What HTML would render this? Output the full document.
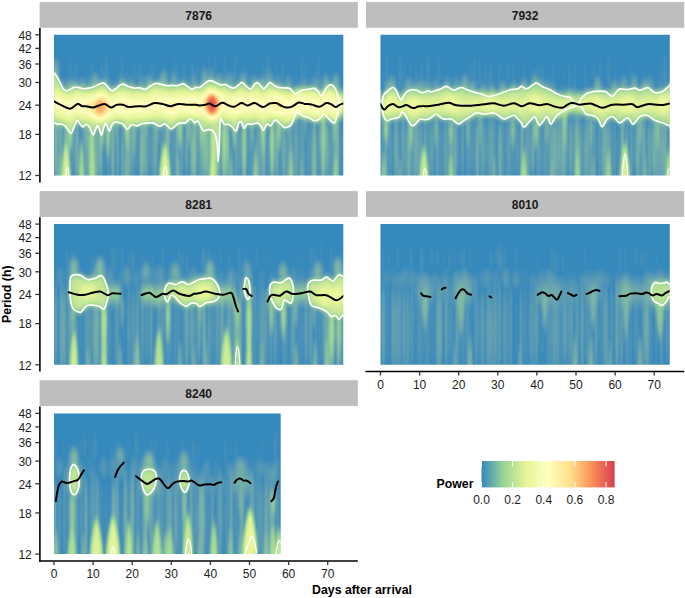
<!DOCTYPE html><html><head><meta charset="utf-8"><style>html,body{margin:0;padding:0;background:#fff;width:685px;height:598px;overflow:hidden;position:relative}text{font-family:"Liberation Sans",sans-serif}</style></head><body><svg width="685" height="598" viewBox="0 0 685 598" style="position:absolute;left:0;top:0"><rect x="39.6" y="1.95" width="318.2" height="25.85" fill="#bebebe"/><text x="198.7" y="19.50" font-family="Liberation Sans, sans-serif" font-size="12" font-weight="bold" fill="#1a1a1a" text-anchor="middle">7876</text><rect x="366.0" y="1.95" width="318.2" height="25.85" fill="#bebebe"/><text x="525.1" y="19.50" font-family="Liberation Sans, sans-serif" font-size="12" font-weight="bold" fill="#1a1a1a" text-anchor="middle">7932</text><rect x="39.6" y="191.1" width="318.2" height="25.85" fill="#bebebe"/><text x="198.7" y="208.65" font-family="Liberation Sans, sans-serif" font-size="12" font-weight="bold" fill="#1a1a1a" text-anchor="middle">8281</text><rect x="366.0" y="191.1" width="318.2" height="25.85" fill="#bebebe"/><text x="525.1" y="208.65" font-family="Liberation Sans, sans-serif" font-size="12" font-weight="bold" fill="#1a1a1a" text-anchor="middle">8010</text><rect x="39.6" y="380.2" width="318.2" height="25.85" fill="#bebebe"/><text x="198.7" y="397.75" font-family="Liberation Sans, sans-serif" font-size="12" font-weight="bold" fill="#1a1a1a" text-anchor="middle">8240</text><defs><filter id="cm" filterUnits="userSpaceOnUse" x="0" y="0" width="685" height="598" color-interpolation-filters="sRGB"><feComponentTransfer><feFuncR type="table" tableValues="0.196 0.284 0.349 0.403 0.450 0.492 0.530 0.566 0.600 0.640 0.679 0.717 0.755 0.792 0.829 0.866 0.902 0.914 0.927 0.939 0.951 0.964 0.976 0.988 1.000 1.000 1.000 1.000 1.000 1.000 0.999 0.998 0.996 0.999 1.000 1.000 1.000 0.998 0.996 0.992 0.988 0.970 0.951 0.932 0.913 0.894 0.875 0.855 0.835"/><feFuncG type="table" tableValues="0.533 0.569 0.605 0.642 0.680 0.718 0.757 0.796 0.835 0.851 0.867 0.882 0.898 0.914 0.929 0.945 0.961 0.966 0.971 0.976 0.980 0.985 0.990 0.995 1.000 0.985 0.969 0.954 0.939 0.924 0.909 0.894 0.878 0.839 0.799 0.759 0.719 0.679 0.637 0.596 0.553 0.517 0.481 0.445 0.408 0.369 0.330 0.288 0.243"/><feFuncB type="table" tableValues="0.741 0.724 0.705 0.687 0.667 0.647 0.626 0.604 0.580 0.583 0.585 0.587 0.589 0.591 0.593 0.594 0.596 0.615 0.634 0.654 0.673 0.692 0.711 0.730 0.749 0.723 0.698 0.672 0.647 0.621 0.596 0.571 0.545 0.520 0.494 0.470 0.445 0.420 0.396 0.373 0.349 0.345 0.340 0.336 0.331 0.326 0.321 0.315 0.310"/></feComponentTransfer></filter><clipPath id="c7876"><rect x="54.0" y="34.8" width="289.3" height="140.7"/></clipPath><clipPath id="c7932"><rect x="380.5" y="34.8" width="289.3" height="140.7"/></clipPath><clipPath id="c8281"><rect x="54.0" y="224.1" width="289.3" height="140.7"/></clipPath><clipPath id="c8010"><rect x="380.5" y="224.1" width="289.3" height="140.7"/></clipPath><clipPath id="c8240"><rect x="54.0" y="413.4" width="226.7" height="140.7"/></clipPath><filter id="b2p2_3p5" filterUnits="userSpaceOnUse" x="0" y="0" width="685" height="598" color-interpolation-filters="sRGB"><feGaussianBlur stdDeviation="2.2 3.5"/></filter><filter id="b1p1_5" filterUnits="userSpaceOnUse" x="0" y="0" width="685" height="598" color-interpolation-filters="sRGB"><feGaussianBlur stdDeviation="1.1 5"/></filter><filter id="b1p8_4" filterUnits="userSpaceOnUse" x="0" y="0" width="685" height="598" color-interpolation-filters="sRGB"><feGaussianBlur stdDeviation="1.8 4"/></filter><filter id="b1p5_3p3" filterUnits="userSpaceOnUse" x="0" y="0" width="685" height="598" color-interpolation-filters="sRGB"><feGaussianBlur stdDeviation="1.5 3.3"/></filter><filter id="b2_5p5" filterUnits="userSpaceOnUse" x="0" y="0" width="685" height="598" color-interpolation-filters="sRGB"><feGaussianBlur stdDeviation="2 5.5"/></filter><filter id="b3_4" filterUnits="userSpaceOnUse" x="0" y="0" width="685" height="598" color-interpolation-filters="sRGB"><feGaussianBlur stdDeviation="3 4"/></filter><filter id="b3_7" filterUnits="userSpaceOnUse" x="0" y="0" width="685" height="598" color-interpolation-filters="sRGB"><feGaussianBlur stdDeviation="3 7"/></filter></defs><g clip-path="url(#c7876)"><g filter="url(#cm)"><rect x="34.0" y="14.799999999999997" width="329.3" height="180.7" fill="#010101"/><g filter="url(#b2p2_3p5)" style="mix-blend-mode:lighten"><ellipse cx="55.6" cy="70.8" rx="2.3" ry="10.8" fill="#1f1f1f"/><ellipse cx="63.4" cy="86.8" rx="3.0" ry="7.1" fill="#0e0e0e"/><ellipse cx="70.1" cy="87.5" rx="3.0" ry="7.1" fill="#202020"/><ellipse cx="75.3" cy="85.9" rx="2.3" ry="6.4" fill="#1b1b1b"/><ellipse cx="82.5" cy="86.4" rx="2.7" ry="7.6" fill="#181818"/><ellipse cx="89.9" cy="85.4" rx="2.3" ry="8.2" fill="#101010"/><ellipse cx="95.4" cy="83.0" rx="3.2" ry="9.4" fill="#191919"/><ellipse cx="105.8" cy="82.5" rx="2.6" ry="7.9" fill="#131313"/><ellipse cx="113.2" cy="89.0" rx="3.0" ry="6.0" fill="#141414"/><ellipse cx="121.4" cy="83.3" rx="2.5" ry="6.1" fill="#1a1a1a"/><ellipse cx="126.3" cy="83.7" rx="2.8" ry="6.8" fill="#0a0a0a"/><ellipse cx="132.3" cy="85.9" rx="2.1" ry="6.8" fill="#191919"/><ellipse cx="141.7" cy="85.3" rx="2.5" ry="9.3" fill="#141414"/><ellipse cx="149.7" cy="84.4" rx="3.3" ry="7.6" fill="#1e1e1e"/><ellipse cx="158.9" cy="82.6" rx="3.0" ry="6.0" fill="#0b0b0b"/><ellipse cx="163.9" cy="81.1" rx="2.5" ry="10.7" fill="#1e1e1e"/><ellipse cx="174.1" cy="82.3" rx="2.2" ry="9.5" fill="#1b1b1b"/><ellipse cx="184.1" cy="82.7" rx="3.2" ry="6.7" fill="#0d0d0d"/><ellipse cx="194.0" cy="84.6" rx="3.1" ry="10.5" fill="#141414"/><ellipse cx="204.4" cy="79.9" rx="2.2" ry="10.8" fill="#1e1e1e"/><ellipse cx="211.4" cy="78.4" rx="2.1" ry="8.7" fill="#191919"/><ellipse cx="218.4" cy="81.8" rx="2.1" ry="7.4" fill="#1d1d1d"/><ellipse cx="223.8" cy="82.7" rx="3.4" ry="7.3" fill="#0e0e0e"/><ellipse cx="229.3" cy="83.0" rx="3.5" ry="10.5" fill="#111111"/><ellipse cx="234.8" cy="83.9" rx="3.0" ry="10.4" fill="#090909"/><ellipse cx="243.6" cy="81.5" rx="3.3" ry="8.3" fill="#171717"/><ellipse cx="253.6" cy="83.6" rx="2.4" ry="7.4" fill="#191919"/><ellipse cx="261.9" cy="84.9" rx="2.8" ry="7.7" fill="#1f1f1f"/><ellipse cx="268.5" cy="80.3" rx="3.0" ry="10.5" fill="#131313"/><ellipse cx="273.7" cy="83.7" rx="2.3" ry="6.3" fill="#0c0c0c"/><ellipse cx="279.3" cy="85.2" rx="2.5" ry="7.8" fill="#141414"/><ellipse cx="288.3" cy="85.3" rx="3.0" ry="9.4" fill="#121212"/><ellipse cx="297.4" cy="91.3" rx="2.8" ry="6.6" fill="#161616"/><ellipse cx="304.2" cy="86.8" rx="3.0" ry="9.7" fill="#0f0f0f"/><ellipse cx="311.8" cy="86.6" rx="2.7" ry="7.5" fill="#0a0a0a"/><ellipse cx="316.9" cy="87.1" rx="3.5" ry="9.7" fill="#131313"/><ellipse cx="326.0" cy="85.2" rx="2.4" ry="9.6" fill="#202020"/><ellipse cx="335.7" cy="85.7" rx="2.7" ry="10.9" fill="#1f1f1f"/><ellipse cx="340.9" cy="101.6" rx="2.6" ry="8.3" fill="#0f0f0f"/></g><g filter="url(#b1p1_5)" style="mix-blend-mode:lighten"><ellipse cx="52.5" cy="148.3" rx="1.6" ry="36.4" fill="#1d1d1d"/><ellipse cx="56.2" cy="144.5" rx="1.5" ry="34.6" fill="#1e1e1e"/><ellipse cx="60.8" cy="146.5" rx="1.3" ry="37.7" fill="#1d1d1d"/><ellipse cx="65.1" cy="149.4" rx="1.2" ry="29.8" fill="#222222"/><ellipse cx="67.8" cy="147.4" rx="1.4" ry="34.0" fill="#222222"/><ellipse cx="71.4" cy="149.4" rx="1.0" ry="35.3" fill="#0f0f0f"/><ellipse cx="74.6" cy="148.3" rx="1.2" ry="34.0" fill="#0f0f0f"/><ellipse cx="77.3" cy="148.8" rx="1.6" ry="32.3" fill="#181818"/><ellipse cx="82.2" cy="150.1" rx="1.6" ry="37.3" fill="#0c0c0c"/><ellipse cx="86.5" cy="152.8" rx="1.7" ry="34.0" fill="#141414"/><ellipse cx="89.9" cy="151.9" rx="1.4" ry="33.0" fill="#212121"/><ellipse cx="93.9" cy="151.1" rx="1.0" ry="32.7" fill="#0f0f0f"/><ellipse cx="96.9" cy="150.1" rx="1.4" ry="33.2" fill="#1c1c1c"/><ellipse cx="100.6" cy="149.3" rx="1.4" ry="34.2" fill="#1e1e1e"/><ellipse cx="104.4" cy="153.9" rx="1.0" ry="36.7" fill="#0a0a0a"/><ellipse cx="108.4" cy="152.7" rx="1.3" ry="37.9" fill="#0e0e0e"/><ellipse cx="112.8" cy="148.3" rx="1.4" ry="36.7" fill="#202020"/><ellipse cx="117.6" cy="148.7" rx="1.4" ry="36.7" fill="#151515"/><ellipse cx="122.5" cy="154.0" rx="1.0" ry="35.4" fill="#1e1e1e"/><ellipse cx="126.8" cy="149.7" rx="1.6" ry="34.2" fill="#171717"/><ellipse cx="129.6" cy="148.0" rx="1.7" ry="36.8" fill="#181818"/><ellipse cx="133.4" cy="150.8" rx="1.3" ry="35.5" fill="#121212"/><ellipse cx="137.4" cy="146.2" rx="1.3" ry="34.7" fill="#0a0a0a"/><ellipse cx="141.4" cy="153.5" rx="1.6" ry="35.1" fill="#1e1e1e"/><ellipse cx="144.7" cy="144.4" rx="1.6" ry="34.6" fill="#1b1b1b"/><ellipse cx="147.3" cy="148.2" rx="1.6" ry="38.1" fill="#101010"/><ellipse cx="150.8" cy="148.0" rx="1.1" ry="32.8" fill="#0d0d0d"/><ellipse cx="154.1" cy="148.6" rx="1.5" ry="35.9" fill="#151515"/><ellipse cx="156.8" cy="145.6" rx="1.3" ry="34.5" fill="#141414"/><ellipse cx="161.5" cy="152.3" rx="1.4" ry="36.3" fill="#0f0f0f"/><ellipse cx="164.2" cy="149.1" rx="1.0" ry="31.6" fill="#0d0d0d"/><ellipse cx="168.5" cy="151.0" rx="1.5" ry="39.5" fill="#181818"/><ellipse cx="173.0" cy="150.1" rx="1.4" ry="33.5" fill="#0f0f0f"/><ellipse cx="176.9" cy="145.9" rx="1.2" ry="36.4" fill="#1a1a1a"/><ellipse cx="181.8" cy="150.8" rx="1.7" ry="31.7" fill="#111111"/><ellipse cx="186.6" cy="145.4" rx="1.6" ry="33.5" fill="#141414"/><ellipse cx="191.3" cy="153.0" rx="1.0" ry="32.6" fill="#1f1f1f"/><ellipse cx="194.3" cy="151.1" rx="1.7" ry="33.8" fill="#232323"/><ellipse cx="197.8" cy="150.4" rx="1.3" ry="33.6" fill="#0e0e0e"/><ellipse cx="200.9" cy="148.6" rx="1.1" ry="36.2" fill="#1b1b1b"/><ellipse cx="204.3" cy="145.1" rx="1.7" ry="36.1" fill="#212121"/><ellipse cx="207.7" cy="147.1" rx="1.7" ry="34.2" fill="#1e1e1e"/><ellipse cx="211.9" cy="151.2" rx="1.6" ry="38.2" fill="#222222"/><ellipse cx="216.2" cy="149.6" rx="1.4" ry="37.9" fill="#232323"/><ellipse cx="219.0" cy="149.6" rx="1.1" ry="38.3" fill="#212121"/><ellipse cx="223.0" cy="147.6" rx="1.6" ry="34.7" fill="#131313"/><ellipse cx="227.7" cy="149.9" rx="1.5" ry="30.5" fill="#232323"/><ellipse cx="231.6" cy="149.4" rx="1.1" ry="39.8" fill="#0a0a0a"/><ellipse cx="236.1" cy="152.2" rx="1.6" ry="36.0" fill="#121212"/><ellipse cx="239.6" cy="145.9" rx="1.4" ry="36.1" fill="#0f0f0f"/><ellipse cx="244.3" cy="148.2" rx="1.4" ry="33.9" fill="#222222"/><ellipse cx="248.7" cy="148.4" rx="1.6" ry="31.5" fill="#090909"/><ellipse cx="251.6" cy="151.2" rx="1.7" ry="39.5" fill="#0a0a0a"/><ellipse cx="255.3" cy="149.7" rx="1.1" ry="38.0" fill="#0d0d0d"/><ellipse cx="258.2" cy="155.1" rx="1.7" ry="34.6" fill="#131313"/><ellipse cx="261.5" cy="148.3" rx="1.2" ry="38.3" fill="#161616"/><ellipse cx="264.2" cy="149.2" rx="1.0" ry="36.8" fill="#232323"/><ellipse cx="267.9" cy="155.1" rx="1.2" ry="35.3" fill="#0b0b0b"/><ellipse cx="272.8" cy="153.4" rx="1.1" ry="37.2" fill="#0f0f0f"/><ellipse cx="276.7" cy="148.6" rx="1.5" ry="36.7" fill="#1b1b1b"/><ellipse cx="280.1" cy="151.4" rx="1.2" ry="39.2" fill="#0b0b0b"/><ellipse cx="283.7" cy="151.8" rx="1.5" ry="31.7" fill="#1a1a1a"/><ellipse cx="287.1" cy="154.2" rx="1.2" ry="35.3" fill="#111111"/><ellipse cx="290.5" cy="150.8" rx="1.3" ry="35.1" fill="#181818"/><ellipse cx="293.7" cy="147.5" rx="1.0" ry="37.9" fill="#0f0f0f"/><ellipse cx="296.5" cy="150.3" rx="1.1" ry="38.0" fill="#1a1a1a"/><ellipse cx="300.3" cy="151.6" rx="1.6" ry="36.8" fill="#0d0d0d"/><ellipse cx="303.1" cy="154.4" rx="1.7" ry="36.3" fill="#0e0e0e"/><ellipse cx="307.6" cy="152.4" rx="1.2" ry="37.4" fill="#0c0c0c"/><ellipse cx="311.0" cy="149.5" rx="1.7" ry="29.7" fill="#0d0d0d"/><ellipse cx="314.4" cy="154.3" rx="1.7" ry="34.6" fill="#1f1f1f"/><ellipse cx="318.7" cy="147.3" rx="1.5" ry="33.4" fill="#0e0e0e"/><ellipse cx="323.0" cy="150.0" rx="1.5" ry="40.4" fill="#101010"/><ellipse cx="327.5" cy="151.6" rx="1.4" ry="32.6" fill="#171717"/><ellipse cx="331.1" cy="147.8" rx="1.3" ry="38.7" fill="#101010"/><ellipse cx="334.7" cy="146.8" rx="1.4" ry="33.7" fill="#0b0b0b"/><ellipse cx="337.6" cy="148.6" rx="1.2" ry="35.0" fill="#1f1f1f"/><ellipse cx="341.7" cy="150.0" rx="1.2" ry="34.8" fill="#090909"/><ellipse cx="345.8" cy="149.6" rx="1.3" ry="32.0" fill="#1b1b1b"/><ellipse cx="54.4" cy="83.6" rx="1.2" ry="26.1" fill="#030303"/><ellipse cx="60.6" cy="75.5" rx="1.2" ry="24.1" fill="#050505"/><ellipse cx="65.7" cy="84.7" rx="1.7" ry="24.7" fill="#010101"/><ellipse cx="70.1" cy="81.2" rx="1.5" ry="26.0" fill="#060606"/><ellipse cx="75.8" cy="85.9" rx="1.4" ry="24.4" fill="#060606"/><ellipse cx="81.0" cy="79.5" rx="1.1" ry="26.1" fill="#020202"/><ellipse cx="86.8" cy="81.2" rx="1.0" ry="21.8" fill="#050505"/><ellipse cx="91.9" cy="80.9" rx="1.1" ry="29.6" fill="#050505"/><ellipse cx="97.8" cy="86.0" rx="1.5" ry="24.3" fill="#020202"/><ellipse cx="101.7" cy="83.0" rx="1.6" ry="24.2" fill="#060606"/><ellipse cx="106.5" cy="81.9" rx="1.7" ry="26.5" fill="#070707"/><ellipse cx="111.3" cy="81.0" rx="1.1" ry="28.7" fill="#020202"/><ellipse cx="117.7" cy="78.0" rx="1.1" ry="22.3" fill="#040404"/><ellipse cx="122.1" cy="76.0" rx="1.2" ry="25.1" fill="#060606"/><ellipse cx="126.9" cy="83.4" rx="1.0" ry="25.4" fill="#050505"/><ellipse cx="131.0" cy="80.0" rx="1.2" ry="25.9" fill="#040404"/><ellipse cx="135.3" cy="85.5" rx="1.5" ry="25.0" fill="#060606"/><ellipse cx="140.4" cy="82.8" rx="1.4" ry="22.8" fill="#060606"/><ellipse cx="145.1" cy="80.4" rx="1.2" ry="19.9" fill="#010101"/><ellipse cx="150.8" cy="85.2" rx="1.4" ry="25.3" fill="#070707"/><ellipse cx="154.7" cy="79.7" rx="1.4" ry="25.2" fill="#040404"/><ellipse cx="159.3" cy="80.2" rx="1.4" ry="24.0" fill="#000000"/><ellipse cx="163.7" cy="81.9" rx="1.3" ry="22.9" fill="#060606"/><ellipse cx="169.2" cy="76.5" rx="1.3" ry="25.6" fill="#020202"/><ellipse cx="174.4" cy="83.8" rx="1.7" ry="26.9" fill="#060606"/><ellipse cx="179.3" cy="85.2" rx="1.6" ry="25.5" fill="#030303"/><ellipse cx="183.7" cy="80.1" rx="1.1" ry="23.0" fill="#050505"/><ellipse cx="187.3" cy="82.4" rx="1.3" ry="26.7" fill="#030303"/><ellipse cx="192.5" cy="82.2" rx="1.6" ry="22.5" fill="#070707"/><ellipse cx="198.2" cy="81.0" rx="1.5" ry="22.7" fill="#050505"/><ellipse cx="203.6" cy="84.6" rx="1.5" ry="24.4" fill="#070707"/><ellipse cx="209.4" cy="78.5" rx="1.6" ry="23.5" fill="#050505"/><ellipse cx="215.1" cy="80.7" rx="1.7" ry="28.1" fill="#040404"/><ellipse cx="220.0" cy="82.3" rx="1.4" ry="25.4" fill="#000000"/><ellipse cx="224.8" cy="78.0" rx="1.3" ry="26.9" fill="#050505"/><ellipse cx="231.1" cy="82.6" rx="1.5" ry="23.5" fill="#030303"/><ellipse cx="235.3" cy="76.9" rx="1.2" ry="22.8" fill="#070707"/><ellipse cx="241.2" cy="82.3" rx="1.4" ry="25.4" fill="#030303"/><ellipse cx="245.2" cy="81.3" rx="1.5" ry="20.7" fill="#050505"/><ellipse cx="250.6" cy="80.6" rx="1.2" ry="27.7" fill="#040404"/><ellipse cx="256.7" cy="84.8" rx="1.2" ry="22.5" fill="#020202"/><ellipse cx="262.7" cy="80.4" rx="1.0" ry="22.2" fill="#070707"/><ellipse cx="267.5" cy="79.7" rx="1.6" ry="26.6" fill="#060606"/><ellipse cx="271.5" cy="84.6" rx="1.7" ry="22.9" fill="#030303"/><ellipse cx="276.8" cy="76.5" rx="1.2" ry="24.0" fill="#040404"/><ellipse cx="282.5" cy="80.6" rx="1.3" ry="26.9" fill="#060606"/><ellipse cx="288.1" cy="80.1" rx="1.2" ry="24.6" fill="#010101"/><ellipse cx="291.9" cy="83.7" rx="1.1" ry="25.7" fill="#000000"/><ellipse cx="296.1" cy="85.5" rx="1.0" ry="24.9" fill="#050505"/><ellipse cx="301.4" cy="79.7" rx="1.3" ry="27.4" fill="#060606"/><ellipse cx="305.2" cy="78.1" rx="1.3" ry="22.7" fill="#040404"/><ellipse cx="309.4" cy="79.6" rx="1.6" ry="21.8" fill="#030303"/><ellipse cx="315.0" cy="86.2" rx="1.2" ry="24.5" fill="#040404"/><ellipse cx="318.7" cy="79.0" rx="1.6" ry="24.4" fill="#060606"/><ellipse cx="323.9" cy="84.6" rx="1.7" ry="23.3" fill="#030303"/><ellipse cx="327.9" cy="79.7" rx="1.7" ry="27.1" fill="#000000"/><ellipse cx="331.5" cy="82.6" rx="1.3" ry="26.3" fill="#010101"/><ellipse cx="337.8" cy="80.1" rx="1.0" ry="19.2" fill="#000000"/><ellipse cx="342.1" cy="78.8" rx="1.1" ry="27.7" fill="#010101"/></g><g filter="url(#b1p8_4)" style="mix-blend-mode:lighten"><path d="M70.5,118.0 C70.9,118.0 71.4,120.4 71.7,122.1 C72.0,123.8 72.5,124.8 72.5,128.2 C72.5,131.6 72.0,138.5 71.7,142.5 C71.4,146.4 70.9,152.0 70.5,152.0 C70.1,152.0 69.6,146.4 69.3,142.5 C69.0,138.5 68.5,131.6 68.5,128.2 C68.5,124.8 69.0,123.8 69.3,122.1 C69.6,120.4 70.1,118.0 70.5,118.0Z" fill="#363636"/><path d="M92.0,122.0 C92.5,122.0 93.1,125.7 93.5,128.4 C93.9,131.0 94.5,132.6 94.5,137.9 C94.5,143.2 93.9,154.0 93.5,160.2 C93.1,166.3 92.5,175.0 92.0,175.0 C91.5,175.0 90.9,166.3 90.5,160.2 C90.1,154.0 89.5,143.2 89.5,137.9 C89.5,132.6 90.1,131.0 90.5,128.4 C90.9,125.7 91.5,122.0 92.0,122.0Z" fill="#2d2d2d"/><path d="M102.0,122.0 C102.3,122.0 102.8,124.0 103.0,125.4 C103.3,126.8 103.8,127.6 103.8,130.4 C103.8,133.2 103.3,138.9 103.0,142.2 C102.8,145.4 102.3,150.0 102.0,150.0 C101.7,150.0 101.2,145.4 101.0,142.2 C100.7,138.9 100.2,133.2 100.2,130.4 C100.2,127.6 100.7,126.8 101.0,125.4 C101.2,124.0 101.7,122.0 102.0,122.0Z" fill="#2d2d2d"/><path d="M108.0,120.0 C108.4,120.0 108.9,122.8 109.2,124.8 C109.5,126.8 110.0,128.0 110.0,132.0 C110.0,136.0 109.5,144.1 109.2,148.8 C108.9,153.5 108.4,160.0 108.0,160.0 C107.6,160.0 107.1,153.5 106.8,148.8 C106.5,144.1 106.0,136.0 106.0,132.0 C106.0,128.0 106.5,126.8 106.8,124.8 C107.1,122.8 107.6,120.0 108.0,120.0Z" fill="#2d2d2d"/><path d="M127.0,120.0 C127.4,120.0 127.9,122.1 128.2,123.6 C128.5,125.1 129.0,126.0 129.0,129.0 C129.0,132.0 128.5,138.1 128.2,141.6 C127.9,145.1 127.4,150.0 127.0,150.0 C126.6,150.0 126.1,145.1 125.8,141.6 C125.5,138.1 125.0,132.0 125.0,129.0 C125.0,126.0 125.5,125.1 125.8,123.6 C126.1,122.1 126.6,120.0 127.0,120.0Z" fill="#2d2d2d"/><path d="M134.0,120.0 C134.4,120.0 134.9,122.8 135.2,124.8 C135.5,126.8 136.0,128.0 136.0,132.0 C136.0,136.0 135.5,144.1 135.2,148.8 C134.9,153.5 134.4,160.0 134.0,160.0 C133.6,160.0 133.1,153.5 132.8,148.8 C132.5,144.1 132.0,136.0 132.0,132.0 C132.0,128.0 132.5,126.8 132.8,124.8 C133.1,122.8 133.6,120.0 134.0,120.0Z" fill="#1e1e1e"/><path d="M167.0,120.0 C167.3,120.0 167.7,122.5 167.9,124.2 C168.2,126.0 168.5,127.0 168.5,130.5 C168.5,134.0 168.2,141.1 167.9,145.2 C167.7,149.3 167.3,155.0 167.0,155.0 C166.7,155.0 166.3,149.3 166.1,145.2 C165.8,141.1 165.5,134.0 165.5,130.5 C165.5,127.0 165.8,126.0 166.1,124.2 C166.3,122.5 166.7,120.0 167.0,120.0Z" fill="#242424"/><path d="M180.0,118.0 C180.4,118.0 180.9,120.2 181.2,121.8 C181.5,123.4 182.0,124.4 182.0,127.6 C182.0,130.8 181.5,137.3 181.2,141.0 C180.9,144.8 180.4,150.0 180.0,150.0 C179.6,150.0 179.1,144.8 178.8,141.0 C178.5,137.3 178.0,130.8 178.0,127.6 C178.0,124.4 178.5,123.4 178.8,121.8 C179.1,120.2 179.6,118.0 180.0,118.0Z" fill="#303030"/><path d="M189.0,118.0 C189.3,118.0 189.7,120.1 189.9,121.6 C190.2,123.1 190.5,124.0 190.5,127.0 C190.5,130.0 190.2,136.1 189.9,139.6 C189.7,143.1 189.3,148.0 189.0,148.0 C188.7,148.0 188.3,143.1 188.1,139.6 C187.8,136.1 187.5,130.0 187.5,127.0 C187.5,124.0 187.8,123.1 188.1,121.6 C188.3,120.1 188.7,118.0 189.0,118.0Z" fill="#272727"/><path d="M202.0,120.0 C202.4,120.0 202.9,122.1 203.2,123.6 C203.5,125.1 204.0,126.0 204.0,129.0 C204.0,132.0 203.5,138.1 203.2,141.6 C202.9,145.1 202.4,150.0 202.0,150.0 C201.6,150.0 201.1,145.1 200.8,141.6 C200.5,138.1 200.0,132.0 200.0,129.0 C200.0,126.0 200.5,125.1 200.8,123.6 C201.1,122.1 201.6,120.0 202.0,120.0Z" fill="#2d2d2d"/><path d="M214.0,118.0 C214.6,118.0 215.3,122.7 215.8,126.0 C216.3,129.4 217.0,131.4 217.0,138.1 C217.0,144.8 216.3,158.4 215.8,166.2 C215.3,174.1 214.6,185.0 214.0,185.0 C213.4,185.0 212.7,174.1 212.2,166.2 C211.7,158.4 211.0,144.8 211.0,138.1 C211.0,131.4 211.7,129.4 212.2,126.0 C212.7,122.7 213.4,118.0 214.0,118.0Z" fill="#424242"/><path d="M224.5,118.0 C224.9,118.0 225.5,122.7 225.8,126.0 C226.2,129.4 226.8,131.4 226.8,138.1 C226.8,144.8 226.2,158.4 225.8,166.2 C225.5,174.1 224.9,185.0 224.5,185.0 C224.1,185.0 223.5,174.1 223.2,166.2 C222.8,158.4 222.2,144.8 222.2,138.1 C222.2,131.4 222.8,129.4 223.2,126.0 C223.5,122.7 224.1,118.0 224.5,118.0Z" fill="#333333"/><path d="M234.5,120.0 C234.8,120.0 235.3,122.1 235.6,123.6 C235.8,125.1 236.2,126.0 236.2,129.0 C236.2,132.0 235.8,138.1 235.6,141.6 C235.3,145.1 234.8,150.0 234.5,150.0 C234.2,150.0 233.7,145.1 233.4,141.6 C233.2,138.1 232.8,132.0 232.8,129.0 C232.8,126.0 233.2,125.1 233.4,123.6 C233.7,122.1 234.2,120.0 234.5,120.0Z" fill="#2d2d2d"/><path d="M244.0,120.0 C244.4,120.0 245.0,124.5 245.3,127.8 C245.7,131.1 246.2,133.0 246.2,139.5 C246.2,146.0 245.7,159.2 245.3,166.8 C245.0,174.4 244.4,185.0 244.0,185.0 C243.6,185.0 243.0,174.4 242.7,166.8 C242.3,159.2 241.8,146.0 241.8,139.5 C241.8,133.0 242.3,131.1 242.7,127.8 C243.0,124.5 243.6,120.0 244.0,120.0Z" fill="#272727"/><path d="M263.0,120.0 C263.4,120.0 263.9,122.5 264.2,124.2 C264.5,126.0 265.0,127.0 265.0,130.5 C265.0,134.0 264.5,141.1 264.2,145.2 C263.9,149.3 263.4,155.0 263.0,155.0 C262.6,155.0 262.1,149.3 261.8,145.2 C261.5,141.1 261.0,134.0 261.0,130.5 C261.0,127.0 261.5,126.0 261.8,124.2 C262.1,122.5 262.6,120.0 263.0,120.0Z" fill="#2d2d2d"/><path d="M272.0,118.0 C272.4,118.0 273.0,122.7 273.4,126.0 C273.7,129.4 274.2,131.4 274.2,138.1 C274.2,144.8 273.7,158.4 273.4,166.2 C273.0,174.1 272.4,185.0 272.0,185.0 C271.6,185.0 271.0,174.1 270.6,166.2 C270.3,158.4 269.8,144.8 269.8,138.1 C269.8,131.4 270.3,129.4 270.6,126.0 C271.0,122.7 271.6,118.0 272.0,118.0Z" fill="#303030"/><path d="M279.0,118.0 C279.5,118.0 280.1,120.2 280.5,121.8 C280.9,123.4 281.5,124.4 281.5,127.6 C281.5,130.8 280.9,137.3 280.5,141.0 C280.1,144.8 279.5,150.0 279.0,150.0 C278.5,150.0 277.9,144.8 277.5,141.0 C277.1,137.3 276.5,130.8 276.5,127.6 C276.5,124.4 277.1,123.4 277.5,121.8 C277.9,120.2 278.5,118.0 279.0,118.0Z" fill="#272727"/><path d="M323.5,112.0 C324.1,112.0 324.8,117.1 325.3,120.8 C325.8,124.4 326.5,126.6 326.5,133.9 C326.5,141.2 325.8,156.0 325.3,164.6 C324.8,173.1 324.1,185.0 323.5,185.0 C322.9,185.0 322.2,173.1 321.7,164.6 C321.2,156.0 320.5,141.2 320.5,133.9 C320.5,126.6 321.2,124.4 321.7,120.8 C322.2,117.1 322.9,112.0 323.5,112.0Z" fill="#272727"/><path d="M335.0,115.0 C335.4,115.0 335.9,117.5 336.2,119.2 C336.5,121.0 337.0,122.0 337.0,125.5 C337.0,129.0 336.5,136.1 336.2,140.2 C335.9,144.3 335.4,150.0 335.0,150.0 C334.6,150.0 334.1,144.3 333.8,140.2 C333.5,136.1 333.0,129.0 333.0,125.5 C333.0,122.0 333.5,121.0 333.8,119.2 C334.1,117.5 334.6,115.0 335.0,115.0Z" fill="#272727"/><path d="M58.0,118.0 C58.3,118.0 58.6,120.2 58.9,121.8 C59.1,123.4 59.5,124.4 59.5,127.6 C59.5,130.8 59.1,137.3 58.9,141.0 C58.6,144.8 58.3,150.0 58.0,150.0 C57.7,150.0 57.4,144.8 57.1,141.0 C56.9,137.3 56.5,130.8 56.5,127.6 C56.5,124.4 56.9,123.4 57.1,121.8 C57.4,120.2 57.7,118.0 58.0,118.0Z" fill="#181818"/><path d="M86.0,120.0 C86.3,120.0 86.7,122.1 86.9,123.6 C87.2,125.1 87.5,126.0 87.5,129.0 C87.5,132.0 87.2,138.1 86.9,141.6 C86.7,145.1 86.3,150.0 86.0,150.0 C85.7,150.0 85.3,145.1 85.1,141.6 C84.8,138.1 84.5,132.0 84.5,129.0 C84.5,126.0 84.8,125.1 85.1,123.6 C85.3,122.1 85.7,120.0 86.0,120.0Z" fill="#1e1e1e"/><path d="M116.0,118.0 C116.3,118.0 116.7,119.5 116.9,120.6 C117.2,121.7 117.5,122.4 117.5,124.6 C117.5,126.8 117.2,131.3 116.9,133.8 C116.7,136.4 116.3,140.0 116.0,140.0 C115.7,140.0 115.3,136.4 115.1,133.8 C114.8,131.3 114.5,126.8 114.5,124.6 C114.5,122.4 114.8,121.7 115.1,120.6 C115.3,119.5 115.7,118.0 116.0,118.0Z" fill="#1e1e1e"/><path d="M145.0,118.0 C145.3,118.0 145.7,119.5 145.9,120.6 C146.2,121.7 146.5,122.4 146.5,124.6 C146.5,126.8 146.2,131.3 145.9,133.8 C145.7,136.4 145.3,140.0 145.0,140.0 C144.7,140.0 144.3,136.4 144.1,133.8 C143.8,131.3 143.5,126.8 143.5,124.6 C143.5,122.4 143.8,121.7 144.1,120.6 C144.3,119.5 144.7,118.0 145.0,118.0Z" fill="#181818"/><path d="M157.0,118.0 C157.3,118.0 157.7,119.9 157.9,121.2 C158.2,122.6 158.5,123.4 158.5,126.1 C158.5,128.8 158.2,134.3 157.9,137.4 C157.7,140.6 157.3,145.0 157.0,145.0 C156.7,145.0 156.3,140.6 156.1,137.4 C155.8,134.3 155.5,128.8 155.5,126.1 C155.5,123.4 155.8,122.6 156.1,121.2 C156.3,119.9 156.7,118.0 157.0,118.0Z" fill="#1b1b1b"/><path d="M196.0,118.0 C196.3,118.0 196.7,119.5 196.9,120.6 C197.2,121.7 197.5,122.4 197.5,124.6 C197.5,126.8 197.2,131.3 196.9,133.8 C196.7,136.4 196.3,140.0 196.0,140.0 C195.7,140.0 195.3,136.4 195.1,133.8 C194.8,131.3 194.5,126.8 194.5,124.6 C194.5,122.4 194.8,121.7 195.1,120.6 C195.3,119.5 195.7,118.0 196.0,118.0Z" fill="#1e1e1e"/><path d="M252.0,118.0 C252.3,118.0 252.7,120.2 252.9,121.8 C253.2,123.4 253.5,124.4 253.5,127.6 C253.5,130.8 253.2,137.3 252.9,141.0 C252.7,144.8 252.3,150.0 252.0,150.0 C251.7,150.0 251.3,144.8 251.1,141.0 C250.8,137.3 250.5,130.8 250.5,127.6 C250.5,124.4 250.8,123.4 251.1,121.8 C251.3,120.2 251.7,118.0 252.0,118.0Z" fill="#1e1e1e"/><path d="M289.0,118.0 C289.3,118.0 289.6,119.5 289.9,120.6 C290.1,121.7 290.5,122.4 290.5,124.6 C290.5,126.8 290.1,131.3 289.9,133.8 C289.6,136.4 289.3,140.0 289.0,140.0 C288.7,140.0 288.4,136.4 288.1,133.8 C287.9,131.3 287.5,126.8 287.5,124.6 C287.5,122.4 287.9,121.7 288.1,120.6 C288.4,119.5 288.7,118.0 289.0,118.0Z" fill="#181818"/><path d="M305.0,112.0 C305.3,112.0 305.6,114.0 305.9,115.4 C306.1,116.8 306.5,117.6 306.5,120.4 C306.5,123.2 306.1,128.9 305.9,132.2 C305.6,135.4 305.3,140.0 305.0,140.0 C304.7,140.0 304.4,135.4 304.1,132.2 C303.9,128.9 303.5,123.2 303.5,120.4 C303.5,117.6 303.9,116.8 304.1,115.4 C304.4,114.0 304.7,112.0 305.0,112.0Z" fill="#151515"/><path d="M66.0,145.0 C66.8,145.0 67.7,152.3 68.4,157.6 C69.1,162.8 70.0,172.0 70.0,176.5 C70.0,181.0 69.1,182.3 68.4,184.6 C67.7,186.8 66.8,190.0 66.0,190.0 C65.2,190.0 64.3,186.8 63.6,184.6 C62.9,182.3 62.0,181.0 62.0,176.5 C62.0,172.0 62.9,162.8 63.6,157.6 C64.3,152.3 65.2,145.0 66.0,145.0Z" fill="#4e4e4e"/><path d="M81.5,142.0 C82.0,142.0 82.6,149.8 83.0,155.4 C83.4,161.0 84.0,170.8 84.0,175.6 C84.0,180.4 83.4,181.8 83.0,184.2 C82.6,186.6 82.0,190.0 81.5,190.0 C81.0,190.0 80.4,186.6 80.0,184.2 C79.6,181.8 79.0,180.4 79.0,175.6 C79.0,170.8 79.6,161.0 80.0,155.4 C80.4,149.8 81.0,142.0 81.5,142.0Z" fill="#333333"/><path d="M92.5,138.0 C93.0,138.0 93.6,146.5 94.0,152.6 C94.4,158.6 95.0,169.2 95.0,174.4 C95.0,179.6 94.4,181.2 94.0,183.8 C93.6,186.4 93.0,190.0 92.5,190.0 C92.0,190.0 91.4,186.4 91.0,183.8 C90.6,181.2 90.0,179.6 90.0,174.4 C90.0,169.2 90.6,158.6 91.0,152.6 C91.4,146.5 92.0,138.0 92.5,138.0Z" fill="#3c3c3c"/><path d="M165.0,145.0 C166.0,145.0 167.2,152.3 168.0,157.6 C168.8,162.8 170.0,172.0 170.0,176.5 C170.0,181.0 168.8,182.3 168.0,184.6 C167.2,186.8 166.0,190.0 165.0,190.0 C164.0,190.0 162.8,186.8 162.0,184.6 C161.2,182.3 160.0,181.0 160.0,176.5 C160.0,172.0 161.2,162.8 162.0,157.6 C162.8,152.3 164.0,145.0 165.0,145.0Z" fill="#515151"/><path d="M213.0,148.0 C213.6,148.0 214.3,154.9 214.8,159.8 C215.3,164.7 216.0,173.2 216.0,177.4 C216.0,181.6 215.3,182.9 214.8,185.0 C214.3,187.1 213.6,190.0 213.0,190.0 C212.4,190.0 211.7,187.1 211.2,185.0 C210.7,182.9 210.0,181.6 210.0,177.4 C210.0,173.2 210.7,164.7 211.2,159.8 C211.7,154.9 212.4,148.0 213.0,148.0Z" fill="#484848"/><path d="M255.5,148.0 C255.9,148.0 256.4,154.9 256.7,159.8 C257.0,164.7 257.5,173.2 257.5,177.4 C257.5,181.6 257.0,182.9 256.7,185.0 C256.4,187.1 255.9,190.0 255.5,190.0 C255.1,190.0 254.6,187.1 254.3,185.0 C254.0,182.9 253.5,181.6 253.5,177.4 C253.5,173.2 254.0,164.7 254.3,159.8 C254.6,154.9 255.1,148.0 255.5,148.0Z" fill="#2d2d2d"/><path d="M291.0,148.0 C291.5,148.0 292.1,154.9 292.5,159.8 C292.9,164.7 293.5,173.2 293.5,177.4 C293.5,181.6 292.9,182.9 292.5,185.0 C292.1,187.1 291.5,190.0 291.0,190.0 C290.5,190.0 289.9,187.1 289.5,185.0 C289.1,182.9 288.5,181.6 288.5,177.4 C288.5,173.2 289.1,164.7 289.5,159.8 C289.9,154.9 290.5,148.0 291.0,148.0Z" fill="#272727"/><path d="M335.5,148.0 C335.9,148.0 336.4,154.9 336.7,159.8 C337.0,164.7 337.5,173.2 337.5,177.4 C337.5,181.6 337.0,182.9 336.7,185.0 C336.4,187.1 335.9,190.0 335.5,190.0 C335.1,190.0 334.6,187.1 334.3,185.0 C334.0,182.9 333.5,181.6 333.5,177.4 C333.5,173.2 334.0,164.7 334.3,159.8 C334.6,154.9 335.1,148.0 335.5,148.0Z" fill="#303030"/><path d="M59.0,150.0 C59.3,150.0 59.6,156.5 59.9,161.2 C60.1,165.9 60.5,174.0 60.5,178.0 C60.5,182.0 60.1,183.2 59.9,185.2 C59.6,187.2 59.3,190.0 59.0,190.0 C58.7,190.0 58.4,187.2 58.1,185.2 C57.9,183.2 57.5,182.0 57.5,178.0 C57.5,174.0 57.9,165.9 58.1,161.2 C58.4,156.5 58.7,150.0 59.0,150.0Z" fill="#242424"/><path d="M126.0,150.0 C126.3,150.0 126.7,156.5 126.9,161.2 C127.2,165.9 127.5,174.0 127.5,178.0 C127.5,182.0 127.2,183.2 126.9,185.2 C126.7,187.2 126.3,190.0 126.0,190.0 C125.7,190.0 125.3,187.2 125.1,185.2 C124.8,183.2 124.5,182.0 124.5,178.0 C124.5,174.0 124.8,165.9 125.1,161.2 C125.3,156.5 125.7,150.0 126.0,150.0Z" fill="#1e1e1e"/><path d="M178.0,152.0 C178.3,152.0 178.7,158.2 178.9,162.6 C179.2,167.1 179.5,174.8 179.5,178.6 C179.5,182.4 179.2,183.5 178.9,185.4 C178.7,187.3 178.3,190.0 178.0,190.0 C177.7,190.0 177.3,187.3 177.1,185.4 C176.8,183.5 176.5,182.4 176.5,178.6 C176.5,174.8 176.8,167.1 177.1,162.6 C177.3,158.2 177.7,152.0 178.0,152.0Z" fill="#242424"/><path d="M231.0,150.0 C231.3,150.0 231.7,156.5 231.9,161.2 C232.2,165.9 232.5,174.0 232.5,178.0 C232.5,182.0 232.2,183.2 231.9,185.2 C231.7,187.2 231.3,190.0 231.0,190.0 C230.7,190.0 230.3,187.2 230.1,185.2 C229.8,183.2 229.5,182.0 229.5,178.0 C229.5,174.0 229.8,165.9 230.1,161.2 C230.3,156.5 230.7,150.0 231.0,150.0Z" fill="#242424"/><path d="M302.0,152.0 C302.3,152.0 302.6,158.2 302.9,162.6 C303.1,167.1 303.5,174.8 303.5,178.6 C303.5,182.4 303.1,183.5 302.9,185.4 C302.6,187.3 302.3,190.0 302.0,190.0 C301.7,190.0 301.4,187.3 301.1,185.4 C300.9,183.5 300.5,182.4 300.5,178.6 C300.5,174.8 300.9,167.1 301.1,162.6 C301.4,158.2 301.7,152.0 302.0,152.0Z" fill="#1b1b1b"/><path d="M314.0,150.0 C314.3,150.0 314.6,156.5 314.9,161.2 C315.1,165.9 315.5,174.0 315.5,178.0 C315.5,182.0 315.1,183.2 314.9,185.2 C314.6,187.2 314.3,190.0 314.0,190.0 C313.7,190.0 313.4,187.2 313.1,185.2 C312.9,183.2 312.5,182.0 312.5,178.0 C312.5,174.0 312.9,165.9 313.1,161.2 C313.4,156.5 313.7,150.0 314.0,150.0Z" fill="#1e1e1e"/></g><g filter="url(#b1p5_3p3)" style="mix-blend-mode:lighten"><polygon points="39.0,72.7 54.0,72.7 56.7,76.1 59.4,81.4 62.7,88.1 66.1,91.0 70.1,89.4 74.1,87.4 78.1,87.4 83.4,88.8 88.8,88.1 94.1,86.8 98.2,84.7 102.2,83.0 104.8,83.8 108.9,88.1 112.2,91.0 115.6,88.8 119.6,85.4 122.9,84.1 126.3,85.4 129.0,86.8 134.4,88.1 139.7,87.8 145.1,89.4 150.4,86.1 155.8,83.4 161.1,84.3 166.5,85.7 171.8,85.4 177.2,85.7 183.2,83.8 187.9,86.8 191.9,89.4 195.9,87.4 199.9,87.4 204.0,84.1 209.4,80.7 214.7,82.1 220.1,84.7 225.4,84.7 229.4,86.8 234.1,88.1 238.8,84.7 242.1,82.7 246.8,86.8 250.8,89.2 254.8,84.1 257.5,82.7 261.5,86.8 264.2,88.8 269.8,82.7 274.0,85.4 278.0,87.4 283.4,87.8 290.1,88.8 295.4,94.1 300.8,90.8 307.5,89.4 314.1,88.4 318.2,91.4 321.5,95.9 326.2,88.1 330.9,84.7 335.6,89.4 338.2,97.5 339.6,104.1 338.9,106.8 336.9,116.2 334.2,122.9 328.9,118.9 324.2,114.2 319.5,118.9 314.8,120.9 308.8,117.5 303.4,116.2 296.8,112.2 291.4,124.2 284.7,127.6 280.7,124.2 275.2,119.8 270.9,125.6 266.9,124.2 263.5,130.2 261.5,126.9 257.5,122.9 252.2,124.2 246.8,124.2 244.1,128.2 241.5,122.2 238.8,122.9 236.1,130.9 232.1,126.9 228.1,124.2 224.1,124.2 221.4,118.9 220.1,122.0 219.2,145.0 218.2,161.7 217.2,145.0 215.4,134.9 212.0,130.2 208.0,129.6 204.0,131.0 201.5,128.0 197.9,120.9 194.6,122.9 190.5,118.6 185.2,122.9 181.2,122.9 177.2,124.2 171.2,128.9 165.1,124.0 159.8,126.2 153.1,122.9 147.7,123.1 142.4,123.5 137.0,125.8 131.7,124.5 129.5,127.0 127.0,129.5 124.5,126.0 122.9,124.2 119.6,122.9 115.6,121.8 112.2,124.2 109.5,130.9 107.5,126.9 105.5,122.9 103.5,128.2 101.5,134.9 99.5,129.6 97.5,125.6 95.5,129.6 93.1,134.9 90.1,128.2 86.1,124.2 82.8,126.9 80.1,124.2 77.4,120.2 74.1,126.9 71.1,133.3 68.1,129.6 64.7,125.6 60.7,124.0 58.0,124.2 54.0,122.9 39.0,122.9" fill="#3f3f3f"/></g><g filter="url(#b2_5p5)" style="mix-blend-mode:lighten"><polygon points="54.0,92.0 60.7,95.3 70.1,99.3 77.4,94.4 82.1,96.7 86.1,96.7 92.8,98.0 98.2,96.3 104.8,94.6 110.9,98.0 116.9,95.3 122.9,95.3 127.6,97.3 131.7,97.3 138.4,96.7 146.4,96.7 154.4,93.6 162.5,94.4 170.5,96.7 178.5,94.4 186.5,95.3 195.9,95.3 200.0,96.0 205.4,95.3 209.4,94.0 215.4,96.7 222.1,93.3 228.1,95.7 234.1,97.3 241.5,93.6 247.5,96.0 254.8,93.6 262.9,97.6 269.6,94.0 276.0,93.6 280.7,96.0 286.1,98.0 292.1,97.1 298.8,93.0 304.8,94.4 311.5,95.0 319.5,97.3 326.2,93.6 330.9,94.6 335.6,97.6 339.6,95.3 343.3,94.0 343.3,113.0 339.6,114.3 335.6,116.6 330.9,113.6 326.2,112.6 319.5,116.3 311.5,114.0 304.8,113.4 298.8,112.0 292.1,116.1 286.1,117.0 280.7,115.0 276.0,112.6 269.6,113.0 262.9,116.6 254.8,112.6 247.5,115.0 241.5,112.6 234.1,116.3 228.1,114.7 222.1,112.3 215.4,115.7 209.4,113.0 205.4,114.3 200.0,115.0 195.9,114.3 186.5,114.3 178.5,113.4 170.5,115.7 162.5,113.4 154.4,112.6 146.4,115.7 138.4,115.7 131.7,116.3 127.6,116.3 122.9,114.3 116.9,114.3 110.9,117.0 104.8,113.6 98.2,115.3 92.8,117.0 86.1,115.7 82.1,115.7 77.4,113.4 70.1,118.3 60.7,114.3 54.0,111.0" fill="#838383"/></g><g filter="url(#b3_4)" style="mix-blend-mode:lighten"><ellipse cx="100.5" cy="107.5" rx="7.5" ry="11" fill="#cbcbcb"/><ellipse cx="212" cy="104.5" rx="6.5" ry="12" fill="#ffffff"/><ellipse cx="125" cy="106" rx="5" ry="6" fill="#9b9b9b"/><ellipse cx="172" cy="107" rx="6" ry="6" fill="#9b9b9b"/><ellipse cx="193" cy="105" rx="5" ry="6" fill="#959595"/><ellipse cx="236" cy="106" rx="6" ry="6" fill="#959595"/><ellipse cx="278" cy="106" rx="8" ry="7" fill="#9b9b9b"/><ellipse cx="296" cy="106" rx="5" ry="6" fill="#8f8f8f"/><ellipse cx="88" cy="106" rx="5" ry="6" fill="#959595"/></g></g><path d="M54.0,72.7 C54.5,73.3 55.8,74.6 56.7,76.1 C57.6,77.5 58.4,79.4 59.4,81.4 C60.4,83.4 61.6,86.5 62.7,88.1 C63.8,89.7 64.9,90.8 66.1,91.0 C67.3,91.2 68.8,90.0 70.1,89.4 C71.4,88.8 72.8,87.7 74.1,87.4 C75.4,87.1 76.5,87.2 78.1,87.4 C79.6,87.6 81.6,88.7 83.4,88.8 C85.2,88.9 87.0,88.4 88.8,88.1 C90.6,87.8 92.5,87.4 94.1,86.8 C95.7,86.2 96.8,85.3 98.2,84.7 C99.6,84.1 101.1,83.2 102.2,83.0 C103.3,82.8 103.7,83.0 104.8,83.8 C105.9,84.6 107.7,86.9 108.9,88.1 C110.1,89.3 111.1,90.9 112.2,91.0 C113.3,91.1 114.4,89.7 115.6,88.8 C116.8,87.9 118.4,86.2 119.6,85.4 C120.8,84.6 121.8,84.1 122.9,84.1 C124.0,84.1 125.3,85.0 126.3,85.4 C127.3,85.9 127.7,86.3 129.0,86.8 C130.3,87.2 132.6,87.9 134.4,88.1 C136.2,88.3 137.9,87.6 139.7,87.8 C141.5,88.0 143.3,89.7 145.1,89.4 C146.9,89.1 148.6,87.1 150.4,86.1 C152.2,85.1 154.0,83.7 155.8,83.4 C157.6,83.1 159.3,83.9 161.1,84.3 C162.9,84.7 164.7,85.5 166.5,85.7 C168.3,85.9 170.0,85.4 171.8,85.4 C173.6,85.4 175.3,86.0 177.2,85.7 C179.1,85.4 181.4,83.6 183.2,83.8 C185.0,84.0 186.4,85.9 187.9,86.8 C189.4,87.7 190.6,89.3 191.9,89.4 C193.2,89.5 194.6,87.7 195.9,87.4 C197.2,87.1 198.6,88.0 199.9,87.4 C201.2,86.9 202.4,85.2 204.0,84.1 C205.6,83.0 207.6,81.0 209.4,80.7 C211.2,80.4 212.9,81.4 214.7,82.1 C216.5,82.8 218.3,84.3 220.1,84.7 C221.9,85.1 223.8,84.4 225.4,84.7 C227.0,85.0 228.0,86.2 229.4,86.8 C230.8,87.4 232.5,88.4 234.1,88.1 C235.7,87.8 237.5,85.6 238.8,84.7 C240.1,83.8 240.8,82.4 242.1,82.7 C243.4,83.0 245.4,85.7 246.8,86.8 C248.2,87.9 249.5,89.7 250.8,89.2 C252.1,88.8 253.7,85.2 254.8,84.1 C255.9,83.0 256.4,82.2 257.5,82.7 C258.6,83.2 260.4,85.8 261.5,86.8 C262.6,87.8 262.8,89.5 264.2,88.8 C265.6,88.1 268.2,83.3 269.8,82.7 C271.4,82.1 272.6,84.6 274.0,85.4 C275.4,86.2 276.4,87.0 278.0,87.4 C279.6,87.8 281.4,87.6 283.4,87.8 C285.4,88.0 288.1,87.8 290.1,88.8 C292.1,89.8 293.6,93.8 295.4,94.1 C297.2,94.4 298.8,91.6 300.8,90.8 C302.8,90.0 305.3,89.8 307.5,89.4 C309.7,89.0 312.3,88.1 314.1,88.4 C315.9,88.7 317.0,90.2 318.2,91.4 C319.4,92.7 320.2,96.5 321.5,95.9 C322.8,95.4 324.6,90.0 326.2,88.1 C327.8,86.2 329.3,84.5 330.9,84.7 C332.5,84.9 334.4,87.3 335.6,89.4 C336.8,91.5 337.5,95.0 338.2,97.5 C338.9,100.0 339.5,102.5 339.6,104.1 C339.7,105.6 339.3,104.8 338.9,106.8 C338.4,108.8 337.7,113.5 336.9,116.2 C336.1,118.9 335.5,122.5 334.2,122.9 C332.9,123.4 330.6,120.4 328.9,118.9 C327.2,117.5 325.8,114.2 324.2,114.2 C322.6,114.2 321.1,117.8 319.5,118.9 C317.9,120.0 316.6,121.1 314.8,120.9 C313.0,120.7 310.7,118.3 308.8,117.5 C306.9,116.7 305.4,117.1 303.4,116.2 C301.4,115.3 298.8,110.9 296.8,112.2 C294.8,113.5 293.4,121.6 291.4,124.2 C289.4,126.8 286.5,127.6 284.7,127.6 C282.9,127.6 282.3,125.5 280.7,124.2 C279.1,122.9 276.8,119.6 275.2,119.8 C273.6,120.0 272.3,124.9 270.9,125.6 C269.5,126.3 268.1,123.4 266.9,124.2 C265.7,125.0 264.4,129.8 263.5,130.2 C262.6,130.6 262.5,128.1 261.5,126.9 C260.5,125.7 259.1,123.4 257.5,122.9 C255.9,122.5 254.0,124.0 252.2,124.2 C250.4,124.4 248.2,123.5 246.8,124.2 C245.5,124.9 245.0,128.5 244.1,128.2 C243.2,127.9 242.4,123.1 241.5,122.2 C240.6,121.3 239.7,121.5 238.8,122.9 C237.9,124.4 237.2,130.2 236.1,130.9 C235.0,131.6 233.4,128.0 232.1,126.9 C230.8,125.8 229.4,124.7 228.1,124.2 C226.8,123.8 225.2,125.1 224.1,124.2 C223.0,123.3 222.1,119.3 221.4,118.9 C220.7,118.5 220.5,117.7 220.1,122.0 C219.7,126.3 219.5,138.4 219.2,145.0 C218.9,151.6 218.5,161.7 218.2,161.7 C217.9,161.7 217.7,149.5 217.2,145.0 C216.7,140.5 216.3,137.4 215.4,134.9 C214.5,132.4 213.2,131.1 212.0,130.2 C210.8,129.3 209.3,129.5 208.0,129.6 C206.7,129.7 205.1,131.3 204.0,131.0 C202.9,130.7 202.5,129.7 201.5,128.0 C200.5,126.3 199.1,121.8 197.9,120.9 C196.8,120.1 195.8,123.3 194.6,122.9 C193.4,122.5 192.1,118.6 190.5,118.6 C188.9,118.6 186.8,122.2 185.2,122.9 C183.6,123.6 182.5,122.7 181.2,122.9 C179.9,123.1 178.9,123.2 177.2,124.2 C175.5,125.2 173.2,128.9 171.2,128.9 C169.2,128.9 167.0,124.5 165.1,124.0 C163.2,123.5 161.8,126.4 159.8,126.2 C157.8,126.0 155.1,123.4 153.1,122.9 C151.1,122.4 149.5,123.0 147.7,123.1 C145.9,123.2 144.2,123.0 142.4,123.5 C140.6,124.0 138.8,125.6 137.0,125.8 C135.2,126.0 132.9,124.3 131.7,124.5 C130.4,124.7 130.3,126.2 129.5,127.0 C128.7,127.8 127.8,129.7 127.0,129.5 C126.2,129.3 125.2,126.9 124.5,126.0 C123.8,125.1 123.7,124.7 122.9,124.2 C122.1,123.7 120.8,123.3 119.6,122.9 C118.4,122.5 116.8,121.6 115.6,121.8 C114.4,122.0 113.2,122.7 112.2,124.2 C111.2,125.7 110.3,130.5 109.5,130.9 C108.7,131.3 108.2,128.2 107.5,126.9 C106.8,125.6 106.2,122.7 105.5,122.9 C104.8,123.1 104.2,126.2 103.5,128.2 C102.8,130.2 102.2,134.7 101.5,134.9 C100.8,135.1 100.2,131.2 99.5,129.6 C98.8,128.0 98.2,125.6 97.5,125.6 C96.8,125.6 96.2,128.0 95.5,129.6 C94.8,131.2 94.0,135.1 93.1,134.9 C92.2,134.7 91.3,130.0 90.1,128.2 C88.9,126.4 87.3,124.4 86.1,124.2 C84.9,124.0 83.8,126.9 82.8,126.9 C81.8,126.9 81.0,125.3 80.1,124.2 C79.2,123.1 78.4,119.8 77.4,120.2 C76.4,120.7 75.1,124.7 74.1,126.9 C73.0,129.1 72.1,132.9 71.1,133.3 C70.1,133.8 69.2,130.9 68.1,129.6 C67.0,128.3 65.9,126.5 64.7,125.6 C63.5,124.7 61.8,124.2 60.7,124.0 C59.6,123.8 59.1,124.4 58.0,124.2 C56.9,124.0 54.7,123.1 54.0,122.9" fill="none" stroke="#fff" stroke-width="1.7" stroke-linejoin="round"/><path d="M67.5,167.5 C67.9,167.5 68.4,169.6 68.6,171.0 C68.8,172.4 69.0,175.2 68.6,176.0 C68.2,176.8 66.8,176.8 66.4,176.0 C66.0,175.2 66.2,172.4 66.4,171.0 C66.6,169.6 67.1,167.5 67.5,167.5Z" fill="none" stroke="#fff" stroke-width="1.1" stroke-linejoin="round"/><path d="M165.3,166.5 C165.7,166.5 166.4,168.4 166.6,170.0 C166.8,171.6 167.0,175.0 166.6,176.0 C166.2,177.0 164.4,177.0 164.0,176.0 C163.6,175.0 163.8,171.6 164.0,170.0 C164.2,168.4 164.9,166.5 165.3,166.5Z" fill="none" stroke="#fff" stroke-width="1.1" stroke-linejoin="round"/><path d="M54.0,101.5 C55.1,102.0 58.0,103.6 60.7,104.8 C63.4,106.0 67.3,108.9 70.1,108.8 C72.9,108.7 75.4,104.3 77.4,103.9 C79.4,103.5 80.6,105.8 82.1,106.2 C83.5,106.6 84.3,106.0 86.1,106.2 C87.9,106.4 90.8,107.6 92.8,107.5 C94.8,107.4 96.2,106.4 98.2,105.8 C100.2,105.2 102.7,103.8 104.8,104.1 C106.9,104.4 108.9,107.4 110.9,107.5 C112.9,107.6 114.9,105.2 116.9,104.8 C118.9,104.3 121.1,104.5 122.9,104.8 C124.7,105.1 126.1,106.5 127.6,106.8 C129.1,107.1 129.9,106.9 131.7,106.8 C133.5,106.7 135.9,106.3 138.4,106.2 C140.9,106.1 143.7,106.7 146.4,106.2 C149.1,105.7 151.7,103.5 154.4,103.1 C157.1,102.7 159.8,103.4 162.5,103.9 C165.2,104.4 167.8,106.2 170.5,106.2 C173.2,106.2 175.8,104.1 178.5,103.9 C181.2,103.7 183.6,104.7 186.5,104.8 C189.4,104.9 193.7,104.7 195.9,104.8 C198.2,104.9 198.4,105.5 200.0,105.5 C201.6,105.5 203.8,105.1 205.4,104.8 C207.0,104.5 207.7,103.3 209.4,103.5 C211.1,103.7 213.3,106.3 215.4,106.2 C217.5,106.1 220.0,103.0 222.1,102.8 C224.2,102.6 226.1,104.5 228.1,105.2 C230.1,105.9 231.9,107.2 234.1,106.8 C236.3,106.4 239.3,103.3 241.5,103.1 C243.7,102.9 245.3,105.5 247.5,105.5 C249.7,105.5 252.2,102.8 254.8,103.1 C257.4,103.4 260.4,107.0 262.9,107.1 C265.4,107.2 267.4,104.2 269.6,103.5 C271.8,102.8 274.1,102.8 276.0,103.1 C277.9,103.4 279.0,104.8 280.7,105.5 C282.4,106.2 284.2,107.3 286.1,107.5 C288.0,107.7 290.0,107.4 292.1,106.6 C294.2,105.8 296.7,103.0 298.8,102.5 C300.9,102.0 302.7,103.6 304.8,103.9 C306.9,104.2 309.1,104.0 311.5,104.5 C313.9,105.0 317.1,107.0 319.5,106.8 C321.9,106.6 324.3,103.5 326.2,103.1 C328.1,102.6 329.3,103.4 330.9,104.1 C332.5,104.8 334.2,107.0 335.6,107.1 C337.1,107.2 338.3,105.4 339.6,104.8 C340.9,104.2 342.7,103.7 343.3,103.5" fill="none" stroke="#000" stroke-width="2.0" stroke-linejoin="round" stroke-linecap="round"/></g><g clip-path="url(#c7932)"><g filter="url(#cm)"><rect x="360.5" y="14.799999999999997" width="329.3" height="180.7" fill="#010101"/><g filter="url(#b2p2_3p5)" style="mix-blend-mode:lighten"><ellipse cx="378.7" cy="97.3" rx="2.9" ry="6.8" fill="#1a1a1a"/><ellipse cx="387.4" cy="88.3" rx="2.6" ry="9.1" fill="#161616"/><ellipse cx="392.5" cy="84.8" rx="2.8" ry="9.1" fill="#151515"/><ellipse cx="402.9" cy="94.8" rx="3.1" ry="7.9" fill="#0e0e0e"/><ellipse cx="408.5" cy="87.8" rx="3.2" ry="9.4" fill="#171717"/><ellipse cx="416.1" cy="88.1" rx="2.8" ry="7.1" fill="#161616"/><ellipse cx="421.9" cy="89.3" rx="2.9" ry="9.2" fill="#191919"/><ellipse cx="428.2" cy="88.5" rx="2.1" ry="7.7" fill="#191919"/><ellipse cx="436.3" cy="87.9" rx="3.1" ry="8.2" fill="#121212"/><ellipse cx="446.9" cy="84.9" rx="2.3" ry="7.0" fill="#171717"/><ellipse cx="455.7" cy="86.7" rx="2.6" ry="8.8" fill="#131313"/><ellipse cx="464.8" cy="85.4" rx="3.3" ry="10.1" fill="#181818"/><ellipse cx="472.6" cy="89.2" rx="3.4" ry="8.2" fill="#181818"/><ellipse cx="483.0" cy="92.2" rx="3.0" ry="8.0" fill="#1b1b1b"/><ellipse cx="491.6" cy="92.8" rx="3.4" ry="9.1" fill="#161616"/><ellipse cx="502.7" cy="90.2" rx="2.8" ry="8.0" fill="#1f1f1f"/><ellipse cx="513.5" cy="88.0" rx="2.3" ry="6.4" fill="#1d1d1d"/><ellipse cx="524.0" cy="85.5" rx="2.6" ry="7.3" fill="#191919"/><ellipse cx="534.8" cy="81.3" rx="2.3" ry="8.2" fill="#191919"/><ellipse cx="541.0" cy="84.1" rx="2.6" ry="6.7" fill="#141414"/><ellipse cx="547.3" cy="86.3" rx="2.1" ry="7.9" fill="#0d0d0d"/><ellipse cx="552.8" cy="89.0" rx="2.2" ry="8.1" fill="#111111"/><ellipse cx="562.3" cy="93.8" rx="2.6" ry="7.2" fill="#0d0d0d"/><ellipse cx="569.0" cy="95.2" rx="3.1" ry="7.0" fill="#141414"/><ellipse cx="578.9" cy="101.7" rx="3.2" ry="8.3" fill="#1d1d1d"/><ellipse cx="587.9" cy="91.7" rx="2.3" ry="6.5" fill="#0d0d0d"/><ellipse cx="597.7" cy="87.8" rx="2.6" ry="10.2" fill="#202020"/><ellipse cx="608.4" cy="92.6" rx="2.7" ry="6.0" fill="#101010"/><ellipse cx="614.6" cy="90.8" rx="3.0" ry="9.5" fill="#1f1f1f"/><ellipse cx="623.9" cy="86.3" rx="3.4" ry="9.2" fill="#141414"/><ellipse cx="634.1" cy="84.9" rx="2.4" ry="9.9" fill="#1a1a1a"/><ellipse cx="644.4" cy="86.9" rx="2.1" ry="6.9" fill="#202020"/><ellipse cx="650.1" cy="86.5" rx="2.7" ry="9.0" fill="#141414"/><ellipse cx="660.6" cy="89.5" rx="3.4" ry="7.7" fill="#0c0c0c"/><ellipse cx="671.2" cy="83.7" rx="2.7" ry="7.2" fill="#0c0c0c"/></g><g filter="url(#b1p1_5)" style="mix-blend-mode:lighten"><ellipse cx="382.1" cy="149.3" rx="1.7" ry="39.5" fill="#0a0a0a"/><ellipse cx="386.5" cy="151.1" rx="1.5" ry="35.0" fill="#0f0f0f"/><ellipse cx="390.5" cy="150.5" rx="1.1" ry="37.0" fill="#121212"/><ellipse cx="395.4" cy="148.1" rx="1.7" ry="33.9" fill="#141414"/><ellipse cx="398.1" cy="148.0" rx="1.0" ry="35.4" fill="#131313"/><ellipse cx="402.8" cy="145.4" rx="1.4" ry="33.7" fill="#151515"/><ellipse cx="406.2" cy="153.8" rx="1.1" ry="33.1" fill="#141414"/><ellipse cx="409.3" cy="153.6" rx="1.7" ry="36.0" fill="#1a1a1a"/><ellipse cx="413.7" cy="155.5" rx="1.6" ry="34.9" fill="#101010"/><ellipse cx="416.7" cy="149.8" rx="1.6" ry="35.4" fill="#181818"/><ellipse cx="420.5" cy="150.9" rx="1.7" ry="32.1" fill="#131313"/><ellipse cx="425.2" cy="152.7" rx="1.7" ry="37.1" fill="#131313"/><ellipse cx="429.5" cy="149.9" rx="1.4" ry="37.2" fill="#0e0e0e"/><ellipse cx="432.5" cy="151.1" rx="1.7" ry="31.4" fill="#0f0f0f"/><ellipse cx="437.4" cy="150.8" rx="1.5" ry="35.8" fill="#131313"/><ellipse cx="441.4" cy="152.5" rx="1.2" ry="37.5" fill="#0d0d0d"/><ellipse cx="445.4" cy="153.6" rx="1.1" ry="36.1" fill="#1a1a1a"/><ellipse cx="448.5" cy="149.4" rx="1.6" ry="32.7" fill="#0a0a0a"/><ellipse cx="451.7" cy="152.1" rx="1.7" ry="37.0" fill="#0b0b0b"/><ellipse cx="454.9" cy="150.6" rx="1.2" ry="36.8" fill="#1b1b1b"/><ellipse cx="457.7" cy="148.3" rx="1.3" ry="31.5" fill="#0d0d0d"/><ellipse cx="462.5" cy="145.5" rx="1.0" ry="36.4" fill="#181818"/><ellipse cx="467.0" cy="150.3" rx="1.1" ry="33.2" fill="#0d0d0d"/><ellipse cx="469.8" cy="146.1" rx="1.7" ry="36.8" fill="#0c0c0c"/><ellipse cx="473.8" cy="146.0" rx="1.6" ry="33.2" fill="#0b0b0b"/><ellipse cx="477.5" cy="153.7" rx="1.6" ry="34.1" fill="#181818"/><ellipse cx="482.2" cy="149.1" rx="1.5" ry="37.6" fill="#131313"/><ellipse cx="485.5" cy="149.8" rx="1.1" ry="30.5" fill="#121212"/><ellipse cx="489.5" cy="150.4" rx="1.3" ry="39.9" fill="#141414"/><ellipse cx="492.8" cy="147.3" rx="1.5" ry="38.2" fill="#121212"/><ellipse cx="495.8" cy="145.3" rx="1.0" ry="34.6" fill="#0a0a0a"/><ellipse cx="499.9" cy="155.4" rx="1.4" ry="35.4" fill="#1d1d1d"/><ellipse cx="503.1" cy="151.1" rx="1.3" ry="35.2" fill="#0e0e0e"/><ellipse cx="507.5" cy="149.5" rx="1.5" ry="35.6" fill="#0e0e0e"/><ellipse cx="510.2" cy="148.8" rx="1.0" ry="38.7" fill="#111111"/><ellipse cx="513.4" cy="146.5" rx="1.1" ry="34.9" fill="#0d0d0d"/><ellipse cx="517.3" cy="148.9" rx="1.3" ry="32.4" fill="#0f0f0f"/><ellipse cx="522.0" cy="149.5" rx="1.7" ry="35.5" fill="#181818"/><ellipse cx="526.0" cy="148.0" rx="1.0" ry="32.9" fill="#121212"/><ellipse cx="528.9" cy="152.4" rx="1.6" ry="37.4" fill="#111111"/><ellipse cx="532.9" cy="146.1" rx="1.2" ry="32.9" fill="#1d1d1d"/><ellipse cx="537.1" cy="152.9" rx="1.1" ry="34.0" fill="#0f0f0f"/><ellipse cx="539.8" cy="148.0" rx="1.3" ry="33.3" fill="#121212"/><ellipse cx="543.8" cy="151.6" rx="1.1" ry="38.4" fill="#0f0f0f"/><ellipse cx="546.7" cy="149.6" rx="1.6" ry="33.9" fill="#0d0d0d"/><ellipse cx="550.4" cy="145.3" rx="1.6" ry="35.0" fill="#111111"/><ellipse cx="553.2" cy="153.7" rx="1.6" ry="33.4" fill="#161616"/><ellipse cx="555.9" cy="151.1" rx="1.5" ry="33.6" fill="#191919"/><ellipse cx="559.4" cy="148.6" rx="1.3" ry="36.5" fill="#1a1a1a"/><ellipse cx="563.2" cy="154.4" rx="1.7" ry="34.4" fill="#1a1a1a"/><ellipse cx="566.5" cy="147.9" rx="1.2" ry="36.0" fill="#131313"/><ellipse cx="570.7" cy="149.3" rx="1.7" ry="30.7" fill="#151515"/><ellipse cx="574.2" cy="146.7" rx="1.7" ry="32.9" fill="#0c0c0c"/><ellipse cx="577.0" cy="148.5" rx="1.7" ry="31.9" fill="#1e1e1e"/><ellipse cx="580.4" cy="150.5" rx="1.2" ry="33.5" fill="#171717"/><ellipse cx="584.2" cy="154.0" rx="1.1" ry="33.8" fill="#141414"/><ellipse cx="587.1" cy="150.7" rx="1.4" ry="38.8" fill="#181818"/><ellipse cx="590.8" cy="154.5" rx="1.5" ry="33.7" fill="#111111"/><ellipse cx="594.8" cy="147.5" rx="1.1" ry="38.4" fill="#121212"/><ellipse cx="599.5" cy="149.1" rx="1.1" ry="34.5" fill="#141414"/><ellipse cx="603.7" cy="152.4" rx="1.7" ry="37.9" fill="#181818"/><ellipse cx="607.1" cy="153.5" rx="1.6" ry="35.5" fill="#171717"/><ellipse cx="610.3" cy="153.7" rx="1.5" ry="36.9" fill="#111111"/><ellipse cx="614.4" cy="153.4" rx="1.0" ry="36.0" fill="#131313"/><ellipse cx="618.6" cy="153.8" rx="1.6" ry="33.7" fill="#090909"/><ellipse cx="622.6" cy="149.3" rx="1.7" ry="39.3" fill="#1b1b1b"/><ellipse cx="627.0" cy="148.5" rx="1.1" ry="32.6" fill="#181818"/><ellipse cx="631.5" cy="147.9" rx="1.1" ry="33.9" fill="#161616"/><ellipse cx="635.5" cy="150.0" rx="1.4" ry="29.6" fill="#0d0d0d"/><ellipse cx="638.1" cy="152.3" rx="1.4" ry="35.6" fill="#1a1a1a"/><ellipse cx="641.9" cy="148.4" rx="1.5" ry="36.4" fill="#101010"/><ellipse cx="644.6" cy="149.3" rx="1.1" ry="38.5" fill="#191919"/><ellipse cx="649.1" cy="153.7" rx="1.3" ry="35.5" fill="#171717"/><ellipse cx="652.0" cy="148.4" rx="1.1" ry="34.0" fill="#111111"/><ellipse cx="654.7" cy="149.2" rx="1.4" ry="36.0" fill="#1d1d1d"/><ellipse cx="658.3" cy="149.5" rx="1.3" ry="37.0" fill="#1b1b1b"/><ellipse cx="662.0" cy="149.2" rx="1.4" ry="39.5" fill="#1c1c1c"/><ellipse cx="665.4" cy="150.1" rx="1.5" ry="33.4" fill="#1a1a1a"/><ellipse cx="669.9" cy="149.3" rx="1.1" ry="35.8" fill="#161616"/><ellipse cx="382.5" cy="78.9" rx="1.5" ry="25.3" fill="#020202"/><ellipse cx="386.7" cy="80.4" rx="1.2" ry="28.2" fill="#070707"/><ellipse cx="391.3" cy="78.0" rx="1.3" ry="26.3" fill="#020202"/><ellipse cx="395.3" cy="85.7" rx="1.3" ry="24.2" fill="#020202"/><ellipse cx="400.1" cy="77.4" rx="1.5" ry="22.6" fill="#070707"/><ellipse cx="404.4" cy="79.2" rx="1.1" ry="23.9" fill="#050505"/><ellipse cx="410.2" cy="81.0" rx="1.2" ry="22.6" fill="#060606"/><ellipse cx="416.2" cy="83.4" rx="1.3" ry="21.5" fill="#070707"/><ellipse cx="421.8" cy="84.5" rx="1.7" ry="24.7" fill="#060606"/><ellipse cx="428.1" cy="80.3" rx="1.6" ry="26.0" fill="#070707"/><ellipse cx="433.6" cy="81.6" rx="1.3" ry="28.7" fill="#030303"/><ellipse cx="438.2" cy="81.7" rx="1.4" ry="28.6" fill="#070707"/><ellipse cx="442.0" cy="82.5" rx="1.0" ry="27.4" fill="#030303"/><ellipse cx="448.2" cy="79.5" rx="1.6" ry="22.2" fill="#030303"/><ellipse cx="454.2" cy="79.5" rx="1.3" ry="21.1" fill="#020202"/><ellipse cx="458.6" cy="76.9" rx="1.7" ry="24.4" fill="#010101"/><ellipse cx="462.9" cy="78.3" rx="1.3" ry="23.4" fill="#020202"/><ellipse cx="467.1" cy="81.6" rx="1.5" ry="26.4" fill="#030303"/><ellipse cx="470.8" cy="82.1" rx="1.1" ry="26.1" fill="#060606"/><ellipse cx="474.7" cy="81.4" rx="1.4" ry="26.6" fill="#060606"/><ellipse cx="480.0" cy="80.0" rx="1.3" ry="24.5" fill="#070707"/><ellipse cx="485.4" cy="81.9" rx="1.2" ry="23.9" fill="#060606"/><ellipse cx="490.5" cy="82.6" rx="1.7" ry="21.7" fill="#070707"/><ellipse cx="495.2" cy="81.4" rx="1.4" ry="29.3" fill="#000000"/><ellipse cx="499.1" cy="80.8" rx="1.7" ry="19.0" fill="#050505"/><ellipse cx="503.5" cy="77.5" rx="1.6" ry="25.5" fill="#000000"/><ellipse cx="507.6" cy="81.2" rx="1.1" ry="29.3" fill="#050505"/><ellipse cx="513.0" cy="79.1" rx="1.0" ry="25.4" fill="#070707"/><ellipse cx="518.2" cy="76.4" rx="1.1" ry="24.8" fill="#040404"/><ellipse cx="524.4" cy="84.1" rx="1.6" ry="25.2" fill="#040404"/><ellipse cx="528.4" cy="76.1" rx="1.4" ry="24.0" fill="#010101"/><ellipse cx="532.5" cy="80.8" rx="1.0" ry="25.5" fill="#020202"/><ellipse cx="538.6" cy="83.3" rx="1.7" ry="26.5" fill="#050505"/><ellipse cx="542.6" cy="79.8" rx="1.1" ry="21.5" fill="#060606"/><ellipse cx="547.2" cy="79.8" rx="1.2" ry="23.8" fill="#030303"/><ellipse cx="553.1" cy="79.3" rx="1.6" ry="22.9" fill="#040404"/><ellipse cx="558.9" cy="83.2" rx="1.7" ry="24.0" fill="#020202"/><ellipse cx="564.4" cy="77.2" rx="1.0" ry="24.0" fill="#040404"/><ellipse cx="569.6" cy="83.5" rx="1.5" ry="23.8" fill="#050505"/><ellipse cx="574.5" cy="84.8" rx="1.0" ry="24.1" fill="#060606"/><ellipse cx="579.8" cy="79.3" rx="1.0" ry="27.2" fill="#010101"/><ellipse cx="585.0" cy="86.1" rx="1.1" ry="23.5" fill="#070707"/><ellipse cx="589.8" cy="84.0" rx="1.2" ry="23.3" fill="#020202"/><ellipse cx="594.2" cy="79.8" rx="1.7" ry="24.0" fill="#040404"/><ellipse cx="599.8" cy="79.7" rx="1.3" ry="27.5" fill="#050505"/><ellipse cx="604.2" cy="80.0" rx="1.7" ry="25.2" fill="#020202"/><ellipse cx="608.8" cy="80.6" rx="1.4" ry="27.4" fill="#070707"/><ellipse cx="614.4" cy="79.6" rx="1.6" ry="23.3" fill="#030303"/><ellipse cx="619.3" cy="78.8" rx="1.2" ry="22.3" fill="#010101"/><ellipse cx="624.2" cy="79.5" rx="1.4" ry="26.6" fill="#020202"/><ellipse cx="630.3" cy="84.1" rx="1.2" ry="25.4" fill="#050505"/><ellipse cx="635.9" cy="81.6" rx="1.2" ry="20.8" fill="#020202"/><ellipse cx="639.4" cy="78.6" rx="1.7" ry="24.0" fill="#010101"/><ellipse cx="643.7" cy="80.0" rx="1.5" ry="23.9" fill="#030303"/><ellipse cx="649.7" cy="76.5" rx="1.0" ry="24.1" fill="#040404"/><ellipse cx="655.0" cy="83.8" rx="1.3" ry="26.0" fill="#000000"/><ellipse cx="660.4" cy="81.2" rx="1.4" ry="19.4" fill="#060606"/><ellipse cx="664.8" cy="80.2" rx="1.7" ry="27.0" fill="#070707"/><ellipse cx="671.0" cy="79.4" rx="1.4" ry="22.3" fill="#050505"/></g><g filter="url(#b1p8_4)" style="mix-blend-mode:lighten"><path d="M386.0,118.0 C386.5,118.0 387.1,119.9 387.5,121.2 C387.9,122.6 388.5,123.4 388.5,126.1 C388.5,128.8 387.9,134.3 387.5,137.4 C387.1,140.6 386.5,145.0 386.0,145.0 C385.5,145.0 384.9,140.6 384.5,137.4 C384.1,134.3 383.5,128.8 383.5,126.1 C383.5,123.4 384.1,122.6 384.5,121.2 C384.9,119.9 385.5,118.0 386.0,118.0Z" fill="#2d2d2d"/><path d="M411.0,122.0 C411.4,122.0 411.9,124.0 412.2,125.4 C412.5,126.8 413.0,127.6 413.0,130.4 C413.0,133.2 412.5,138.9 412.2,142.2 C411.9,145.4 411.4,150.0 411.0,150.0 C410.6,150.0 410.1,145.4 409.8,142.2 C409.5,138.9 409.0,133.2 409.0,130.4 C409.0,127.6 409.5,126.8 409.8,125.4 C410.1,124.0 410.6,122.0 411.0,122.0Z" fill="#2a2a2a"/><path d="M451.0,120.0 C451.4,120.0 451.9,122.1 452.2,123.6 C452.5,125.1 453.0,126.0 453.0,129.0 C453.0,132.0 452.5,138.1 452.2,141.6 C451.9,145.1 451.4,150.0 451.0,150.0 C450.6,150.0 450.1,145.1 449.8,141.6 C449.5,138.1 449.0,132.0 449.0,129.0 C449.0,126.0 449.5,125.1 449.8,123.6 C450.1,122.1 450.6,120.0 451.0,120.0Z" fill="#2a2a2a"/><path d="M436.0,116.0 C436.4,116.0 436.8,118.4 437.1,120.1 C437.3,121.8 437.8,122.8 437.8,126.2 C437.8,129.6 437.3,136.5 437.1,140.5 C436.8,144.4 436.4,150.0 436.0,150.0 C435.6,150.0 435.2,144.4 434.9,140.5 C434.7,136.5 434.2,129.6 434.2,126.2 C434.2,122.8 434.7,121.8 434.9,120.1 C435.2,118.4 435.6,116.0 436.0,116.0Z" fill="#1e1e1e"/><path d="M468.0,116.0 C468.3,116.0 468.6,118.4 468.9,120.1 C469.1,121.8 469.5,122.8 469.5,126.2 C469.5,129.6 469.1,136.5 468.9,140.5 C468.6,144.4 468.3,150.0 468.0,150.0 C467.7,150.0 467.4,144.4 467.1,140.5 C466.9,136.5 466.5,129.6 466.5,126.2 C466.5,122.8 466.9,121.8 467.1,120.1 C467.4,118.4 467.7,116.0 468.0,116.0Z" fill="#1e1e1e"/><path d="M480.0,114.0 C480.3,114.0 480.6,116.5 480.9,118.3 C481.1,120.1 481.5,121.2 481.5,124.8 C481.5,128.4 481.1,135.7 480.9,139.9 C480.6,144.1 480.3,150.0 480.0,150.0 C479.7,150.0 479.4,144.1 479.1,139.9 C478.9,135.7 478.5,128.4 478.5,124.8 C478.5,121.2 478.9,120.1 479.1,118.3 C479.4,116.5 479.7,114.0 480.0,114.0Z" fill="#1e1e1e"/><path d="M513.0,116.0 C513.4,116.0 513.9,118.4 514.2,120.1 C514.5,121.8 515.0,122.8 515.0,126.2 C515.0,129.6 514.5,136.5 514.2,140.5 C513.9,144.4 513.4,150.0 513.0,150.0 C512.6,150.0 512.1,144.4 511.8,140.5 C511.5,136.5 511.0,129.6 511.0,126.2 C511.0,122.8 511.5,121.8 511.8,120.1 C512.1,118.4 512.6,116.0 513.0,116.0Z" fill="#242424"/><path d="M536.0,118.0 C536.4,118.0 536.9,120.2 537.2,121.8 C537.5,123.4 538.0,124.4 538.0,127.6 C538.0,130.8 537.5,137.3 537.2,141.0 C536.9,144.8 536.4,150.0 536.0,150.0 C535.6,150.0 535.1,144.8 534.8,141.0 C534.5,137.3 534.0,130.8 534.0,127.6 C534.0,124.4 534.5,123.4 534.8,121.8 C535.1,120.2 535.6,118.0 536.0,118.0Z" fill="#2d2d2d"/><path d="M547.0,118.0 C547.4,118.0 547.8,119.9 548.0,121.2 C548.3,122.6 548.8,123.4 548.8,126.1 C548.8,128.8 548.3,134.3 548.0,137.4 C547.8,140.6 547.4,145.0 547.0,145.0 C546.6,145.0 546.2,140.6 546.0,137.4 C545.7,134.3 545.2,128.8 545.2,126.1 C545.2,123.4 545.7,122.6 546.0,121.2 C546.2,119.9 546.6,118.0 547.0,118.0Z" fill="#1e1e1e"/><path d="M564.5,110.0 C564.9,110.0 565.4,112.8 565.7,114.8 C566.0,116.8 566.5,118.0 566.5,122.0 C566.5,126.0 566.0,134.1 565.7,138.8 C565.4,143.5 564.9,150.0 564.5,150.0 C564.1,150.0 563.6,143.5 563.3,138.8 C563.0,134.1 562.5,126.0 562.5,122.0 C562.5,118.0 563.0,116.8 563.3,114.8 C563.6,112.8 564.1,110.0 564.5,110.0Z" fill="#2a2a2a"/><path d="M591.0,116.0 C591.4,116.0 591.8,118.4 592.0,120.1 C592.3,121.8 592.8,122.8 592.8,126.2 C592.8,129.6 592.3,136.5 592.0,140.5 C591.8,144.4 591.4,150.0 591.0,150.0 C590.6,150.0 590.2,144.4 590.0,140.5 C589.7,136.5 589.2,129.6 589.2,126.2 C589.2,122.8 589.7,121.8 590.0,120.1 C590.2,118.4 590.6,116.0 591.0,116.0Z" fill="#1e1e1e"/><path d="M640.0,116.0 C640.4,116.0 640.9,118.4 641.2,120.1 C641.5,121.8 642.0,122.8 642.0,126.2 C642.0,129.6 641.5,136.5 641.2,140.5 C640.9,144.4 640.4,150.0 640.0,150.0 C639.6,150.0 639.1,144.4 638.8,140.5 C638.5,136.5 638.0,129.6 638.0,126.2 C638.0,122.8 638.5,121.8 638.8,120.1 C639.1,118.4 639.6,116.0 640.0,116.0Z" fill="#1e1e1e"/><path d="M657.5,120.0 C657.9,120.0 658.4,122.1 658.7,123.6 C659.0,125.1 659.5,126.0 659.5,129.0 C659.5,132.0 659.0,138.1 658.7,141.6 C658.4,145.1 657.9,150.0 657.5,150.0 C657.1,150.0 656.6,145.1 656.3,141.6 C656.0,138.1 655.5,132.0 655.5,129.0 C655.5,126.0 656.0,125.1 656.3,123.6 C656.6,122.1 657.1,120.0 657.5,120.0Z" fill="#242424"/><path d="M384.0,150.0 C384.5,150.0 385.1,156.5 385.5,161.2 C385.9,165.9 386.5,174.0 386.5,178.0 C386.5,182.0 385.9,183.2 385.5,185.2 C385.1,187.2 384.5,190.0 384.0,190.0 C383.5,190.0 382.9,187.2 382.5,185.2 C382.1,183.2 381.5,182.0 381.5,178.0 C381.5,174.0 382.1,165.9 382.5,161.2 C382.9,156.5 383.5,150.0 384.0,150.0Z" fill="#272727"/><path d="M424.0,148.0 C424.8,148.0 425.7,154.9 426.4,159.8 C427.1,164.7 428.0,173.2 428.0,177.4 C428.0,181.6 427.1,182.9 426.4,185.0 C425.7,187.1 424.8,190.0 424.0,190.0 C423.2,190.0 422.3,187.1 421.6,185.0 C420.9,182.9 420.0,181.6 420.0,177.4 C420.0,173.2 420.9,164.7 421.6,159.8 C422.3,154.9 423.2,148.0 424.0,148.0Z" fill="#484848"/><path d="M451.0,150.0 C451.5,150.0 452.1,156.5 452.5,161.2 C452.9,165.9 453.5,174.0 453.5,178.0 C453.5,182.0 452.9,183.2 452.5,185.2 C452.1,187.2 451.5,190.0 451.0,190.0 C450.5,190.0 449.9,187.2 449.5,185.2 C449.1,183.2 448.5,182.0 448.5,178.0 C448.5,174.0 449.1,165.9 449.5,161.2 C449.9,156.5 450.5,150.0 451.0,150.0Z" fill="#2d2d2d"/><path d="M524.0,150.0 C524.6,150.0 525.3,156.5 525.8,161.2 C526.3,165.9 527.0,174.0 527.0,178.0 C527.0,182.0 526.3,183.2 525.8,185.2 C525.3,187.2 524.6,190.0 524.0,190.0 C523.4,190.0 522.7,187.2 522.2,185.2 C521.7,183.2 521.0,182.0 521.0,178.0 C521.0,174.0 521.7,165.9 522.2,161.2 C522.7,156.5 523.4,150.0 524.0,150.0Z" fill="#333333"/><path d="M577.5,148.0 C578.0,148.0 578.6,154.9 579.0,159.8 C579.4,164.7 580.0,173.2 580.0,177.4 C580.0,181.6 579.4,182.9 579.0,185.0 C578.6,187.1 578.0,190.0 577.5,190.0 C577.0,190.0 576.4,187.1 576.0,185.0 C575.6,182.9 575.0,181.6 575.0,177.4 C575.0,173.2 575.6,164.7 576.0,159.8 C576.4,154.9 577.0,148.0 577.5,148.0Z" fill="#2d2d2d"/><path d="M608.5,150.0 C609.0,150.0 609.6,156.5 610.0,161.2 C610.4,165.9 611.0,174.0 611.0,178.0 C611.0,182.0 610.4,183.2 610.0,185.2 C609.6,187.2 609.0,190.0 608.5,190.0 C608.0,190.0 607.4,187.2 607.0,185.2 C606.6,183.2 606.0,182.0 606.0,178.0 C606.0,174.0 606.6,165.9 607.0,161.2 C607.4,156.5 608.0,150.0 608.5,150.0Z" fill="#2d2d2d"/><path d="M625.0,145.0 C625.9,145.0 627.0,152.3 627.7,157.6 C628.5,162.8 629.5,172.0 629.5,176.5 C629.5,181.0 628.5,182.3 627.7,184.6 C627.0,186.8 625.9,190.0 625.0,190.0 C624.1,190.0 623.0,186.8 622.3,184.6 C621.5,182.3 620.5,181.0 620.5,176.5 C620.5,172.0 621.5,162.8 622.3,157.6 C623.0,152.3 624.1,145.0 625.0,145.0Z" fill="#4e4e4e"/><path d="M669.0,150.0 C669.6,150.0 670.3,156.5 670.8,161.2 C671.3,165.9 672.0,174.0 672.0,178.0 C672.0,182.0 671.3,183.2 670.8,185.2 C670.3,187.2 669.6,190.0 669.0,190.0 C668.4,190.0 667.7,187.2 667.2,185.2 C666.7,183.2 666.0,182.0 666.0,178.0 C666.0,174.0 666.7,165.9 667.2,161.2 C667.7,156.5 668.4,150.0 669.0,150.0Z" fill="#3c3c3c"/><path d="M400.0,155.0 C400.3,155.0 400.6,160.7 400.9,164.8 C401.1,168.9 401.5,176.0 401.5,179.5 C401.5,183.0 401.1,184.1 400.9,185.8 C400.6,187.6 400.3,190.0 400.0,190.0 C399.7,190.0 399.4,187.6 399.1,185.8 C398.9,184.1 398.5,183.0 398.5,179.5 C398.5,176.0 398.9,168.9 399.1,164.8 C399.4,160.7 399.7,155.0 400.0,155.0Z" fill="#1e1e1e"/><path d="M494.0,152.0 C494.3,152.0 494.6,158.2 494.9,162.6 C495.1,167.1 495.5,174.8 495.5,178.6 C495.5,182.4 495.1,183.5 494.9,185.4 C494.6,187.3 494.3,190.0 494.0,190.0 C493.7,190.0 493.4,187.3 493.1,185.4 C492.9,183.5 492.5,182.4 492.5,178.6 C492.5,174.8 492.9,167.1 493.1,162.6 C493.4,158.2 493.7,152.0 494.0,152.0Z" fill="#1e1e1e"/><path d="M552.0,152.0 C552.3,152.0 552.6,158.2 552.9,162.6 C553.1,167.1 553.5,174.8 553.5,178.6 C553.5,182.4 553.1,183.5 552.9,185.4 C552.6,187.3 552.3,190.0 552.0,190.0 C551.7,190.0 551.4,187.3 551.1,185.4 C550.9,183.5 550.5,182.4 550.5,178.6 C550.5,174.8 550.9,167.1 551.1,162.6 C551.4,158.2 551.7,152.0 552.0,152.0Z" fill="#1e1e1e"/><path d="M593.0,152.0 C593.3,152.0 593.6,158.2 593.9,162.6 C594.1,167.1 594.5,174.8 594.5,178.6 C594.5,182.4 594.1,183.5 593.9,185.4 C593.6,187.3 593.3,190.0 593.0,190.0 C592.7,190.0 592.4,187.3 592.1,185.4 C591.9,183.5 591.5,182.4 591.5,178.6 C591.5,174.8 591.9,167.1 592.1,162.6 C592.4,158.2 592.7,152.0 593.0,152.0Z" fill="#1e1e1e"/><path d="M645.0,152.0 C645.3,152.0 645.6,158.2 645.9,162.6 C646.1,167.1 646.5,174.8 646.5,178.6 C646.5,182.4 646.1,183.5 645.9,185.4 C645.6,187.3 645.3,190.0 645.0,190.0 C644.7,190.0 644.4,187.3 644.1,185.4 C643.9,183.5 643.5,182.4 643.5,178.6 C643.5,174.8 643.9,167.1 644.1,162.6 C644.4,158.2 644.7,152.0 645.0,152.0Z" fill="#1e1e1e"/></g><g filter="url(#b1p5_3p3)" style="mix-blend-mode:lighten"><polygon points="382.5,104.0 382.5,99.1 384.0,94.6 387.0,91.6 390.0,89.0 393.0,87.5 396.0,90.0 398.6,96.0 401.1,100.1 404.1,95.1 407.1,91.6 411.1,89.8 416.1,90.0 420.1,92.1 424.2,92.6 428.0,90.6 431.2,92.2 436.0,90.5 441.2,88.9 446.2,86.4 453.8,90.2 461.3,87.7 471.3,91.4 481.3,94.0 488.9,96.5 498.9,94.0 508.9,90.2 517.7,88.9 521.5,86.4 527.0,88.9 535.8,83.2 542.1,86.4 550.8,90.2 557.1,94.0 564.6,96.5 569.7,97.2 573.4,101.5 575.9,105.6 575.9,105.6 569.7,108.3 564.6,110.3 557.1,115.3 554.0,119.5 550.8,124.0 547.1,116.5 543.3,121.0 539.6,125.3 537.0,121.0 534.5,116.5 529.5,121.5 524.0,127.0 521.5,123.0 518.0,119.0 514.0,115.3 509.0,117.0 503.9,119.0 499.0,116.0 493.9,112.8 488.9,113.5 483.9,114.0 476.3,112.8 471.3,116.0 466.3,119.0 462.5,121.5 458.8,124.0 455.0,121.5 451.2,119.0 443.7,119.0 440.0,117.0 436.2,114.0 432.5,116.5 428.7,119.0 424.2,119.6 420.1,119.1 417.1,122.2 414.1,125.2 411.1,125.2 408.1,120.1 404.6,114.1 402.1,112.1 399.1,117.1 395.1,118.1 391.0,119.1 388.0,120.6 385.0,119.1 383.0,113.1 382.5,105.1 382.5,104.0" fill="#3c3c3c"/><polygon points="578.3,106.0 580.9,99.0 586.0,94.0 590.0,92.5 594.7,91.4 604.8,91.4 608.5,94.0 612.3,96.5 616.0,92.5 619.8,88.9 627.3,89.7 634.9,88.2 639.9,90.2 647.4,87.7 651.0,90.0 654.9,92.7 662.5,91.4 668.7,86.4 672.0,85.5 672.0,126.0 668.7,125.3 662.5,122.8 654.9,120.3 647.4,115.3 639.9,116.5 633.6,124.0 630.5,121.0 627.3,117.8 619.8,122.8 616.0,119.5 612.3,116.5 607.3,119.0 602.3,126.6 599.8,122.0 597.2,117.8 592.2,115.3 586.0,114.0 580.9,106.5 578.3,106.0" fill="#3c3c3c"/></g><g filter="url(#b2_5p5)" style="mix-blend-mode:lighten"><polygon points="380.5,97.1 382.0,100.1 384.5,102.6 388.0,99.1 393.0,97.1 398.1,100.1 402.1,99.6 406.6,98.1 413.1,101.1 418.1,99.6 423.1,99.1 428.0,99.3 438.7,97.7 448.7,95.7 456.3,98.2 471.3,98.7 486.4,97.0 493.9,96.2 503.9,98.7 514.0,96.2 522.0,99.2 529.5,96.2 539.6,98.2 547.1,97.0 554.6,99.5 562.1,100.8 567.0,98.0 572.2,95.7 579.7,97.7 589.7,96.5 596.0,98.5 602.3,100.8 612.3,97.7 622.3,97.7 632.4,97.2 637.4,100.2 647.4,97.2 657.4,97.7 663.0,98.0 669.8,96.5 669.8,110.5 663.0,112.0 657.4,111.7 647.4,111.2 637.4,114.2 632.4,111.2 622.3,111.7 612.3,111.7 602.3,114.8 596.0,112.5 589.7,110.5 579.7,111.7 572.2,109.7 567.0,112.0 562.1,114.8 554.6,113.5 547.1,111.0 539.6,112.2 529.5,110.2 522.0,113.2 514.0,110.2 503.9,112.7 493.9,110.2 486.4,111.0 471.3,112.7 456.3,112.2 448.7,109.7 438.7,111.7 428.0,113.3 423.1,113.1 418.1,113.6 413.1,115.1 406.6,112.1 402.1,113.6 398.1,114.1 393.0,111.1 388.0,113.1 384.5,116.6 382.0,114.1 380.5,111.1" fill="#595959"/></g><g filter="url(#b3_4)" style="mix-blend-mode:lighten"><ellipse cx="391" cy="104" rx="4" ry="7" fill="#6b6b6b"/><ellipse cx="414" cy="106" rx="5" ry="7" fill="#6b6b6b"/><ellipse cx="452" cy="104" rx="6" ry="7" fill="#686868"/><ellipse cx="490" cy="104" rx="5" ry="6" fill="#626262"/><ellipse cx="535" cy="103" rx="6" ry="7" fill="#656565"/><ellipse cx="598" cy="104" rx="5" ry="6" fill="#626262"/><ellipse cx="628" cy="104" rx="6" ry="6" fill="#656565"/><ellipse cx="664" cy="104" rx="5" ry="7" fill="#6b6b6b"/></g></g><path d="M382.5,104.0 C382.5,103.2 382.2,100.7 382.5,99.1 C382.8,97.5 383.2,95.8 384.0,94.6 C384.8,93.3 386.0,92.5 387.0,91.6 C388.0,90.7 389.0,89.7 390.0,89.0 C391.0,88.3 392.0,87.3 393.0,87.5 C394.0,87.7 395.1,88.6 396.0,90.0 C396.9,91.4 397.8,94.3 398.6,96.0 C399.5,97.7 400.2,100.2 401.1,100.1 C402.0,99.9 403.1,96.5 404.1,95.1 C405.1,93.7 405.9,92.5 407.1,91.6 C408.3,90.7 409.6,90.1 411.1,89.8 C412.6,89.5 414.6,89.6 416.1,90.0 C417.6,90.4 418.8,91.7 420.1,92.1 C421.5,92.5 422.9,92.8 424.2,92.6 C425.5,92.3 426.8,90.7 428.0,90.6 C429.2,90.5 429.9,92.2 431.2,92.2 C432.5,92.2 434.3,91.0 436.0,90.5 C437.7,90.0 439.5,89.6 441.2,88.9 C442.9,88.2 444.1,86.2 446.2,86.4 C448.3,86.6 451.3,90.0 453.8,90.2 C456.3,90.4 458.4,87.5 461.3,87.7 C464.2,87.9 468.0,90.4 471.3,91.4 C474.6,92.5 478.4,93.2 481.3,94.0 C484.2,94.8 486.0,96.5 488.9,96.5 C491.8,96.5 495.6,95.0 498.9,94.0 C502.2,93.0 505.8,91.0 508.9,90.2 C512.0,89.4 515.6,89.5 517.7,88.9 C519.8,88.3 520.0,86.4 521.5,86.4 C523.0,86.4 524.6,89.4 527.0,88.9 C529.4,88.4 533.3,83.6 535.8,83.2 C538.3,82.8 539.6,85.2 542.1,86.4 C544.6,87.6 548.3,88.9 550.8,90.2 C553.3,91.5 554.8,93.0 557.1,94.0 C559.4,95.0 562.5,96.0 564.6,96.5 C566.7,97.0 568.2,96.4 569.7,97.2 C571.2,98.0 572.4,100.1 573.4,101.5 C574.4,102.9 575.5,104.9 575.9,105.6 C576.3,106.3 576.9,105.1 575.9,105.6 C574.9,106.0 571.6,107.5 569.7,108.3 C567.8,109.1 566.7,109.1 564.6,110.3 C562.5,111.5 558.9,113.8 557.1,115.3 C555.3,116.8 555.0,118.0 554.0,119.5 C553.0,121.0 551.9,124.5 550.8,124.0 C549.6,123.5 548.4,117.0 547.1,116.5 C545.9,116.0 544.5,119.5 543.3,121.0 C542.0,122.5 540.6,125.3 539.6,125.3 C538.6,125.3 537.9,122.5 537.0,121.0 C536.1,119.5 535.8,116.4 534.5,116.5 C533.2,116.6 531.2,119.8 529.5,121.5 C527.8,123.2 525.3,126.8 524.0,127.0 C522.7,127.2 522.5,124.3 521.5,123.0 C520.5,121.7 519.2,120.3 518.0,119.0 C516.8,117.7 515.5,115.6 514.0,115.3 C512.5,115.0 510.7,116.4 509.0,117.0 C507.3,117.6 505.6,119.2 503.9,119.0 C502.2,118.8 500.7,117.0 499.0,116.0 C497.3,115.0 495.6,113.2 493.9,112.8 C492.2,112.4 490.6,113.3 488.9,113.5 C487.2,113.7 486.0,114.1 483.9,114.0 C481.8,113.9 478.4,112.5 476.3,112.8 C474.2,113.1 473.0,115.0 471.3,116.0 C469.6,117.0 467.8,118.1 466.3,119.0 C464.8,119.9 463.8,120.7 462.5,121.5 C461.2,122.3 460.1,124.0 458.8,124.0 C457.6,124.0 456.3,122.3 455.0,121.5 C453.7,120.7 453.1,119.4 451.2,119.0 C449.3,118.6 445.6,119.3 443.7,119.0 C441.8,118.7 441.2,117.8 440.0,117.0 C438.8,116.2 437.4,114.1 436.2,114.0 C434.9,113.9 433.8,115.7 432.5,116.5 C431.2,117.3 430.1,118.5 428.7,119.0 C427.3,119.5 425.6,119.6 424.2,119.6 C422.8,119.6 421.3,118.7 420.1,119.1 C418.9,119.5 418.1,121.2 417.1,122.2 C416.1,123.2 415.1,124.7 414.1,125.2 C413.1,125.7 412.1,126.1 411.1,125.2 C410.1,124.3 409.2,121.9 408.1,120.1 C407.0,118.2 405.6,115.4 404.6,114.1 C403.6,112.8 403.0,111.6 402.1,112.1 C401.2,112.6 400.3,116.1 399.1,117.1 C397.9,118.1 396.5,117.8 395.1,118.1 C393.8,118.4 392.2,118.7 391.0,119.1 C389.8,119.5 389.0,120.6 388.0,120.6 C387.0,120.6 385.8,120.3 385.0,119.1 C384.2,117.8 383.4,115.4 383.0,113.1 C382.6,110.8 382.6,106.6 382.5,105.1 C382.4,103.6 382.5,104.2 382.5,104.0 C382.5,103.8 382.5,104.8 382.5,104.0Z" fill="none" stroke="#fff" stroke-width="1.7" stroke-linejoin="round"/><path d="M578.3,106.0 C578.7,104.8 579.6,101.0 580.9,99.0 C582.2,97.0 584.5,95.1 586.0,94.0 C587.5,92.9 588.5,92.9 590.0,92.5 C591.5,92.1 592.2,91.6 594.7,91.4 C597.2,91.2 602.5,91.0 604.8,91.4 C607.1,91.8 607.2,93.2 608.5,94.0 C609.8,94.8 611.0,96.8 612.3,96.5 C613.5,96.2 614.8,93.8 616.0,92.5 C617.2,91.2 617.9,89.4 619.8,88.9 C621.7,88.4 624.8,89.8 627.3,89.7 C629.8,89.6 632.8,88.1 634.9,88.2 C637.0,88.3 637.8,90.3 639.9,90.2 C642.0,90.1 645.5,87.7 647.4,87.7 C649.2,87.7 649.8,89.2 651.0,90.0 C652.2,90.8 653.0,92.5 654.9,92.7 C656.8,92.9 660.2,92.5 662.5,91.4 C664.8,90.4 667.1,87.4 668.7,86.4 C670.3,85.4 671.5,78.9 672.0,85.5 C672.5,92.1 672.5,119.4 672.0,126.0 C671.5,132.6 670.3,125.8 668.7,125.3 C667.1,124.8 664.8,123.6 662.5,122.8 C660.2,122.0 657.4,121.5 654.9,120.3 C652.4,119.0 649.9,115.9 647.4,115.3 C644.9,114.7 642.2,115.0 639.9,116.5 C637.6,118.0 635.2,123.2 633.6,124.0 C632.0,124.8 631.5,122.0 630.5,121.0 C629.5,120.0 629.1,117.5 627.3,117.8 C625.5,118.1 621.7,122.5 619.8,122.8 C617.9,123.1 617.2,120.5 616.0,119.5 C614.8,118.5 613.8,116.6 612.3,116.5 C610.8,116.4 609.0,117.3 607.3,119.0 C605.6,120.7 603.5,126.1 602.3,126.6 C601.0,127.1 600.6,123.5 599.8,122.0 C598.9,120.5 598.5,118.9 597.2,117.8 C595.9,116.7 594.1,115.9 592.2,115.3 C590.3,114.7 587.9,115.5 586.0,114.0 C584.1,112.5 582.2,107.8 580.9,106.5 C579.6,105.2 578.7,106.1 578.3,106.0" fill="none" stroke="#fff" stroke-width="1.7" stroke-linejoin="round"/><path d="M425.0,168.5 C425.4,168.5 426.0,170.6 426.2,172.0 C426.4,173.4 426.6,176.2 426.2,177.0 C425.8,177.8 424.2,177.8 423.8,177.0 C423.4,176.2 423.6,173.4 423.8,172.0 C424.0,170.6 424.6,168.5 425.0,168.5Z" fill="none" stroke="#fff" stroke-width="1.1" stroke-linejoin="round"/><path d="M625.0,153.5 C625.5,153.5 626.1,158.1 626.5,162.0 C626.9,165.9 628.2,174.5 627.5,177.0 C626.8,179.5 623.2,179.5 622.5,177.0 C621.8,174.5 623.1,165.9 623.5,162.0 C623.9,158.1 624.5,153.5 625.0,153.5Z" fill="none" stroke="#fff" stroke-width="1.2" stroke-linejoin="round"/><path d="M669.5,168.5 C670.0,168.5 670.8,170.6 671.0,172.0 C671.2,173.4 671.5,176.2 671.0,177.0 C670.5,177.8 668.5,177.8 668.0,177.0 C667.5,176.2 667.8,173.4 668.0,172.0 C668.2,170.6 669.0,168.5 669.5,168.5Z" fill="none" stroke="#fff" stroke-width="1.1" stroke-linejoin="round"/><path d="M380.5,104.1 C380.8,104.6 381.3,106.2 382.0,107.1 C382.7,108.0 383.5,109.8 384.5,109.6 C385.5,109.4 386.6,107.0 388.0,106.1 C389.4,105.2 391.3,103.9 393.0,104.1 C394.7,104.3 396.6,106.7 398.1,107.1 C399.6,107.5 400.7,106.9 402.1,106.6 C403.5,106.3 404.8,104.8 406.6,105.1 C408.4,105.3 411.2,107.8 413.1,108.1 C415.0,108.3 416.4,106.9 418.1,106.6 C419.8,106.3 421.5,106.1 423.1,106.1 C424.8,106.0 425.4,106.5 428.0,106.3 C430.6,106.1 435.2,105.3 438.7,104.7 C442.1,104.1 445.8,102.6 448.7,102.7 C451.6,102.8 452.5,104.7 456.3,105.2 C460.1,105.7 466.3,105.9 471.3,105.7 C476.3,105.5 482.6,104.4 486.4,104.0 C490.2,103.6 491.0,102.9 493.9,103.2 C496.8,103.5 500.5,105.7 503.9,105.7 C507.2,105.7 511.0,103.1 514.0,103.2 C517.0,103.3 519.4,106.2 522.0,106.2 C524.6,106.2 526.6,103.4 529.5,103.2 C532.4,103.0 536.7,105.1 539.6,105.2 C542.5,105.3 544.6,103.8 547.1,104.0 C549.6,104.2 552.1,105.9 554.6,106.5 C557.1,107.1 560.0,108.0 562.1,107.8 C564.2,107.5 565.3,105.8 567.0,105.0 C568.7,104.2 570.1,102.8 572.2,102.7 C574.3,102.7 576.8,104.6 579.7,104.7 C582.6,104.8 587.0,103.4 589.7,103.5 C592.4,103.6 593.9,104.8 596.0,105.5 C598.1,106.2 599.6,107.9 602.3,107.8 C605.0,107.7 609.0,105.2 612.3,104.7 C615.6,104.2 618.9,104.8 622.3,104.7 C625.6,104.6 629.9,103.8 632.4,104.2 C634.9,104.6 634.9,107.2 637.4,107.2 C639.9,107.2 644.1,104.6 647.4,104.2 C650.7,103.8 654.8,104.6 657.4,104.7 C660.0,104.8 660.9,105.2 663.0,105.0 C665.1,104.8 668.7,103.8 669.8,103.5" fill="none" stroke="#000" stroke-width="2.0" stroke-linejoin="round" stroke-linecap="round"/></g><g clip-path="url(#c8281)"><g filter="url(#cm)"><rect x="34.0" y="204.1" width="329.3" height="180.7" fill="#010101"/><g filter="url(#b2p2_3p5)" style="mix-blend-mode:lighten"><ellipse cx="59.8" cy="276.8" rx="2.7" ry="9.6" fill="#0c0c0c"/><ellipse cx="66.8" cy="277.1" rx="2.1" ry="9.0" fill="#040404"/><ellipse cx="74.9" cy="276.4" rx="3.3" ry="10.4" fill="#040404"/><ellipse cx="80.9" cy="276.5" rx="2.3" ry="10.1" fill="#030303"/><ellipse cx="87.9" cy="278.4" rx="2.2" ry="6.6" fill="#090909"/><ellipse cx="94.6" cy="276.8" rx="2.6" ry="9.7" fill="#0c0c0c"/><ellipse cx="103.0" cy="277.2" rx="3.2" ry="8.9" fill="#0d0d0d"/><ellipse cx="110.2" cy="277.2" rx="2.6" ry="8.9" fill="#0e0e0e"/><ellipse cx="120.1" cy="278.1" rx="2.7" ry="7.3" fill="#060606"/><ellipse cx="127.0" cy="276.4" rx="3.5" ry="10.4" fill="#0e0e0e"/><ellipse cx="136.2" cy="278.0" rx="3.1" ry="7.5" fill="#090909"/><ellipse cx="142.7" cy="278.1" rx="2.6" ry="7.3" fill="#040404"/><ellipse cx="154.7" cy="276.6" rx="2.1" ry="10.1" fill="#0b0b0b"/><ellipse cx="160.8" cy="276.1" rx="2.7" ry="11.0" fill="#0f0f0f"/><ellipse cx="170.2" cy="276.9" rx="3.2" ry="9.5" fill="#060606"/><ellipse cx="179.6" cy="277.7" rx="2.9" ry="8.0" fill="#0d0d0d"/><ellipse cx="188.2" cy="278.6" rx="3.1" ry="6.3" fill="#080808"/><ellipse cx="193.9" cy="276.4" rx="3.0" ry="10.4" fill="#090909"/><ellipse cx="203.4" cy="278.2" rx="2.9" ry="7.1" fill="#080808"/><ellipse cx="212.9" cy="277.8" rx="3.0" ry="7.9" fill="#090909"/><ellipse cx="220.7" cy="276.9" rx="2.8" ry="9.4" fill="#070707"/><ellipse cx="231.0" cy="277.3" rx="3.3" ry="8.7" fill="#0f0f0f"/><ellipse cx="238.7" cy="278.3" rx="3.4" ry="6.9" fill="#070707"/><ellipse cx="249.9" cy="277.1" rx="2.0" ry="9.1" fill="#0d0d0d"/><ellipse cx="262.1" cy="277.8" rx="3.0" ry="7.7" fill="#070707"/><ellipse cx="272.1" cy="278.7" rx="2.1" ry="6.1" fill="#0e0e0e"/><ellipse cx="282.0" cy="277.6" rx="2.2" ry="8.1" fill="#060606"/><ellipse cx="293.7" cy="276.8" rx="2.4" ry="9.6" fill="#0c0c0c"/><ellipse cx="301.4" cy="277.4" rx="2.4" ry="8.6" fill="#080808"/><ellipse cx="311.0" cy="276.6" rx="2.5" ry="10.0" fill="#080808"/><ellipse cx="317.4" cy="276.3" rx="3.2" ry="10.5" fill="#0b0b0b"/><ellipse cx="326.7" cy="276.2" rx="3.3" ry="10.7" fill="#030303"/><ellipse cx="335.7" cy="277.9" rx="2.0" ry="7.7" fill="#060606"/><ellipse cx="344.4" cy="276.4" rx="3.0" ry="10.3" fill="#060606"/><ellipse cx="74" cy="268" rx="4" ry="10" fill="#1e1e1e"/><ellipse cx="100" cy="268" rx="4" ry="10" fill="#1e1e1e"/><ellipse cx="146" cy="272" rx="4" ry="9" fill="#151515"/><ellipse cx="175" cy="272" rx="4" ry="9" fill="#181818"/><ellipse cx="210" cy="270" rx="4" ry="10" fill="#1e1e1e"/><ellipse cx="247" cy="270" rx="3" ry="9" fill="#151515"/><ellipse cx="283" cy="272" rx="4" ry="9" fill="#1b1b1b"/><ellipse cx="318" cy="272" rx="4" ry="10" fill="#1b1b1b"/><ellipse cx="338" cy="268" rx="4" ry="10" fill="#1e1e1e"/></g><g filter="url(#b1p1_5)" style="mix-blend-mode:lighten"><ellipse cx="53.0" cy="330.5" rx="1.4" ry="45.1" fill="#0c0c0c"/><ellipse cx="55.9" cy="326.1" rx="1.0" ry="44.8" fill="#151515"/><ellipse cx="61.1" cy="329.8" rx="1.4" ry="46.0" fill="#151515"/><ellipse cx="64.3" cy="330.7" rx="1.5" ry="46.3" fill="#151515"/><ellipse cx="68.7" cy="328.5" rx="1.0" ry="43.3" fill="#131313"/><ellipse cx="71.5" cy="332.7" rx="1.6" ry="46.0" fill="#0e0e0e"/><ellipse cx="76.1" cy="330.6" rx="1.7" ry="42.9" fill="#0c0c0c"/><ellipse cx="81.1" cy="325.2" rx="1.7" ry="45.5" fill="#060606"/><ellipse cx="86.2" cy="327.9" rx="1.3" ry="46.2" fill="#111111"/><ellipse cx="89.9" cy="332.0" rx="1.3" ry="46.9" fill="#101010"/><ellipse cx="94.4" cy="333.1" rx="1.7" ry="43.1" fill="#151515"/><ellipse cx="97.6" cy="331.9" rx="1.6" ry="43.0" fill="#171717"/><ellipse cx="102.1" cy="328.3" rx="1.2" ry="43.3" fill="#151515"/><ellipse cx="105.0" cy="328.4" rx="1.6" ry="49.3" fill="#181818"/><ellipse cx="108.8" cy="332.9" rx="1.1" ry="45.6" fill="#0a0a0a"/><ellipse cx="111.7" cy="329.4" rx="1.5" ry="42.7" fill="#050505"/><ellipse cx="116.6" cy="330.9" rx="1.7" ry="40.9" fill="#0e0e0e"/><ellipse cx="119.6" cy="326.7" rx="1.4" ry="46.3" fill="#050505"/><ellipse cx="123.9" cy="330.2" rx="1.1" ry="41.7" fill="#050505"/><ellipse cx="129.0" cy="329.0" rx="1.7" ry="45.4" fill="#0c0c0c"/><ellipse cx="133.3" cy="332.5" rx="1.4" ry="46.9" fill="#0f0f0f"/><ellipse cx="137.4" cy="326.3" rx="1.3" ry="45.4" fill="#121212"/><ellipse cx="142.5" cy="325.7" rx="1.4" ry="47.4" fill="#0f0f0f"/><ellipse cx="146.7" cy="327.3" rx="1.0" ry="41.6" fill="#101010"/><ellipse cx="151.0" cy="329.5" rx="1.3" ry="47.1" fill="#121212"/><ellipse cx="155.6" cy="332.9" rx="1.0" ry="46.7" fill="#060606"/><ellipse cx="159.0" cy="327.2" rx="1.3" ry="45.3" fill="#101010"/><ellipse cx="162.5" cy="327.2" rx="1.3" ry="45.5" fill="#101010"/><ellipse cx="167.2" cy="329.4" rx="1.0" ry="42.4" fill="#101010"/><ellipse cx="170.5" cy="326.8" rx="1.6" ry="46.5" fill="#090909"/><ellipse cx="175.0" cy="330.1" rx="1.1" ry="48.0" fill="#0b0b0b"/><ellipse cx="178.8" cy="329.0" rx="1.6" ry="46.9" fill="#080808"/><ellipse cx="183.8" cy="327.0" rx="1.3" ry="47.5" fill="#090909"/><ellipse cx="187.0" cy="325.9" rx="1.6" ry="45.6" fill="#151515"/><ellipse cx="191.8" cy="325.9" rx="1.5" ry="43.7" fill="#141414"/><ellipse cx="195.3" cy="327.7" rx="1.6" ry="45.4" fill="#0a0a0a"/><ellipse cx="199.1" cy="324.1" rx="1.3" ry="44.1" fill="#161616"/><ellipse cx="204.1" cy="331.4" rx="1.7" ry="48.1" fill="#181818"/><ellipse cx="209.2" cy="332.1" rx="1.2" ry="44.0" fill="#131313"/><ellipse cx="213.2" cy="324.9" rx="1.2" ry="44.0" fill="#0b0b0b"/><ellipse cx="217.4" cy="328.8" rx="1.2" ry="50.2" fill="#141414"/><ellipse cx="221.9" cy="332.0" rx="1.7" ry="43.1" fill="#161616"/><ellipse cx="224.7" cy="328.9" rx="1.6" ry="47.2" fill="#080808"/><ellipse cx="228.8" cy="328.8" rx="1.3" ry="43.4" fill="#171717"/><ellipse cx="232.2" cy="329.9" rx="1.6" ry="42.4" fill="#0e0e0e"/><ellipse cx="235.5" cy="328.9" rx="1.4" ry="48.7" fill="#141414"/><ellipse cx="240.5" cy="326.9" rx="1.6" ry="48.7" fill="#141414"/><ellipse cx="245.3" cy="327.9" rx="1.0" ry="46.6" fill="#0a0a0a"/><ellipse cx="249.2" cy="323.4" rx="1.4" ry="45.3" fill="#141414"/><ellipse cx="252.3" cy="334.1" rx="1.1" ry="44.3" fill="#060606"/><ellipse cx="255.3" cy="327.1" rx="1.4" ry="45.2" fill="#0b0b0b"/><ellipse cx="259.6" cy="326.2" rx="1.4" ry="45.8" fill="#0b0b0b"/><ellipse cx="262.7" cy="325.9" rx="1.4" ry="43.2" fill="#121212"/><ellipse cx="265.9" cy="330.1" rx="1.3" ry="42.6" fill="#101010"/><ellipse cx="270.7" cy="328.3" rx="1.5" ry="45.7" fill="#0d0d0d"/><ellipse cx="275.2" cy="327.3" rx="1.3" ry="43.7" fill="#121212"/><ellipse cx="279.2" cy="328.2" rx="1.5" ry="45.0" fill="#060606"/><ellipse cx="284.1" cy="333.2" rx="1.7" ry="44.4" fill="#0c0c0c"/><ellipse cx="287.6" cy="332.0" rx="1.3" ry="44.1" fill="#070707"/><ellipse cx="292.5" cy="330.9" rx="1.6" ry="44.0" fill="#111111"/><ellipse cx="295.6" cy="328.6" rx="1.4" ry="48.8" fill="#050505"/><ellipse cx="298.5" cy="329.5" rx="1.1" ry="40.8" fill="#060606"/><ellipse cx="301.3" cy="332.2" rx="1.6" ry="44.0" fill="#070707"/><ellipse cx="306.1" cy="328.1" rx="1.7" ry="40.4" fill="#101010"/><ellipse cx="310.8" cy="328.2" rx="1.4" ry="48.9" fill="#121212"/><ellipse cx="315.8" cy="331.5" rx="1.0" ry="46.6" fill="#0b0b0b"/><ellipse cx="319.2" cy="331.3" rx="1.1" ry="45.8" fill="#090909"/><ellipse cx="322.9" cy="327.7" rx="1.3" ry="45.4" fill="#0c0c0c"/><ellipse cx="325.9" cy="330.1" rx="1.4" ry="47.0" fill="#171717"/><ellipse cx="329.1" cy="330.2" rx="1.5" ry="44.1" fill="#131313"/><ellipse cx="333.1" cy="324.6" rx="1.5" ry="44.7" fill="#161616"/><ellipse cx="337.7" cy="330.1" rx="1.7" ry="46.7" fill="#0f0f0f"/><ellipse cx="340.9" cy="328.5" rx="1.2" ry="43.4" fill="#080808"/><ellipse cx="344.3" cy="329.1" rx="1.5" ry="47.5" fill="#171717"/><ellipse cx="56.3" cy="255.5" rx="1.4" ry="12.8" fill="#020202"/><ellipse cx="61.2" cy="258.2" rx="1.3" ry="13.8" fill="#010101"/><ellipse cx="67.0" cy="260.6" rx="1.1" ry="14.7" fill="#070707"/><ellipse cx="71.9" cy="260.3" rx="1.6" ry="13.5" fill="#060606"/><ellipse cx="77.6" cy="264.3" rx="1.6" ry="15.4" fill="#030303"/><ellipse cx="82.5" cy="262.5" rx="1.2" ry="13.7" fill="#020202"/><ellipse cx="88.9" cy="256.8" rx="1.6" ry="14.4" fill="#020202"/><ellipse cx="92.9" cy="261.0" rx="1.5" ry="10.1" fill="#060606"/><ellipse cx="99.0" cy="259.0" rx="1.2" ry="10.1" fill="#030303"/><ellipse cx="102.8" cy="259.7" rx="1.6" ry="15.3" fill="#020202"/><ellipse cx="108.3" cy="259.6" rx="1.0" ry="14.3" fill="#020202"/><ellipse cx="112.5" cy="259.7" rx="1.4" ry="14.9" fill="#070707"/><ellipse cx="116.3" cy="260.1" rx="1.2" ry="18.6" fill="#050505"/><ellipse cx="122.5" cy="261.0" rx="1.1" ry="16.4" fill="#070707"/><ellipse cx="128.3" cy="262.9" rx="1.2" ry="14.9" fill="#050505"/><ellipse cx="132.6" cy="261.4" rx="1.6" ry="13.2" fill="#070707"/><ellipse cx="136.5" cy="262.5" rx="1.4" ry="13.8" fill="#030303"/><ellipse cx="141.7" cy="259.0" rx="1.1" ry="11.3" fill="#050505"/><ellipse cx="147.8" cy="260.5" rx="1.5" ry="9.3" fill="#010101"/><ellipse cx="152.3" cy="261.3" rx="1.5" ry="14.6" fill="#040404"/><ellipse cx="157.2" cy="258.8" rx="1.2" ry="17.9" fill="#010101"/><ellipse cx="163.0" cy="257.9" rx="1.4" ry="13.4" fill="#060606"/><ellipse cx="167.6" cy="258.6" rx="1.7" ry="12.5" fill="#000000"/><ellipse cx="173.4" cy="259.8" rx="1.3" ry="14.8" fill="#020202"/><ellipse cx="179.2" cy="256.4" rx="1.3" ry="15.0" fill="#060606"/><ellipse cx="183.0" cy="259.6" rx="1.1" ry="10.7" fill="#060606"/><ellipse cx="187.1" cy="263.5" rx="1.3" ry="13.6" fill="#060606"/><ellipse cx="192.4" cy="258.4" rx="1.1" ry="16.0" fill="#030303"/><ellipse cx="197.6" cy="259.0" rx="1.2" ry="9.5" fill="#020202"/><ellipse cx="203.5" cy="259.7" rx="1.7" ry="15.0" fill="#070707"/><ellipse cx="208.7" cy="260.0" rx="1.5" ry="11.7" fill="#070707"/><ellipse cx="214.8" cy="258.5" rx="1.4" ry="9.7" fill="#040404"/><ellipse cx="220.6" cy="260.0" rx="1.5" ry="13.6" fill="#040404"/><ellipse cx="224.7" cy="261.0" rx="1.4" ry="14.9" fill="#000000"/><ellipse cx="229.5" cy="260.3" rx="1.4" ry="9.5" fill="#070707"/><ellipse cx="235.4" cy="257.7" rx="1.5" ry="13.2" fill="#000000"/><ellipse cx="239.2" cy="261.3" rx="1.4" ry="17.3" fill="#070707"/><ellipse cx="244.7" cy="263.3" rx="1.1" ry="16.0" fill="#060606"/><ellipse cx="250.4" cy="264.5" rx="1.6" ry="14.8" fill="#030303"/><ellipse cx="256.5" cy="257.7" rx="1.3" ry="11.7" fill="#060606"/><ellipse cx="260.1" cy="258.0" rx="1.1" ry="16.0" fill="#010101"/><ellipse cx="265.7" cy="259.8" rx="1.4" ry="11.9" fill="#030303"/><ellipse cx="270.6" cy="260.6" rx="1.6" ry="18.3" fill="#030303"/><ellipse cx="276.2" cy="260.9" rx="1.3" ry="14.4" fill="#030303"/><ellipse cx="280.4" cy="259.7" rx="1.0" ry="10.2" fill="#020202"/><ellipse cx="285.3" cy="257.5" rx="1.1" ry="15.4" fill="#020202"/><ellipse cx="289.3" cy="258.1" rx="1.0" ry="15.9" fill="#010101"/><ellipse cx="293.0" cy="260.8" rx="1.0" ry="15.8" fill="#030303"/><ellipse cx="296.6" cy="260.1" rx="1.3" ry="19.6" fill="#030303"/><ellipse cx="300.8" cy="258.8" rx="1.1" ry="16.7" fill="#040404"/><ellipse cx="305.3" cy="260.1" rx="1.1" ry="11.3" fill="#000000"/><ellipse cx="311.2" cy="257.4" rx="1.3" ry="13.7" fill="#070707"/><ellipse cx="315.5" cy="256.7" rx="1.6" ry="12.5" fill="#050505"/><ellipse cx="321.0" cy="254.3" rx="1.7" ry="14.2" fill="#040404"/><ellipse cx="324.8" cy="258.3" rx="1.1" ry="17.6" fill="#000000"/><ellipse cx="331.0" cy="261.8" rx="1.2" ry="16.0" fill="#070707"/><ellipse cx="337.3" cy="259.6" rx="1.7" ry="15.8" fill="#000000"/><ellipse cx="343.6" cy="259.9" rx="1.1" ry="9.6" fill="#020202"/></g><g filter="url(#b3_7)" style="mix-blend-mode:lighten"><rect x="70" y="276.5" width="5" height="11.0" fill="#242424"/><rect x="92" y="276" width="3" height="14" fill="#2a2a2a"/><rect x="146" y="284" width="-66" height="12" fill="#151515"/><rect x="190" y="281" width="22" height="14" fill="#272727"/><rect x="247" y="279" width="4" height="16" fill="#181818"/><rect x="281" y="282" width="10" height="16" fill="#242424"/><rect x="325" y="283" width="21" height="18" fill="#272727"/></g><g filter="url(#b1p8_4)" style="mix-blend-mode:lighten"><path d="M104.0,300.0 C104.5,300.0 105.0,304.8 105.3,308.2 C105.7,311.6 106.2,313.6 106.2,320.4 C106.2,327.2 105.7,341.0 105.3,349.0 C105.0,356.9 104.5,368.0 104.0,368.0 C103.5,368.0 103.0,356.9 102.7,349.0 C102.3,341.0 101.8,327.2 101.8,320.4 C101.8,313.6 102.3,311.6 102.7,308.2 C103.0,304.8 103.5,300.0 104.0,300.0Z" fill="#3c3c3c"/><path d="M73.0,305.0 C73.4,305.0 73.9,306.8 74.2,308.0 C74.5,309.2 75.0,310.0 75.0,312.5 C75.0,315.0 74.5,320.1 74.2,323.0 C73.9,325.9 73.4,330.0 73.0,330.0 C72.6,330.0 72.1,325.9 71.8,323.0 C71.5,320.1 71.0,315.0 71.0,312.5 C71.0,310.0 71.5,309.2 71.8,308.0 C72.1,306.8 72.6,305.0 73.0,305.0Z" fill="#242424"/><path d="M168.0,298.0 C168.3,298.0 168.8,301.3 169.1,303.6 C169.3,306.0 169.8,307.4 169.8,312.1 C169.8,316.8 169.3,326.4 169.1,331.8 C168.8,337.3 168.3,345.0 168.0,345.0 C167.7,345.0 167.2,337.3 166.9,331.8 C166.7,326.4 166.2,316.8 166.2,312.1 C166.2,307.4 166.7,306.0 166.9,303.6 C167.2,301.3 167.7,298.0 168.0,298.0Z" fill="#333333"/><path d="M237.5,300.0 C237.9,300.0 238.4,302.8 238.7,304.8 C239.0,306.8 239.5,308.0 239.5,312.0 C239.5,316.0 239.0,324.1 238.7,328.8 C238.4,333.5 237.9,340.0 237.5,340.0 C237.1,340.0 236.6,333.5 236.3,328.8 C236.0,324.1 235.5,316.0 235.5,312.0 C235.5,308.0 236.0,306.8 236.3,304.8 C236.6,302.8 237.1,300.0 237.5,300.0Z" fill="#2d2d2d"/><path d="M249.0,295.0 C249.5,295.0 250.1,300.1 250.5,303.8 C250.9,307.4 251.5,309.6 251.5,316.9 C251.5,324.2 250.9,339.0 250.5,347.6 C250.1,356.1 249.5,368.0 249.0,368.0 C248.5,368.0 247.9,356.1 247.5,347.6 C247.1,339.0 246.5,324.2 246.5,316.9 C246.5,309.6 247.1,307.4 247.5,303.8 C247.9,300.1 248.5,295.0 249.0,295.0Z" fill="#363636"/><path d="M271.5,300.0 C271.9,300.0 272.4,302.4 272.7,304.2 C273.0,305.9 273.5,307.0 273.5,310.5 C273.5,314.0 273.0,321.1 272.7,325.2 C272.4,329.3 271.9,335.0 271.5,335.0 C271.1,335.0 270.6,329.3 270.3,325.2 C270.0,321.1 269.5,314.0 269.5,310.5 C269.5,307.0 270.0,305.9 270.3,304.2 C270.6,302.4 271.1,300.0 271.5,300.0Z" fill="#2a2a2a"/><path d="M283.5,300.0 C284.0,300.0 284.6,302.8 285.0,304.8 C285.4,306.8 286.0,308.0 286.0,312.0 C286.0,316.0 285.4,324.1 285.0,328.8 C284.6,333.5 284.0,340.0 283.5,340.0 C283.0,340.0 282.4,333.5 282.0,328.8 C281.6,324.1 281.0,316.0 281.0,312.0 C281.0,308.0 281.6,306.8 282.0,304.8 C282.4,302.8 283.0,300.0 283.5,300.0Z" fill="#303030"/><path d="M295.5,298.0 C295.9,298.0 296.3,300.2 296.6,301.8 C296.8,303.4 297.2,304.4 297.2,307.6 C297.2,310.8 296.8,317.3 296.6,321.0 C296.3,324.8 295.9,330.0 295.5,330.0 C295.1,330.0 294.7,324.8 294.4,321.0 C294.2,317.3 293.8,310.8 293.8,307.6 C293.8,304.4 294.2,303.4 294.4,301.8 C294.7,300.2 295.1,298.0 295.5,298.0Z" fill="#1e1e1e"/><path d="M331.5,310.0 C332.0,310.0 332.6,314.1 333.0,317.0 C333.4,319.9 334.0,321.6 334.0,327.4 C334.0,333.2 333.4,345.0 333.0,351.8 C332.6,358.5 332.0,368.0 331.5,368.0 C331.0,368.0 330.4,358.5 330.0,351.8 C329.6,345.0 329.0,333.2 329.0,327.4 C329.0,321.6 329.6,319.9 330.0,317.0 C330.4,314.1 331.0,310.0 331.5,310.0Z" fill="#333333"/><path d="M339.0,312.0 C339.4,312.0 339.9,315.9 340.2,318.7 C340.5,321.5 341.0,323.2 341.0,328.8 C341.0,334.4 340.5,345.8 340.2,352.3 C339.9,358.9 339.4,368.0 339.0,368.0 C338.6,368.0 338.1,358.9 337.8,352.3 C337.5,345.8 337.0,334.4 337.0,328.8 C337.0,323.2 337.5,321.5 337.8,318.7 C338.1,315.9 338.6,312.0 339.0,312.0Z" fill="#2d2d2d"/><path d="M200.0,300.0 C200.3,300.0 200.7,302.1 200.9,303.6 C201.2,305.1 201.5,306.0 201.5,309.0 C201.5,312.0 201.2,318.1 200.9,321.6 C200.7,325.1 200.3,330.0 200.0,330.0 C199.7,330.0 199.3,325.1 199.1,321.6 C198.8,318.1 198.5,312.0 198.5,309.0 C198.5,306.0 198.8,305.1 199.1,303.6 C199.3,302.1 199.7,300.0 200.0,300.0Z" fill="#1e1e1e"/><path d="M122.0,295.0 C122.3,295.0 122.7,297.4 122.9,299.2 C123.2,300.9 123.5,302.0 123.5,305.5 C123.5,309.0 123.2,316.1 122.9,320.2 C122.7,324.3 122.3,330.0 122.0,330.0 C121.7,330.0 121.3,324.3 121.1,320.2 C120.8,316.1 120.5,309.0 120.5,305.5 C120.5,302.0 120.8,300.9 121.1,299.2 C121.3,297.4 121.7,295.0 122.0,295.0Z" fill="#181818"/><path d="M314.0,305.0 C314.3,305.0 314.6,306.8 314.9,308.0 C315.1,309.2 315.5,310.0 315.5,312.5 C315.5,315.0 315.1,320.1 314.9,323.0 C314.6,325.9 314.3,330.0 314.0,330.0 C313.7,330.0 313.4,325.9 313.1,323.0 C312.9,320.1 312.5,315.0 312.5,312.5 C312.5,310.0 312.9,309.2 313.1,308.0 C313.4,306.8 313.7,305.0 314.0,305.0Z" fill="#181818"/><path d="M74.0,330.0 C74.7,330.0 75.5,338.2 76.1,344.0 C76.7,349.8 77.5,360.0 77.5,365.0 C77.5,370.0 76.7,371.5 76.1,374.0 C75.5,376.5 74.7,380.0 74.0,380.0 C73.3,380.0 72.5,376.5 71.9,374.0 C71.3,371.5 70.5,370.0 70.5,365.0 C70.5,360.0 71.3,349.8 71.9,344.0 C72.5,338.2 73.3,330.0 74.0,330.0Z" fill="#4b4b4b"/><path d="M104.0,335.0 C104.5,335.0 105.1,342.4 105.5,347.6 C105.9,352.9 106.5,362.0 106.5,366.5 C106.5,371.0 105.9,372.4 105.5,374.6 C105.1,376.9 104.5,380.0 104.0,380.0 C103.5,380.0 102.9,376.9 102.5,374.6 C102.1,372.4 101.5,371.0 101.5,366.5 C101.5,362.0 102.1,352.9 102.5,347.6 C102.9,342.4 103.5,335.0 104.0,335.0Z" fill="#3c3c3c"/><path d="M137.0,335.0 C137.5,335.0 138.1,342.4 138.5,347.6 C138.9,352.9 139.5,362.0 139.5,366.5 C139.5,371.0 138.9,372.4 138.5,374.6 C138.1,376.9 137.5,380.0 137.0,380.0 C136.5,380.0 135.9,376.9 135.5,374.6 C135.1,372.4 134.5,371.0 134.5,366.5 C134.5,362.0 135.1,352.9 135.5,347.6 C135.9,342.4 136.5,335.0 137.0,335.0Z" fill="#242424"/><path d="M159.0,330.0 C159.8,330.0 160.7,338.2 161.4,344.0 C162.1,349.8 163.0,360.0 163.0,365.0 C163.0,370.0 162.1,371.5 161.4,374.0 C160.7,376.5 159.8,380.0 159.0,380.0 C158.2,380.0 157.3,376.5 156.6,374.0 C155.9,371.5 155.0,370.0 155.0,365.0 C155.0,360.0 155.9,349.8 156.6,344.0 C157.3,338.2 158.2,330.0 159.0,330.0Z" fill="#3c3c3c"/><path d="M226.5,330.0 C227.5,330.0 228.7,338.2 229.5,344.0 C230.3,349.8 231.5,360.0 231.5,365.0 C231.5,370.0 230.3,371.5 229.5,374.0 C228.7,376.5 227.5,380.0 226.5,380.0 C225.5,380.0 224.3,376.5 223.5,374.0 C222.7,371.5 221.5,370.0 221.5,365.0 C221.5,360.0 222.7,349.8 223.5,344.0 C224.3,338.2 225.5,330.0 226.5,330.0Z" fill="#484848"/><path d="M237.5,335.0 C238.0,335.0 238.6,342.4 239.0,347.6 C239.4,352.9 240.0,362.0 240.0,366.5 C240.0,371.0 239.4,372.4 239.0,374.6 C238.6,376.9 238.0,380.0 237.5,380.0 C237.0,380.0 236.4,376.9 236.0,374.6 C235.6,372.4 235.0,371.0 235.0,366.5 C235.0,362.0 235.6,352.9 236.0,347.6 C236.4,342.4 237.0,335.0 237.5,335.0Z" fill="#424242"/><path d="M249.0,330.0 C249.5,330.0 250.1,338.2 250.5,344.0 C250.9,349.8 251.5,360.0 251.5,365.0 C251.5,370.0 250.9,371.5 250.5,374.0 C250.1,376.5 249.5,380.0 249.0,380.0 C248.5,380.0 247.9,376.5 247.5,374.0 C247.1,371.5 246.5,370.0 246.5,365.0 C246.5,360.0 247.1,349.8 247.5,344.0 C247.9,338.2 248.5,330.0 249.0,330.0Z" fill="#424242"/><path d="M262.0,340.0 C262.4,340.0 262.8,346.5 263.1,351.2 C263.3,355.9 263.8,364.0 263.8,368.0 C263.8,372.0 263.3,373.2 263.1,375.2 C262.8,377.2 262.4,380.0 262.0,380.0 C261.6,380.0 261.2,377.2 260.9,375.2 C260.7,373.2 260.2,372.0 260.2,368.0 C260.2,364.0 260.7,355.9 260.9,351.2 C261.2,346.5 261.6,340.0 262.0,340.0Z" fill="#1e1e1e"/><path d="M296.0,340.0 C296.4,340.0 296.8,346.5 297.1,351.2 C297.3,355.9 297.8,364.0 297.8,368.0 C297.8,372.0 297.3,373.2 297.1,375.2 C296.8,377.2 296.4,380.0 296.0,380.0 C295.6,380.0 295.2,377.2 294.9,375.2 C294.7,373.2 294.2,372.0 294.2,368.0 C294.2,364.0 294.7,355.9 294.9,351.2 C295.2,346.5 295.6,340.0 296.0,340.0Z" fill="#1e1e1e"/><path d="M315.0,340.0 C315.4,340.0 315.9,346.5 316.2,351.2 C316.5,355.9 317.0,364.0 317.0,368.0 C317.0,372.0 316.5,373.2 316.2,375.2 C315.9,377.2 315.4,380.0 315.0,380.0 C314.6,380.0 314.1,377.2 313.8,375.2 C313.5,373.2 313.0,372.0 313.0,368.0 C313.0,364.0 313.5,355.9 313.8,351.2 C314.1,346.5 314.6,340.0 315.0,340.0Z" fill="#1e1e1e"/><path d="M327.0,335.0 C327.4,335.0 327.9,342.4 328.2,347.6 C328.5,352.9 329.0,362.0 329.0,366.5 C329.0,371.0 328.5,372.4 328.2,374.6 C327.9,376.9 327.4,380.0 327.0,380.0 C326.6,380.0 326.1,376.9 325.8,374.6 C325.5,372.4 325.0,371.0 325.0,366.5 C325.0,362.0 325.5,352.9 325.8,347.6 C326.1,342.4 326.6,335.0 327.0,335.0Z" fill="#272727"/><path d="M88.0,345.0 C88.3,345.0 88.7,350.7 88.9,354.8 C89.2,358.9 89.5,366.0 89.5,369.5 C89.5,373.0 89.2,374.1 88.9,375.8 C88.7,377.6 88.3,380.0 88.0,380.0 C87.7,380.0 87.3,377.6 87.1,375.8 C86.8,374.1 86.5,373.0 86.5,369.5 C86.5,366.0 86.8,358.9 87.1,354.8 C87.3,350.7 87.7,345.0 88.0,345.0Z" fill="#1e1e1e"/><path d="M120.0,340.0 C120.3,340.0 120.7,346.5 120.9,351.2 C121.2,355.9 121.5,364.0 121.5,368.0 C121.5,372.0 121.2,373.2 120.9,375.2 C120.7,377.2 120.3,380.0 120.0,380.0 C119.7,380.0 119.3,377.2 119.1,375.2 C118.8,373.2 118.5,372.0 118.5,368.0 C118.5,364.0 118.8,355.9 119.1,351.2 C119.3,346.5 119.7,340.0 120.0,340.0Z" fill="#1e1e1e"/><path d="M180.0,340.0 C180.3,340.0 180.7,346.5 180.9,351.2 C181.2,355.9 181.5,364.0 181.5,368.0 C181.5,372.0 181.2,373.2 180.9,375.2 C180.7,377.2 180.3,380.0 180.0,380.0 C179.7,380.0 179.3,377.2 179.1,375.2 C178.8,373.2 178.5,372.0 178.5,368.0 C178.5,364.0 178.8,355.9 179.1,351.2 C179.3,346.5 179.7,340.0 180.0,340.0Z" fill="#1e1e1e"/><path d="M194.0,345.0 C194.3,345.0 194.7,350.7 194.9,354.8 C195.2,358.9 195.5,366.0 195.5,369.5 C195.5,373.0 195.2,374.1 194.9,375.8 C194.7,377.6 194.3,380.0 194.0,380.0 C193.7,380.0 193.3,377.6 193.1,375.8 C192.8,374.1 192.5,373.0 192.5,369.5 C192.5,366.0 192.8,358.9 193.1,354.8 C193.3,350.7 193.7,345.0 194.0,345.0Z" fill="#1e1e1e"/><path d="M206.0,340.0 C206.3,340.0 206.7,346.5 206.9,351.2 C207.2,355.9 207.5,364.0 207.5,368.0 C207.5,372.0 207.2,373.2 206.9,375.2 C206.7,377.2 206.3,380.0 206.0,380.0 C205.7,380.0 205.3,377.2 205.1,375.2 C204.8,373.2 204.5,372.0 204.5,368.0 C204.5,364.0 204.8,355.9 205.1,351.2 C205.3,346.5 205.7,340.0 206.0,340.0Z" fill="#1e1e1e"/></g><g filter="url(#b1p5_3p3)" style="mix-blend-mode:lighten"><polygon points="71.3,276.4 80.1,275.2 87.6,279.7 95.1,278.2 101.4,275.7 105.2,281.4 108.2,291.5 107.2,300.3 103.9,309.0 99.5,306.5 95.1,305.3 87.6,305.3 84.0,308.5 80.1,312.3 72.6,307.8 70.1,295.2 70.1,285.2" fill="#424242"/><polygon points="164.6,292.5 165.2,287.8 169.1,283.2 175.7,284.6 182.3,281.9 188.8,284.6 195.4,281.3 200.0,279.3 203.5,278.9 211.0,278.2 216.1,282.7 219.8,291.5 218.6,297.8 213.6,301.5 206.0,302.8 199.8,306.5 196.7,303.6 191.5,303.0 186.2,306.2 179.6,302.3 174.4,296.4 170.4,295.7 167.8,301.6 165.2,298.4" fill="#424242"/><polygon points="246.2,277.7 249.2,282.7 249.9,295.2 247.4,299.0 244.2,290.2 244.9,281.4" fill="#424242"/><polygon points="270.0,285.7 273.8,282.2 281.3,282.7 288.8,278.2 292.6,284.0 293.3,292.7 291.3,302.8 287.5,301.5 283.8,300.3 281.3,309.0 276.3,307.8 272.5,301.5 270.0,295.2" fill="#424242"/><polygon points="307.6,287.7 308.9,282.7 313.9,280.2 321.4,280.2 326.4,277.2 332.7,281.4 336.0,278.0 339.0,274.7 342.7,276.4 346.0,277.0 346.0,315.0 342.7,315.3 339.0,319.1 335.2,315.3 331.4,316.6 326.4,311.5 318.9,307.8 311.4,305.3 308.4,295.2" fill="#454545"/></g><g filter="url(#b2_5p5)" style="mix-blend-mode:lighten"><polygon points="68.8,285.2 77.6,287.7 85.1,287.7 92.6,285.7 100.2,284.5 107.7,288.2 112.7,286.2 120.5,286.8 120.5,300.8 112.7,300.2 107.7,302.2 100.2,298.5 92.6,299.7 85.1,301.7 77.6,301.7 68.8,299.2" fill="#2d2d2d"/><polygon points="141.5,288.1 149.4,285.8 156.0,290.0 162.6,286.8 166.5,287.2 173.0,283.5 179.6,286.8 188.8,289.0 194.1,286.8 200.0,286.1 206.0,284.5 216.1,287.0 223.6,287.7 231.1,285.7 233.6,290.8 236.1,299.5 238.1,304.5 238.1,318.5 236.1,313.5 233.6,304.8 231.1,299.7 223.6,301.7 216.1,301.0 206.0,298.5 200.0,300.1 194.1,300.8 188.8,303.0 179.6,300.8 173.0,297.5 166.5,301.2 162.6,300.8 156.0,304.0 149.4,299.8 141.5,302.1" fill="#2d2d2d"/><polygon points="243.2,282.0 246.2,282.0 248.7,287.0 251.7,289.0 251.7,303.0 248.7,301.0 246.2,296.0 243.2,296.0" fill="#2d2d2d"/><polygon points="267.5,294.5 271.2,288.2 276.3,288.2 280.0,288.7 286.3,284.5 292.6,287.0 301.3,286.2 310.1,284.5 316.4,288.2 326.4,288.2 336.5,293.3 342.7,289.5 344.0,288.5 344.0,302.5 342.7,303.5 336.5,307.3 326.4,302.2 316.4,302.2 310.1,298.5 301.3,300.2 292.6,301.0 286.3,298.5 280.0,302.7 276.3,302.2 271.2,302.2 267.5,308.5" fill="#2d2d2d"/></g><g filter="url(#b3_4)" style="mix-blend-mode:lighten"><ellipse cx="88" cy="292" rx="9" ry="8" fill="#595959"/><ellipse cx="203" cy="292" rx="9" ry="7" fill="#5f5f5f"/><ellipse cx="183" cy="292" rx="8" ry="6" fill="#515151"/><ellipse cx="281" cy="292" rx="5" ry="6" fill="#515151"/><ellipse cx="326" cy="296" rx="9" ry="9" fill="#5f5f5f"/><ellipse cx="338" cy="296" rx="4" ry="10" fill="#656565"/></g></g><path d="M71.3,276.4 C73.0,274.7 77.4,274.6 80.1,275.2 C82.8,275.8 85.1,279.2 87.6,279.7 C90.1,280.2 92.8,278.9 95.1,278.2 C97.4,277.5 99.7,275.2 101.4,275.7 C103.1,276.2 104.1,278.8 105.2,281.4 C106.3,284.0 107.9,288.4 108.2,291.5 C108.5,294.6 107.9,297.4 107.2,300.3 C106.5,303.2 105.2,308.0 103.9,309.0 C102.6,310.0 101.0,307.1 99.5,306.5 C98.0,305.9 97.1,305.5 95.1,305.3 C93.1,305.1 89.4,304.8 87.6,305.3 C85.8,305.8 85.2,307.3 84.0,308.5 C82.8,309.7 82.0,312.4 80.1,312.3 C78.2,312.2 74.3,310.7 72.6,307.8 C70.9,304.9 70.5,299.0 70.1,295.2 C69.7,291.4 69.9,288.3 70.1,285.2 C70.3,282.1 69.6,278.1 71.3,276.4Z" fill="none" stroke="#fff" stroke-width="1.7" stroke-linejoin="round"/><path d="M164.6,292.5 C164.6,290.7 164.4,289.4 165.2,287.8 C165.9,286.2 167.3,283.7 169.1,283.2 C170.8,282.7 173.5,284.8 175.7,284.6 C177.9,284.4 180.1,281.9 182.3,281.9 C184.5,281.9 186.6,284.7 188.8,284.6 C191.0,284.5 193.5,282.2 195.4,281.3 C197.3,280.4 198.7,279.7 200.0,279.3 C201.3,278.9 201.7,279.1 203.5,278.9 C205.3,278.7 208.9,277.6 211.0,278.2 C213.1,278.8 214.6,280.5 216.1,282.7 C217.6,284.9 219.4,289.0 219.8,291.5 C220.2,294.0 219.6,296.1 218.6,297.8 C217.6,299.5 215.7,300.7 213.6,301.5 C211.5,302.3 208.3,302.0 206.0,302.8 C203.7,303.6 201.4,306.4 199.8,306.5 C198.2,306.6 198.1,304.2 196.7,303.6 C195.3,303.0 193.2,302.6 191.5,303.0 C189.8,303.4 188.2,306.3 186.2,306.2 C184.2,306.1 181.6,303.9 179.6,302.3 C177.6,300.7 175.9,297.5 174.4,296.4 C172.9,295.3 171.5,294.8 170.4,295.7 C169.3,296.6 168.7,301.2 167.8,301.6 C166.9,302.1 165.7,299.9 165.2,298.4 C164.7,296.9 164.6,294.3 164.6,292.5Z" fill="none" stroke="#fff" stroke-width="1.7" stroke-linejoin="round"/><path d="M246.2,277.7 C246.9,277.9 248.6,279.8 249.2,282.7 C249.8,285.6 250.2,292.5 249.9,295.2 C249.6,297.9 248.4,299.8 247.4,299.0 C246.4,298.2 244.6,293.1 244.2,290.2 C243.8,287.3 244.6,283.5 244.9,281.4 C245.2,279.3 245.5,277.5 246.2,277.7Z" fill="none" stroke="#fff" stroke-width="1.7" stroke-linejoin="round"/><path d="M270.0,285.7 C270.6,283.5 271.9,282.7 273.8,282.2 C275.7,281.7 278.8,283.4 281.3,282.7 C283.8,282.0 286.9,278.0 288.8,278.2 C290.7,278.4 291.9,281.6 292.6,284.0 C293.4,286.4 293.5,289.6 293.3,292.7 C293.1,295.8 292.3,301.3 291.3,302.8 C290.3,304.3 288.8,301.9 287.5,301.5 C286.2,301.1 284.8,299.1 283.8,300.3 C282.8,301.6 282.6,307.8 281.3,309.0 C280.1,310.2 277.8,309.1 276.3,307.8 C274.8,306.6 273.6,303.6 272.5,301.5 C271.4,299.4 270.4,297.8 270.0,295.2 C269.6,292.6 269.4,287.9 270.0,285.7Z" fill="none" stroke="#fff" stroke-width="1.7" stroke-linejoin="round"/><path d="M307.6,287.7 C307.7,285.6 307.8,283.9 308.9,282.7 C309.9,281.4 311.8,280.6 313.9,280.2 C316.0,279.8 319.3,280.7 321.4,280.2 C323.5,279.7 324.5,277.0 326.4,277.2 C328.3,277.4 331.1,281.3 332.7,281.4 C334.3,281.5 334.9,279.1 336.0,278.0 C337.1,276.9 337.9,275.0 339.0,274.7 C340.1,274.4 341.5,276.0 342.7,276.4 C343.9,276.8 345.4,270.6 346.0,277.0 C346.6,283.4 346.6,308.6 346.0,315.0 C345.4,321.4 343.9,314.6 342.7,315.3 C341.5,316.0 340.2,319.1 339.0,319.1 C337.8,319.1 336.5,315.7 335.2,315.3 C333.9,314.9 332.9,317.2 331.4,316.6 C329.9,316.0 328.5,313.0 326.4,311.5 C324.3,310.0 321.4,308.8 318.9,307.8 C316.4,306.8 313.1,307.4 311.4,305.3 C309.6,303.2 309.0,298.1 308.4,295.2 C307.8,292.3 307.5,289.8 307.6,287.7Z" fill="none" stroke="#fff" stroke-width="1.7" stroke-linejoin="round"/><path d="M237.3,346.5 C237.8,346.5 238.6,349.6 239.0,353.0 C239.4,356.4 240.1,364.7 239.5,367.0 C238.9,369.3 236.1,369.3 235.5,367.0 C234.9,364.7 235.7,356.4 236.0,353.0 C236.3,349.6 236.8,346.5 237.3,346.5Z" fill="none" stroke="#fff" stroke-width="1.2" stroke-linejoin="round"/><path d="M68.8,292.2 C70.3,292.6 74.9,294.3 77.6,294.7 C80.3,295.1 82.6,295.0 85.1,294.7 C87.6,294.4 90.1,293.2 92.6,292.7 C95.1,292.2 97.7,291.1 100.2,291.5 C102.7,291.9 105.6,294.9 107.7,295.2 C109.8,295.5 110.6,293.4 112.7,293.2 C114.8,293.0 119.2,293.7 120.5,293.8" fill="none" stroke="#000" stroke-width="2.0" stroke-linejoin="round" stroke-linecap="round"/><path d="M141.5,295.1 C142.8,294.7 147.0,292.5 149.4,292.8 C151.8,293.1 153.8,296.8 156.0,297.0 C158.2,297.2 160.8,294.3 162.6,293.8 C164.3,293.3 164.8,294.8 166.5,294.2 C168.2,293.6 170.8,290.6 173.0,290.5 C175.2,290.4 177.0,292.9 179.6,293.8 C182.2,294.7 186.4,296.0 188.8,296.0 C191.2,296.0 192.2,294.3 194.1,293.8 C196.0,293.3 198.0,293.5 200.0,293.1 C202.0,292.7 203.3,291.4 206.0,291.5 C208.7,291.6 213.2,293.5 216.1,294.0 C219.0,294.5 221.1,294.9 223.6,294.7 C226.1,294.5 229.4,292.2 231.1,292.7 C232.8,293.2 232.8,295.5 233.6,297.8 C234.4,300.1 235.3,304.2 236.1,306.5 C236.8,308.8 237.8,310.7 238.1,311.5" fill="none" stroke="#000" stroke-width="2.0" stroke-linejoin="round" stroke-linecap="round"/><path d="M243.2,289.0 C243.7,289.0 245.3,288.2 246.2,289.0 C247.1,289.8 247.8,292.8 248.7,294.0 C249.6,295.2 251.2,295.7 251.7,296.0" fill="none" stroke="#000" stroke-width="2.0" stroke-linejoin="round" stroke-linecap="round"/><path d="M267.5,301.5 C268.1,300.4 269.7,296.2 271.2,295.2 C272.7,294.1 274.8,295.1 276.3,295.2 C277.8,295.3 278.3,296.3 280.0,295.7 C281.7,295.1 284.2,291.8 286.3,291.5 C288.4,291.2 290.1,293.7 292.6,294.0 C295.1,294.3 298.4,293.6 301.3,293.2 C304.2,292.8 307.6,291.2 310.1,291.5 C312.6,291.8 313.7,294.6 316.4,295.2 C319.1,295.8 323.0,294.3 326.4,295.2 C329.8,296.1 333.8,300.1 336.5,300.3 C339.2,300.5 341.4,297.3 342.7,296.5 C343.9,295.7 343.8,295.7 344.0,295.5" fill="none" stroke="#000" stroke-width="2.0" stroke-linejoin="round" stroke-linecap="round"/></g><g clip-path="url(#c8010)"><g filter="url(#cm)"><rect x="360.5" y="204.1" width="329.3" height="180.7" fill="#010101"/><g filter="url(#b2p2_3p5)" style="mix-blend-mode:lighten"><ellipse cx="385.2" cy="278.8" rx="3.3" ry="9.7" fill="#070707"/><ellipse cx="392.1" cy="278.6" rx="3.1" ry="10.0" fill="#050505"/><ellipse cx="398.0" cy="280.5" rx="3.3" ry="6.6" fill="#0c0c0c"/><ellipse cx="404.9" cy="278.4" rx="3.0" ry="10.3" fill="#0b0b0b"/><ellipse cx="412.2" cy="279.1" rx="2.5" ry="9.1" fill="#0c0c0c"/><ellipse cx="419.6" cy="279.3" rx="2.7" ry="8.7" fill="#080808"/><ellipse cx="425.5" cy="280.5" rx="2.9" ry="6.5" fill="#0c0c0c"/><ellipse cx="435.5" cy="280.1" rx="3.2" ry="7.3" fill="#090909"/><ellipse cx="446.2" cy="278.1" rx="2.5" ry="11.0" fill="#070707"/><ellipse cx="456.4" cy="279.0" rx="2.1" ry="9.3" fill="#0e0e0e"/><ellipse cx="464.7" cy="278.3" rx="2.9" ry="10.6" fill="#101010"/><ellipse cx="470.6" cy="280.7" rx="2.8" ry="6.2" fill="#090909"/><ellipse cx="476.4" cy="279.1" rx="2.2" ry="9.1" fill="#050505"/><ellipse cx="482.1" cy="278.6" rx="2.0" ry="10.1" fill="#070707"/><ellipse cx="487.4" cy="278.8" rx="2.9" ry="9.6" fill="#0c0c0c"/><ellipse cx="495.7" cy="278.8" rx="2.8" ry="9.6" fill="#080808"/><ellipse cx="505.9" cy="278.4" rx="3.0" ry="10.3" fill="#0f0f0f"/><ellipse cx="516.1" cy="279.4" rx="2.8" ry="8.6" fill="#0d0d0d"/><ellipse cx="524.6" cy="278.3" rx="2.0" ry="10.6" fill="#070707"/><ellipse cx="532.5" cy="280.5" rx="2.7" ry="6.5" fill="#0b0b0b"/><ellipse cx="541.1" cy="279.1" rx="3.2" ry="9.1" fill="#080808"/><ellipse cx="549.5" cy="279.0" rx="3.4" ry="9.2" fill="#0f0f0f"/><ellipse cx="554.3" cy="280.2" rx="3.0" ry="7.1" fill="#060606"/><ellipse cx="561.3" cy="280.6" rx="2.3" ry="6.4" fill="#070707"/><ellipse cx="567.5" cy="278.6" rx="2.4" ry="10.0" fill="#050505"/><ellipse cx="573.6" cy="279.4" rx="2.1" ry="8.5" fill="#070707"/><ellipse cx="581.8" cy="280.3" rx="2.4" ry="7.0" fill="#0a0a0a"/><ellipse cx="587.1" cy="279.3" rx="3.3" ry="8.8" fill="#090909"/><ellipse cx="595.4" cy="279.4" rx="3.4" ry="8.5" fill="#090909"/><ellipse cx="601.6" cy="278.7" rx="2.6" ry="9.9" fill="#0c0c0c"/><ellipse cx="608.1" cy="280.4" rx="3.3" ry="6.7" fill="#090909"/><ellipse cx="617.9" cy="279.5" rx="3.4" ry="8.3" fill="#050505"/><ellipse cx="626.3" cy="280.7" rx="2.6" ry="6.1" fill="#090909"/><ellipse cx="636.7" cy="280.3" rx="2.1" ry="6.9" fill="#060606"/><ellipse cx="646.7" cy="278.9" rx="2.5" ry="9.4" fill="#0d0d0d"/><ellipse cx="651.5" cy="280.5" rx="2.7" ry="6.6" fill="#0e0e0e"/><ellipse cx="659.5" cy="278.6" rx="2.6" ry="10.1" fill="#0e0e0e"/><ellipse cx="664.7" cy="279.9" rx="2.1" ry="7.6" fill="#080808"/><ellipse cx="672.3" cy="278.1" rx="2.6" ry="10.9" fill="#0c0c0c"/></g><g filter="url(#b1p1_5)" style="mix-blend-mode:lighten"><ellipse cx="379.5" cy="323.4" rx="1.1" ry="45.5" fill="#0b0b0b"/><ellipse cx="383.4" cy="328.0" rx="1.7" ry="42.7" fill="#121212"/><ellipse cx="387.7" cy="324.0" rx="1.2" ry="46.6" fill="#070707"/><ellipse cx="393.0" cy="328.1" rx="1.6" ry="42.4" fill="#121212"/><ellipse cx="396.7" cy="332.5" rx="1.5" ry="46.2" fill="#101010"/><ellipse cx="399.9" cy="326.2" rx="1.5" ry="44.0" fill="#0f0f0f"/><ellipse cx="404.0" cy="330.6" rx="1.1" ry="44.1" fill="#141414"/><ellipse cx="407.7" cy="332.5" rx="1.7" ry="45.8" fill="#0e0e0e"/><ellipse cx="411.9" cy="325.7" rx="1.3" ry="44.4" fill="#0e0e0e"/><ellipse cx="415.7" cy="326.1" rx="1.6" ry="49.5" fill="#050505"/><ellipse cx="419.3" cy="330.1" rx="1.4" ry="49.9" fill="#0c0c0c"/><ellipse cx="422.7" cy="327.6" rx="1.3" ry="43.9" fill="#080808"/><ellipse cx="426.6" cy="330.9" rx="1.6" ry="48.1" fill="#0a0a0a"/><ellipse cx="429.8" cy="330.4" rx="1.0" ry="45.1" fill="#080808"/><ellipse cx="433.3" cy="325.1" rx="1.2" ry="43.5" fill="#070707"/><ellipse cx="438.0" cy="332.3" rx="1.7" ry="47.3" fill="#141414"/><ellipse cx="441.0" cy="329.2" rx="1.2" ry="43.8" fill="#141414"/><ellipse cx="446.3" cy="325.0" rx="1.5" ry="45.4" fill="#121212"/><ellipse cx="450.4" cy="329.9" rx="1.1" ry="42.2" fill="#0b0b0b"/><ellipse cx="453.3" cy="329.0" rx="1.0" ry="43.5" fill="#070707"/><ellipse cx="457.0" cy="325.9" rx="1.1" ry="44.7" fill="#151515"/><ellipse cx="460.1" cy="327.1" rx="1.0" ry="42.8" fill="#070707"/><ellipse cx="463.1" cy="328.8" rx="1.4" ry="40.7" fill="#090909"/><ellipse cx="467.4" cy="330.9" rx="1.6" ry="42.9" fill="#0b0b0b"/><ellipse cx="471.0" cy="326.1" rx="1.3" ry="45.0" fill="#050505"/><ellipse cx="476.1" cy="323.8" rx="1.6" ry="47.3" fill="#0d0d0d"/><ellipse cx="479.7" cy="328.2" rx="1.2" ry="41.6" fill="#080808"/><ellipse cx="482.8" cy="330.5" rx="1.7" ry="42.5" fill="#0e0e0e"/><ellipse cx="488.0" cy="329.5" rx="1.5" ry="44.5" fill="#111111"/><ellipse cx="491.1" cy="333.0" rx="1.2" ry="46.1" fill="#131313"/><ellipse cx="494.9" cy="330.8" rx="1.5" ry="47.0" fill="#121212"/><ellipse cx="499.2" cy="329.2" rx="1.5" ry="49.9" fill="#101010"/><ellipse cx="504.5" cy="331.9" rx="1.1" ry="44.2" fill="#141414"/><ellipse cx="507.6" cy="331.9" rx="1.7" ry="44.2" fill="#070707"/><ellipse cx="510.7" cy="330.0" rx="1.1" ry="47.1" fill="#0f0f0f"/><ellipse cx="516.0" cy="327.7" rx="1.2" ry="40.5" fill="#050505"/><ellipse cx="521.1" cy="332.1" rx="1.1" ry="46.6" fill="#121212"/><ellipse cx="525.4" cy="328.1" rx="1.7" ry="44.0" fill="#080808"/><ellipse cx="530.6" cy="325.4" rx="1.6" ry="43.0" fill="#0c0c0c"/><ellipse cx="533.7" cy="330.9" rx="1.4" ry="44.5" fill="#0c0c0c"/><ellipse cx="536.9" cy="325.3" rx="1.3" ry="42.9" fill="#111111"/><ellipse cx="542.0" cy="327.6" rx="1.6" ry="45.0" fill="#060606"/><ellipse cx="546.9" cy="330.8" rx="1.2" ry="48.9" fill="#080808"/><ellipse cx="550.1" cy="330.5" rx="1.1" ry="43.8" fill="#0f0f0f"/><ellipse cx="554.1" cy="327.8" rx="1.6" ry="50.9" fill="#111111"/><ellipse cx="557.6" cy="329.4" rx="1.2" ry="48.3" fill="#121212"/><ellipse cx="560.9" cy="326.0" rx="1.7" ry="48.1" fill="#070707"/><ellipse cx="564.7" cy="326.4" rx="1.4" ry="41.8" fill="#131313"/><ellipse cx="568.5" cy="329.3" rx="1.4" ry="44.6" fill="#0c0c0c"/><ellipse cx="571.6" cy="328.8" rx="1.2" ry="48.5" fill="#121212"/><ellipse cx="577.0" cy="327.6" rx="1.5" ry="44.2" fill="#101010"/><ellipse cx="582.2" cy="329.1" rx="1.4" ry="49.4" fill="#131313"/><ellipse cx="587.2" cy="327.6" rx="1.5" ry="49.8" fill="#0c0c0c"/><ellipse cx="591.0" cy="323.5" rx="1.5" ry="46.4" fill="#070707"/><ellipse cx="596.0" cy="327.8" rx="1.1" ry="47.2" fill="#131313"/><ellipse cx="599.8" cy="330.1" rx="1.5" ry="49.2" fill="#060606"/><ellipse cx="603.2" cy="324.0" rx="1.5" ry="44.3" fill="#0a0a0a"/><ellipse cx="606.2" cy="331.8" rx="1.7" ry="46.0" fill="#121212"/><ellipse cx="611.5" cy="328.5" rx="1.1" ry="46.5" fill="#0e0e0e"/><ellipse cx="616.9" cy="326.7" rx="1.6" ry="49.2" fill="#141414"/><ellipse cx="621.5" cy="328.9" rx="1.6" ry="42.8" fill="#0f0f0f"/><ellipse cx="626.8" cy="331.7" rx="1.3" ry="44.8" fill="#0e0e0e"/><ellipse cx="630.5" cy="331.8" rx="1.2" ry="48.2" fill="#0a0a0a"/><ellipse cx="635.7" cy="328.7" rx="1.3" ry="42.8" fill="#0b0b0b"/><ellipse cx="639.7" cy="329.5" rx="1.0" ry="46.9" fill="#070707"/><ellipse cx="644.2" cy="326.8" rx="1.3" ry="43.2" fill="#141414"/><ellipse cx="647.3" cy="331.2" rx="1.7" ry="44.1" fill="#151515"/><ellipse cx="651.0" cy="329.0" rx="1.1" ry="50.2" fill="#090909"/><ellipse cx="656.2" cy="325.3" rx="1.6" ry="46.4" fill="#070707"/><ellipse cx="661.5" cy="329.5" rx="1.1" ry="45.2" fill="#111111"/><ellipse cx="666.9" cy="323.6" rx="1.2" ry="45.6" fill="#0d0d0d"/><ellipse cx="669.9" cy="328.4" rx="1.2" ry="51.6" fill="#060606"/><ellipse cx="383.0" cy="262.7" rx="1.5" ry="14.8" fill="#050505"/><ellipse cx="389.1" cy="261.6" rx="1.5" ry="13.2" fill="#040404"/><ellipse cx="394.2" cy="261.1" rx="1.4" ry="10.8" fill="#010101"/><ellipse cx="397.9" cy="257.0" rx="1.1" ry="13.8" fill="#070707"/><ellipse cx="403.5" cy="258.0" rx="1.6" ry="13.2" fill="#020202"/><ellipse cx="407.1" cy="259.8" rx="1.7" ry="8.2" fill="#000000"/><ellipse cx="411.0" cy="257.8" rx="1.6" ry="14.9" fill="#060606"/><ellipse cx="416.0" cy="264.0" rx="1.5" ry="14.0" fill="#010101"/><ellipse cx="421.6" cy="260.5" rx="1.7" ry="15.8" fill="#070707"/><ellipse cx="427.6" cy="262.3" rx="1.4" ry="14.8" fill="#010101"/><ellipse cx="432.0" cy="256.9" rx="1.5" ry="9.6" fill="#070707"/><ellipse cx="437.4" cy="258.9" rx="1.2" ry="10.9" fill="#060606"/><ellipse cx="443.6" cy="263.5" rx="1.5" ry="13.3" fill="#030303"/><ellipse cx="449.8" cy="260.9" rx="1.7" ry="12.4" fill="#050505"/><ellipse cx="454.9" cy="257.9" rx="1.7" ry="16.8" fill="#030303"/><ellipse cx="459.9" cy="255.8" rx="1.4" ry="12.7" fill="#040404"/><ellipse cx="463.6" cy="258.0" rx="1.6" ry="9.5" fill="#070707"/><ellipse cx="470.0" cy="258.2" rx="1.6" ry="18.1" fill="#040404"/><ellipse cx="475.4" cy="257.7" rx="1.5" ry="8.8" fill="#000000"/><ellipse cx="480.3" cy="262.9" rx="1.1" ry="12.1" fill="#030303"/><ellipse cx="486.3" cy="256.9" rx="1.2" ry="9.6" fill="#030303"/><ellipse cx="491.0" cy="260.1" rx="1.7" ry="9.6" fill="#060606"/><ellipse cx="496.6" cy="256.8" rx="1.6" ry="11.4" fill="#050505"/><ellipse cx="500.1" cy="259.3" rx="1.7" ry="15.9" fill="#070707"/><ellipse cx="504.8" cy="258.7" rx="1.5" ry="14.8" fill="#060606"/><ellipse cx="509.1" cy="256.4" rx="1.4" ry="13.1" fill="#000000"/><ellipse cx="515.3" cy="259.5" rx="1.1" ry="18.4" fill="#060606"/><ellipse cx="519.3" cy="262.7" rx="1.1" ry="11.4" fill="#020202"/><ellipse cx="525.5" cy="257.9" rx="1.4" ry="13.7" fill="#010101"/><ellipse cx="532.0" cy="258.8" rx="1.1" ry="8.6" fill="#020202"/><ellipse cx="538.4" cy="262.5" rx="1.2" ry="14.5" fill="#040404"/><ellipse cx="542.1" cy="257.6" rx="1.6" ry="8.9" fill="#010101"/><ellipse cx="547.9" cy="255.3" rx="1.1" ry="14.7" fill="#020202"/><ellipse cx="552.4" cy="261.2" rx="1.7" ry="16.8" fill="#050505"/><ellipse cx="556.4" cy="262.9" rx="1.2" ry="11.4" fill="#070707"/><ellipse cx="562.9" cy="261.3" rx="1.0" ry="12.8" fill="#070707"/><ellipse cx="568.9" cy="256.8" rx="1.1" ry="15.0" fill="#010101"/><ellipse cx="574.0" cy="262.6" rx="1.4" ry="13.6" fill="#030303"/><ellipse cx="579.8" cy="255.8" rx="1.0" ry="13.1" fill="#010101"/><ellipse cx="585.0" cy="257.3" rx="1.1" ry="13.1" fill="#050505"/><ellipse cx="590.7" cy="261.1" rx="1.7" ry="16.8" fill="#010101"/><ellipse cx="594.8" cy="262.4" rx="1.0" ry="12.4" fill="#010101"/><ellipse cx="601.1" cy="259.3" rx="1.4" ry="15.5" fill="#000000"/><ellipse cx="605.8" cy="258.0" rx="1.1" ry="12.4" fill="#030303"/><ellipse cx="610.6" cy="262.2" rx="1.1" ry="12.7" fill="#000000"/><ellipse cx="615.4" cy="261.8" rx="1.1" ry="15.0" fill="#020202"/><ellipse cx="620.3" cy="257.9" rx="1.7" ry="15.6" fill="#040404"/><ellipse cx="625.6" cy="255.9" rx="1.4" ry="15.5" fill="#050505"/><ellipse cx="631.5" cy="255.9" rx="1.1" ry="13.6" fill="#000000"/><ellipse cx="636.3" cy="256.2" rx="1.2" ry="14.1" fill="#050505"/><ellipse cx="641.9" cy="260.3" rx="1.4" ry="8.9" fill="#070707"/><ellipse cx="646.4" cy="260.5" rx="1.4" ry="16.0" fill="#040404"/><ellipse cx="650.5" cy="262.0" rx="1.4" ry="11.3" fill="#010101"/><ellipse cx="656.9" cy="257.0" rx="1.1" ry="9.7" fill="#050505"/><ellipse cx="662.9" cy="263.5" rx="1.7" ry="12.1" fill="#010101"/><ellipse cx="668.2" cy="256.3" rx="1.4" ry="15.5" fill="#020202"/></g><g filter="url(#b3_7)" style="mix-blend-mode:lighten"><rect x="418" y="282" width="14" height="16" fill="#1b1b1b"/><rect x="438" y="282" width="10" height="14" fill="#121212"/><rect x="454" y="283" width="18" height="16" fill="#1e1e1e"/><rect x="536" y="285" width="26" height="16" fill="#181818"/><rect x="566" y="287" width="12" height="12" fill="#121212"/><rect x="586" y="283" width="14" height="16" fill="#181818"/><rect x="618" y="285" width="32" height="16" fill="#181818"/><rect x="650" y="283" width="22" height="20" fill="#2a2a2a"/><ellipse cx="626" cy="292" rx="5" ry="14" fill="#212121"/><ellipse cx="461" cy="290" rx="5" ry="12" fill="#181818"/><ellipse cx="425" cy="292" rx="4" ry="12" fill="#181818"/></g><g filter="url(#b1p8_4)" style="mix-blend-mode:lighten"><path d="M425.0,290.0 C425.6,290.0 426.3,292.8 426.8,294.8 C427.3,296.8 428.0,298.0 428.0,302.0 C428.0,306.0 427.3,314.1 426.8,318.8 C426.3,323.5 425.6,330.0 425.0,330.0 C424.4,330.0 423.7,323.5 423.2,318.8 C422.7,314.1 422.0,306.0 422.0,302.0 C422.0,298.0 422.7,296.8 423.2,294.8 C423.7,292.8 424.4,290.0 425.0,290.0Z" fill="#1e1e1e"/><path d="M461.0,285.0 C461.7,285.0 462.5,288.5 463.1,291.0 C463.7,293.5 464.5,295.0 464.5,300.0 C464.5,305.0 463.7,315.2 463.1,321.0 C462.5,326.8 461.7,335.0 461.0,335.0 C460.3,335.0 459.5,326.8 458.9,321.0 C458.3,315.2 457.5,305.0 457.5,300.0 C457.5,295.0 458.3,293.5 458.9,291.0 C459.5,288.5 460.3,285.0 461.0,285.0Z" fill="#1e1e1e"/><path d="M545.0,288.0 C545.6,288.0 546.3,290.9 546.8,293.0 C547.3,295.1 548.0,296.4 548.0,300.6 C548.0,304.8 547.3,313.3 546.8,318.2 C546.3,323.1 545.6,330.0 545.0,330.0 C544.4,330.0 543.7,323.1 543.2,318.2 C542.7,313.3 542.0,304.8 542.0,300.6 C542.0,296.4 542.7,295.1 543.2,293.0 C543.7,290.9 544.4,288.0 545.0,288.0Z" fill="#1b1b1b"/><path d="M593.0,285.0 C593.6,285.0 594.3,288.1 594.8,290.4 C595.3,292.6 596.0,294.0 596.0,298.5 C596.0,303.0 595.3,312.1 594.8,317.4 C594.3,322.6 593.6,330.0 593.0,330.0 C592.4,330.0 591.7,322.6 591.2,317.4 C590.7,312.1 590.0,303.0 590.0,298.5 C590.0,294.0 590.7,292.6 591.2,290.4 C591.7,288.1 592.4,285.0 593.0,285.0Z" fill="#1b1b1b"/><path d="M626.0,288.0 C626.5,288.0 627.1,291.6 627.5,294.2 C627.9,296.8 628.5,298.4 628.5,303.6 C628.5,308.8 627.9,319.4 627.5,325.4 C627.1,331.5 626.5,340.0 626.0,340.0 C625.5,340.0 624.9,331.5 624.5,325.4 C624.1,319.4 623.5,308.8 623.5,303.6 C623.5,298.4 624.1,296.8 624.5,294.2 C624.9,291.6 625.5,288.0 626.0,288.0Z" fill="#1e1e1e"/><path d="M660.0,290.0 C660.8,290.0 661.7,293.5 662.4,296.0 C663.1,298.5 664.0,300.0 664.0,305.0 C664.0,310.0 663.1,320.2 662.4,326.0 C661.7,331.8 660.8,340.0 660.0,340.0 C659.2,340.0 658.3,331.8 657.6,326.0 C656.9,320.2 656.0,310.0 656.0,305.0 C656.0,300.0 656.9,298.5 657.6,296.0 C658.3,293.5 659.2,290.0 660.0,290.0Z" fill="#242424"/><path d="M470.0,335.0 C470.4,335.0 470.9,342.4 471.2,347.6 C471.5,352.9 472.0,362.0 472.0,366.5 C472.0,371.0 471.5,372.4 471.2,374.6 C470.9,376.9 470.4,380.0 470.0,380.0 C469.6,380.0 469.1,376.9 468.8,374.6 C468.5,372.4 468.0,371.0 468.0,366.5 C468.0,362.0 468.5,352.9 468.8,347.6 C469.1,342.4 469.6,335.0 470.0,335.0Z" fill="#1e1e1e"/><path d="M575.0,335.0 C575.4,335.0 575.9,342.4 576.2,347.6 C576.5,352.9 577.0,362.0 577.0,366.5 C577.0,371.0 576.5,372.4 576.2,374.6 C575.9,376.9 575.4,380.0 575.0,380.0 C574.6,380.0 574.1,376.9 573.8,374.6 C573.5,372.4 573.0,371.0 573.0,366.5 C573.0,362.0 573.5,352.9 573.8,347.6 C574.1,342.4 574.6,335.0 575.0,335.0Z" fill="#1e1e1e"/><path d="M591.0,335.0 C591.4,335.0 591.9,342.4 592.2,347.6 C592.5,352.9 593.0,362.0 593.0,366.5 C593.0,371.0 592.5,372.4 592.2,374.6 C591.9,376.9 591.4,380.0 591.0,380.0 C590.6,380.0 590.1,376.9 589.8,374.6 C589.5,372.4 589.0,371.0 589.0,366.5 C589.0,362.0 589.5,352.9 589.8,347.6 C590.1,342.4 590.6,335.0 591.0,335.0Z" fill="#1e1e1e"/><path d="M640.0,335.0 C640.4,335.0 640.9,342.4 641.2,347.6 C641.5,352.9 642.0,362.0 642.0,366.5 C642.0,371.0 641.5,372.4 641.2,374.6 C640.9,376.9 640.4,380.0 640.0,380.0 C639.6,380.0 639.1,376.9 638.8,374.6 C638.5,372.4 638.0,371.0 638.0,366.5 C638.0,362.0 638.5,352.9 638.8,347.6 C639.1,342.4 639.6,335.0 640.0,335.0Z" fill="#1e1e1e"/><path d="M455.0,340.0 C455.3,340.0 455.6,346.5 455.9,351.2 C456.1,355.9 456.5,364.0 456.5,368.0 C456.5,372.0 456.1,373.2 455.9,375.2 C455.6,377.2 455.3,380.0 455.0,380.0 C454.7,380.0 454.4,377.2 454.1,375.2 C453.9,373.2 453.5,372.0 453.5,368.0 C453.5,364.0 453.9,355.9 454.1,351.2 C454.4,346.5 454.7,340.0 455.0,340.0Z" fill="#181818"/><path d="M520.0,340.0 C520.3,340.0 520.6,346.5 520.9,351.2 C521.1,355.9 521.5,364.0 521.5,368.0 C521.5,372.0 521.1,373.2 520.9,375.2 C520.6,377.2 520.3,380.0 520.0,380.0 C519.7,380.0 519.4,377.2 519.1,375.2 C518.9,373.2 518.5,372.0 518.5,368.0 C518.5,364.0 518.9,355.9 519.1,351.2 C519.4,346.5 519.7,340.0 520.0,340.0Z" fill="#181818"/><path d="M610.0,340.0 C610.3,340.0 610.6,346.5 610.9,351.2 C611.1,355.9 611.5,364.0 611.5,368.0 C611.5,372.0 611.1,373.2 610.9,375.2 C610.6,377.2 610.3,380.0 610.0,380.0 C609.7,380.0 609.4,377.2 609.1,375.2 C608.9,373.2 608.5,372.0 608.5,368.0 C608.5,364.0 608.9,355.9 609.1,351.2 C609.4,346.5 609.7,340.0 610.0,340.0Z" fill="#181818"/></g><g filter="url(#b1p5_3p3)" style="mix-blend-mode:lighten"><polygon points="653.6,284.0 655.8,282.3 659.3,283.6 663.7,283.1 667.2,282.3 669.4,284.5 671.5,286.0 671.5,296.0 669.4,296.3 666.3,301.5 661.9,305.5 658.4,303.3 654.9,302.0 652.3,298.0 651.4,292.8 651.9,287.5" fill="#3c3c3c"/></g><g filter="url(#b2_5p5)" style="mix-blend-mode:lighten"></g><g filter="url(#b3_4)" style="mix-blend-mode:lighten"></g></g><path d="M653.6,284.0 C654.2,283.1 654.8,282.4 655.8,282.3 C656.8,282.2 658.0,283.5 659.3,283.6 C660.6,283.7 662.4,283.3 663.7,283.1 C665.0,282.9 666.2,282.1 667.2,282.3 C668.2,282.5 668.7,283.9 669.4,284.5 C670.1,285.1 671.1,284.1 671.5,286.0 C671.9,287.9 671.9,294.3 671.5,296.0 C671.1,297.7 670.3,295.4 669.4,296.3 C668.5,297.2 667.5,300.0 666.3,301.5 C665.0,303.0 663.2,305.2 661.9,305.5 C660.6,305.8 659.6,303.9 658.4,303.3 C657.2,302.7 655.9,302.9 654.9,302.0 C653.9,301.1 652.9,299.5 652.3,298.0 C651.7,296.5 651.5,294.6 651.4,292.8 C651.3,291.1 651.5,289.0 651.9,287.5 C652.3,286.0 653.0,284.9 653.6,284.0Z" fill="none" stroke="#fff" stroke-width="1.7" stroke-linejoin="round"/><path d="M421.2,293.4 C421.5,293.8 422.2,295.1 423.1,295.6 C424.0,296.1 425.2,296.1 426.4,296.3 C427.6,296.5 429.7,296.8 430.4,296.9" fill="none" stroke="#000" stroke-width="2.0" stroke-linejoin="round" stroke-linecap="round"/><path d="M441.8,289.4 C442.1,289.2 442.9,288.4 443.5,288.1 C444.1,287.8 445.2,287.8 445.5,287.7" fill="none" stroke="#000" stroke-width="2.0" stroke-linejoin="round" stroke-linecap="round"/><path d="M455.7,298.2 C456.1,297.4 457.1,295.1 458.0,293.7 C458.9,292.3 460.2,290.4 461.2,289.7 C462.2,289.0 462.8,289.0 463.9,289.7 C465.0,290.4 466.6,292.9 467.8,293.7 C469.0,294.5 470.6,294.5 471.1,294.7" fill="none" stroke="#000" stroke-width="2.0" stroke-linejoin="round" stroke-linecap="round"/><path d="M489.5,296.3 L491.2,297.3" fill="none" stroke="#000" stroke-width="2.0" stroke-linejoin="round" stroke-linecap="round"/><path d="M537.6,294.8 C538.3,294.4 540.4,292.6 541.7,292.4 C543.0,292.2 544.1,292.8 545.2,293.4 C546.3,294.0 547.0,295.6 548.1,295.9 C549.2,296.2 550.6,294.9 551.6,295.1 C552.6,295.3 553.0,296.1 553.9,296.9 C554.8,297.7 556.0,299.9 556.9,299.8 C557.8,299.7 558.5,297.7 559.2,296.3 C559.9,294.9 560.9,292.4 561.3,291.6" fill="none" stroke="#000" stroke-width="2.0" stroke-linejoin="round" stroke-linecap="round"/><path d="M568.0,293.1 C568.5,293.3 569.9,294.0 570.9,294.5 C571.9,295.0 572.9,295.8 573.8,295.9 C574.7,295.9 576.0,295.0 576.5,294.8" fill="none" stroke="#000" stroke-width="2.0" stroke-linejoin="round" stroke-linecap="round"/><path d="M586.6,293.9 C587.1,293.7 588.5,293.3 589.6,292.8 C590.7,292.3 591.9,291.3 593.1,290.8 C594.3,290.3 595.5,289.9 596.6,289.9 C597.7,289.9 599.0,290.8 599.5,291.0" fill="none" stroke="#000" stroke-width="2.0" stroke-linejoin="round" stroke-linecap="round"/><path d="M619.4,296.3 C619.9,296.2 621.4,296.1 622.5,296.0 C623.6,295.9 624.7,296.2 626.0,295.8 C627.3,295.4 628.9,294.0 630.4,293.6 C631.9,293.2 633.5,293.2 634.8,293.2 C636.1,293.2 637.1,293.4 638.3,293.5 C639.5,293.6 640.5,294.2 641.8,294.1 C643.1,294.0 645.0,292.8 646.2,292.6 C647.4,292.5 647.8,292.7 648.8,293.2 C649.8,293.7 651.0,295.2 652.3,295.4 C653.6,295.5 655.1,294.1 656.7,294.1 C658.3,294.1 660.5,295.5 661.9,295.4 C663.3,295.2 664.1,293.9 665.4,293.2 C666.6,292.5 668.5,291.6 669.4,291.2 C670.2,290.8 670.3,290.9 670.5,290.8" fill="none" stroke="#000" stroke-width="2.0" stroke-linejoin="round" stroke-linecap="round"/></g><g clip-path="url(#c8240)"><g filter="url(#cm)"><rect x="34.0" y="393.4" width="266.7" height="180.7" fill="#010101"/><g filter="url(#b2p2_3p5)" style="mix-blend-mode:lighten"><ellipse cx="58.9" cy="467.9" rx="2.5" ry="10.0" fill="#0d0d0d"/><ellipse cx="66.6" cy="469.2" rx="3.2" ry="7.7" fill="#050505"/><ellipse cx="74.5" cy="469.7" rx="3.1" ry="6.7" fill="#0a0a0a"/><ellipse cx="82.4" cy="468.9" rx="2.3" ry="8.2" fill="#070707"/><ellipse cx="91.1" cy="467.6" rx="3.3" ry="10.6" fill="#050505"/><ellipse cx="103.6" cy="467.5" rx="2.9" ry="10.8" fill="#0c0c0c"/><ellipse cx="112.8" cy="467.5" rx="2.4" ry="10.6" fill="#0d0d0d"/><ellipse cx="122.7" cy="467.8" rx="2.2" ry="10.1" fill="#0b0b0b"/><ellipse cx="134.4" cy="467.4" rx="3.5" ry="10.9" fill="#0b0b0b"/><ellipse cx="142.7" cy="468.7" rx="2.8" ry="8.5" fill="#0b0b0b"/><ellipse cx="152.6" cy="468.7" rx="3.2" ry="8.6" fill="#090909"/><ellipse cx="164.9" cy="467.5" rx="3.2" ry="10.7" fill="#0a0a0a"/><ellipse cx="171.2" cy="469.3" rx="2.6" ry="7.5" fill="#060606"/><ellipse cx="177.5" cy="468.8" rx="2.2" ry="8.4" fill="#0b0b0b"/><ellipse cx="189.2" cy="468.5" rx="3.5" ry="8.9" fill="#030303"/><ellipse cx="195.9" cy="467.7" rx="2.1" ry="10.3" fill="#060606"/><ellipse cx="206.5" cy="468.5" rx="2.7" ry="8.9" fill="#0c0c0c"/><ellipse cx="216.7" cy="468.4" rx="2.1" ry="9.2" fill="#070707"/><ellipse cx="229.1" cy="469.4" rx="2.4" ry="7.2" fill="#0d0d0d"/><ellipse cx="237.5" cy="467.9" rx="2.1" ry="10.0" fill="#0d0d0d"/><ellipse cx="246.4" cy="467.7" rx="2.3" ry="10.3" fill="#070707"/><ellipse cx="253.6" cy="467.7" rx="2.1" ry="10.4" fill="#050505"/><ellipse cx="259.9" cy="468.2" rx="2.5" ry="9.5" fill="#0d0d0d"/><ellipse cx="266.8" cy="469.4" rx="2.9" ry="7.4" fill="#0c0c0c"/><ellipse cx="275.7" cy="467.8" rx="3.0" ry="10.2" fill="#090909"/><ellipse cx="284.5" cy="469.6" rx="2.0" ry="6.8" fill="#0a0a0a"/><ellipse cx="74" cy="458" rx="4" ry="10" fill="#1e1e1e"/><ellipse cx="120" cy="456" rx="4" ry="9" fill="#151515"/><ellipse cx="149" cy="462" rx="5" ry="10" fill="#1e1e1e"/><ellipse cx="184" cy="462" rx="4" ry="10" fill="#1b1b1b"/><ellipse cx="240" cy="468" rx="5" ry="10" fill="#151515"/><ellipse cx="273" cy="476" rx="3" ry="8" fill="#121212"/></g><g filter="url(#b1p1_5)" style="mix-blend-mode:lighten"><ellipse cx="54.5" cy="522.5" rx="1.6" ry="43.8" fill="#161616"/><ellipse cx="59.5" cy="522.0" rx="1.0" ry="43.2" fill="#0f0f0f"/><ellipse cx="64.5" cy="517.1" rx="1.1" ry="46.8" fill="#0f0f0f"/><ellipse cx="68.6" cy="519.6" rx="1.0" ry="48.8" fill="#090909"/><ellipse cx="73.3" cy="516.9" rx="1.1" ry="47.9" fill="#161616"/><ellipse cx="76.4" cy="514.9" rx="1.0" ry="45.0" fill="#181818"/><ellipse cx="81.5" cy="521.4" rx="1.7" ry="42.5" fill="#0b0b0b"/><ellipse cx="86.0" cy="522.3" rx="1.2" ry="46.7" fill="#1a1a1a"/><ellipse cx="90.9" cy="514.3" rx="1.2" ry="44.9" fill="#0d0d0d"/><ellipse cx="93.9" cy="516.5" rx="1.2" ry="49.0" fill="#121212"/><ellipse cx="97.5" cy="517.2" rx="1.2" ry="44.0" fill="#171717"/><ellipse cx="101.4" cy="518.4" rx="1.5" ry="39.3" fill="#060606"/><ellipse cx="106.0" cy="519.3" rx="1.6" ry="42.5" fill="#050505"/><ellipse cx="110.2" cy="519.2" rx="1.0" ry="49.6" fill="#060606"/><ellipse cx="113.5" cy="520.1" rx="1.6" ry="41.4" fill="#191919"/><ellipse cx="117.1" cy="517.5" rx="1.4" ry="48.8" fill="#161616"/><ellipse cx="121.9" cy="518.6" rx="1.6" ry="39.9" fill="#050505"/><ellipse cx="125.5" cy="520.0" rx="1.5" ry="48.5" fill="#191919"/><ellipse cx="129.6" cy="513.9" rx="1.2" ry="44.4" fill="#0c0c0c"/><ellipse cx="132.7" cy="513.7" rx="1.5" ry="44.3" fill="#1b1b1b"/><ellipse cx="137.9" cy="517.4" rx="1.4" ry="47.1" fill="#0e0e0e"/><ellipse cx="142.7" cy="518.2" rx="1.3" ry="50.2" fill="#0e0e0e"/><ellipse cx="145.6" cy="517.6" rx="1.4" ry="48.6" fill="#171717"/><ellipse cx="150.7" cy="515.6" rx="1.5" ry="47.0" fill="#161616"/><ellipse cx="153.8" cy="521.1" rx="1.6" ry="48.3" fill="#0b0b0b"/><ellipse cx="158.7" cy="519.7" rx="1.7" ry="46.4" fill="#0f0f0f"/><ellipse cx="162.6" cy="515.5" rx="1.2" ry="46.4" fill="#0e0e0e"/><ellipse cx="167.8" cy="517.4" rx="1.7" ry="44.0" fill="#121212"/><ellipse cx="170.8" cy="519.8" rx="1.2" ry="42.0" fill="#161616"/><ellipse cx="175.5" cy="520.9" rx="1.6" ry="45.6" fill="#141414"/><ellipse cx="179.2" cy="519.9" rx="1.5" ry="46.7" fill="#0b0b0b"/><ellipse cx="183.6" cy="519.8" rx="1.2" ry="44.6" fill="#1a1a1a"/><ellipse cx="186.4" cy="519.2" rx="1.4" ry="43.7" fill="#0a0a0a"/><ellipse cx="191.2" cy="518.4" rx="1.5" ry="46.8" fill="#161616"/><ellipse cx="195.8" cy="522.7" rx="1.6" ry="45.2" fill="#0c0c0c"/><ellipse cx="200.2" cy="518.7" rx="1.7" ry="45.1" fill="#1a1a1a"/><ellipse cx="203.4" cy="519.4" rx="1.6" ry="46.3" fill="#191919"/><ellipse cx="207.9" cy="520.6" rx="1.5" ry="43.8" fill="#080808"/><ellipse cx="212.3" cy="520.9" rx="1.3" ry="44.2" fill="#121212"/><ellipse cx="216.9" cy="518.9" rx="1.0" ry="46.3" fill="#080808"/><ellipse cx="220.2" cy="515.5" rx="1.5" ry="47.6" fill="#131313"/><ellipse cx="223.5" cy="515.4" rx="1.0" ry="44.2" fill="#070707"/><ellipse cx="226.8" cy="518.4" rx="1.0" ry="46.4" fill="#0f0f0f"/><ellipse cx="231.0" cy="514.8" rx="1.2" ry="47.4" fill="#191919"/><ellipse cx="234.5" cy="519.6" rx="1.3" ry="42.3" fill="#070707"/><ellipse cx="237.4" cy="517.7" rx="1.5" ry="43.8" fill="#070707"/><ellipse cx="241.6" cy="519.8" rx="1.7" ry="47.4" fill="#171717"/><ellipse cx="245.9" cy="519.4" rx="1.3" ry="44.8" fill="#080808"/><ellipse cx="251.0" cy="519.9" rx="1.7" ry="48.3" fill="#121212"/><ellipse cx="253.8" cy="516.9" rx="1.1" ry="42.2" fill="#111111"/><ellipse cx="258.1" cy="516.3" rx="1.7" ry="43.8" fill="#0d0d0d"/><ellipse cx="261.6" cy="523.6" rx="1.7" ry="44.7" fill="#0d0d0d"/><ellipse cx="265.9" cy="517.9" rx="1.2" ry="44.5" fill="#1a1a1a"/><ellipse cx="269.4" cy="517.0" rx="1.7" ry="46.1" fill="#0f0f0f"/><ellipse cx="272.5" cy="518.8" rx="1.5" ry="47.9" fill="#0e0e0e"/><ellipse cx="277.3" cy="519.7" rx="1.0" ry="49.0" fill="#101010"/><ellipse cx="282.0" cy="519.3" rx="1.2" ry="50.0" fill="#0a0a0a"/><ellipse cx="55.0" cy="451.5" rx="1.4" ry="14.8" fill="#050505"/><ellipse cx="58.9" cy="448.6" rx="1.6" ry="12.8" fill="#020202"/><ellipse cx="63.3" cy="450.0" rx="1.4" ry="16.3" fill="#030303"/><ellipse cx="68.6" cy="451.6" rx="1.0" ry="16.8" fill="#020202"/><ellipse cx="74.7" cy="450.6" rx="1.4" ry="11.9" fill="#000000"/><ellipse cx="79.9" cy="451.8" rx="1.5" ry="16.6" fill="#050505"/><ellipse cx="84.6" cy="446.4" rx="1.3" ry="14.6" fill="#060606"/><ellipse cx="90.6" cy="450.2" rx="1.0" ry="12.4" fill="#060606"/><ellipse cx="95.0" cy="447.1" rx="1.6" ry="16.0" fill="#070707"/><ellipse cx="100.1" cy="447.8" rx="1.4" ry="16.6" fill="#020202"/><ellipse cx="106.0" cy="453.1" rx="1.1" ry="13.8" fill="#020202"/><ellipse cx="111.5" cy="455.3" rx="1.0" ry="14.1" fill="#050505"/><ellipse cx="117.1" cy="448.6" rx="1.0" ry="16.6" fill="#060606"/><ellipse cx="123.5" cy="450.7" rx="1.5" ry="17.8" fill="#010101"/><ellipse cx="127.4" cy="448.1" rx="1.5" ry="16.8" fill="#030303"/><ellipse cx="131.1" cy="444.2" rx="1.1" ry="13.9" fill="#030303"/><ellipse cx="136.3" cy="446.8" rx="1.6" ry="15.8" fill="#070707"/><ellipse cx="140.7" cy="451.3" rx="1.5" ry="10.6" fill="#040404"/><ellipse cx="144.4" cy="450.2" rx="1.5" ry="13.2" fill="#010101"/><ellipse cx="150.6" cy="448.3" rx="1.4" ry="15.7" fill="#050505"/><ellipse cx="154.9" cy="445.6" rx="1.6" ry="14.6" fill="#040404"/><ellipse cx="159.5" cy="451.6" rx="1.6" ry="13.7" fill="#010101"/><ellipse cx="163.3" cy="447.7" rx="1.5" ry="16.8" fill="#010101"/><ellipse cx="167.5" cy="450.1" rx="1.7" ry="16.8" fill="#040404"/><ellipse cx="171.1" cy="450.0" rx="1.5" ry="18.8" fill="#000000"/><ellipse cx="176.6" cy="453.2" rx="1.2" ry="12.2" fill="#010101"/><ellipse cx="182.6" cy="446.9" rx="1.1" ry="13.3" fill="#050505"/><ellipse cx="187.1" cy="446.5" rx="1.5" ry="12.5" fill="#030303"/><ellipse cx="193.1" cy="451.1" rx="1.5" ry="16.5" fill="#060606"/><ellipse cx="198.1" cy="450.2" rx="1.4" ry="11.9" fill="#040404"/><ellipse cx="201.9" cy="449.0" rx="1.0" ry="19.1" fill="#020202"/><ellipse cx="206.9" cy="451.6" rx="1.6" ry="16.5" fill="#000000"/><ellipse cx="212.2" cy="444.9" rx="1.3" ry="14.3" fill="#030303"/><ellipse cx="216.2" cy="449.6" rx="1.3" ry="9.6" fill="#030303"/><ellipse cx="220.5" cy="446.5" rx="1.2" ry="13.7" fill="#010101"/><ellipse cx="225.4" cy="451.2" rx="1.0" ry="17.4" fill="#070707"/><ellipse cx="231.0" cy="449.8" rx="1.5" ry="9.0" fill="#040404"/><ellipse cx="236.5" cy="448.8" rx="1.2" ry="10.6" fill="#050505"/><ellipse cx="240.6" cy="446.3" rx="1.0" ry="15.9" fill="#020202"/><ellipse cx="247.0" cy="447.9" rx="1.3" ry="12.9" fill="#020202"/><ellipse cx="252.7" cy="448.9" rx="1.5" ry="16.6" fill="#010101"/><ellipse cx="259.0" cy="449.3" rx="1.5" ry="8.2" fill="#030303"/><ellipse cx="262.7" cy="447.0" rx="1.6" ry="17.0" fill="#030303"/><ellipse cx="269.2" cy="444.4" rx="1.4" ry="13.9" fill="#030303"/><ellipse cx="275.4" cy="445.2" rx="1.4" ry="15.1" fill="#070707"/><ellipse cx="279.0" cy="447.4" rx="1.3" ry="14.9" fill="#000000"/><ellipse cx="283.4" cy="450.3" rx="1.0" ry="9.2" fill="#000000"/></g><g filter="url(#b3_7)" style="mix-blend-mode:lighten"><rect x="68" y="470" width="13" height="20" fill="#242424"/><rect x="141" y="472" width="17" height="20" fill="#242424"/><rect x="178" y="472" width="13" height="18" fill="#1e1e1e"/><rect x="232" y="474" width="20" height="16" fill="#1b1b1b"/><rect x="115" y="464" width="10" height="12" fill="#0f0f0f"/><rect x="160" y="479" width="65" height="10" fill="#0f0f0f"/></g><g filter="url(#b1p8_4)" style="mix-blend-mode:lighten"><path d="M72.0,490.0 C72.5,490.0 73.1,494.6 73.5,497.8 C73.9,501.1 74.5,503.0 74.5,509.5 C74.5,516.0 73.9,529.2 73.5,536.8 C73.1,544.4 72.5,555.0 72.0,555.0 C71.5,555.0 70.9,544.4 70.5,536.8 C70.1,529.2 69.5,516.0 69.5,509.5 C69.5,503.0 70.1,501.1 70.5,497.8 C70.9,494.6 71.5,490.0 72.0,490.0Z" fill="#272727"/><path d="M147.0,490.0 C147.5,490.0 148.1,492.8 148.5,494.8 C148.9,496.8 149.5,498.0 149.5,502.0 C149.5,506.0 148.9,514.1 148.5,518.8 C148.1,523.5 147.5,530.0 147.0,530.0 C146.5,530.0 145.9,523.5 145.5,518.8 C145.1,514.1 144.5,506.0 144.5,502.0 C144.5,498.0 145.1,496.8 145.5,494.8 C145.9,492.8 146.5,490.0 147.0,490.0Z" fill="#272727"/><path d="M184.5,490.0 C184.9,490.0 185.4,492.4 185.7,494.2 C186.0,495.9 186.5,497.0 186.5,500.5 C186.5,504.0 186.0,511.1 185.7,515.2 C185.4,519.3 184.9,525.0 184.5,525.0 C184.1,525.0 183.6,519.3 183.3,515.2 C183.0,511.1 182.5,504.0 182.5,500.5 C182.5,497.0 183.0,495.9 183.3,494.2 C183.6,492.4 184.1,490.0 184.5,490.0Z" fill="#242424"/><path d="M273.0,490.0 C273.5,490.0 274.1,492.1 274.5,493.6 C274.9,495.1 275.5,496.0 275.5,499.0 C275.5,502.0 274.9,508.1 274.5,511.6 C274.1,515.1 273.5,520.0 273.0,520.0 C272.5,520.0 271.9,515.1 271.5,511.6 C271.1,508.1 270.5,502.0 270.5,499.0 C270.5,496.0 271.1,495.1 271.5,493.6 C271.9,492.1 272.5,490.0 273.0,490.0Z" fill="#2a2a2a"/><path d="M241.0,487.0 C241.6,487.0 242.3,489.3 242.8,491.0 C243.3,492.6 244.0,493.6 244.0,496.9 C244.0,500.2 243.3,506.9 242.8,510.8 C242.3,514.6 241.6,520.0 241.0,520.0 C240.4,520.0 239.7,514.6 239.2,510.8 C238.7,506.9 238.0,500.2 238.0,496.9 C238.0,493.6 238.7,492.6 239.2,491.0 C239.7,489.3 240.4,487.0 241.0,487.0Z" fill="#181818"/><path d="M72.0,525.0 C72.8,525.0 73.7,532.4 74.4,537.6 C75.1,542.9 76.0,552.0 76.0,556.5 C76.0,561.0 75.1,562.4 74.4,564.6 C73.7,566.9 72.8,570.0 72.0,570.0 C71.2,570.0 70.3,566.9 69.6,564.6 C68.9,562.4 68.0,561.0 68.0,556.5 C68.0,552.0 68.9,542.9 69.6,537.6 C70.3,532.4 71.2,525.0 72.0,525.0Z" fill="#363636"/><path d="M96.5,520.0 C97.7,520.0 99.1,528.2 100.1,534.0 C101.1,539.8 102.5,550.0 102.5,555.0 C102.5,560.0 101.1,561.5 100.1,564.0 C99.1,566.5 97.7,570.0 96.5,570.0 C95.3,570.0 93.9,566.5 92.9,564.0 C91.9,561.5 90.5,560.0 90.5,555.0 C90.5,550.0 91.9,539.8 92.9,534.0 C93.9,528.2 95.3,520.0 96.5,520.0Z" fill="#4e4e4e"/><path d="M113.0,518.0 C114.3,518.0 115.8,526.5 116.9,532.6 C118.0,538.6 119.5,549.2 119.5,554.4 C119.5,559.6 118.0,561.2 116.9,563.8 C115.8,566.4 114.3,570.0 113.0,570.0 C111.7,570.0 110.2,566.4 109.1,563.8 C108.0,561.2 106.5,559.6 106.5,554.4 C106.5,549.2 108.0,538.6 109.1,532.6 C110.2,526.5 111.7,518.0 113.0,518.0Z" fill="#545454"/><path d="M129.0,522.0 C129.7,522.0 130.5,529.8 131.1,535.4 C131.7,541.0 132.5,550.8 132.5,555.6 C132.5,560.4 131.7,561.8 131.1,564.2 C130.5,566.6 129.7,570.0 129.0,570.0 C128.3,570.0 127.5,566.6 126.9,564.2 C126.3,561.8 125.5,560.4 125.5,555.6 C125.5,550.8 126.3,541.0 126.9,535.4 C127.5,529.8 128.3,522.0 129.0,522.0Z" fill="#3c3c3c"/><path d="M145.5,530.0 C146.0,530.0 146.6,536.5 147.0,541.2 C147.4,545.9 148.0,554.0 148.0,558.0 C148.0,562.0 147.4,563.2 147.0,565.2 C146.6,567.2 146.0,570.0 145.5,570.0 C145.0,570.0 144.4,567.2 144.0,565.2 C143.6,563.2 143.0,562.0 143.0,558.0 C143.0,554.0 143.6,545.9 144.0,541.2 C144.4,536.5 145.0,530.0 145.5,530.0Z" fill="#242424"/><path d="M157.0,522.0 C157.9,522.0 158.9,529.8 159.7,535.4 C160.4,541.0 161.5,550.8 161.5,555.6 C161.5,560.4 160.4,561.8 159.7,564.2 C158.9,566.6 157.9,570.0 157.0,570.0 C156.1,570.0 155.1,566.6 154.3,564.2 C153.6,561.8 152.5,560.4 152.5,555.6 C152.5,550.8 153.6,541.0 154.3,535.4 C155.1,529.8 156.1,522.0 157.0,522.0Z" fill="#393939"/><path d="M166.0,530.0 C166.6,530.0 167.3,536.5 167.8,541.2 C168.3,545.9 169.0,554.0 169.0,558.0 C169.0,562.0 168.3,563.2 167.8,565.2 C167.3,567.2 166.6,570.0 166.0,570.0 C165.4,570.0 164.7,567.2 164.2,565.2 C163.7,563.2 163.0,562.0 163.0,558.0 C163.0,554.0 163.7,545.9 164.2,541.2 C164.7,536.5 165.4,530.0 166.0,530.0Z" fill="#242424"/><path d="M56.0,530.0 C56.5,530.0 57.1,536.5 57.5,541.2 C57.9,545.9 58.5,554.0 58.5,558.0 C58.5,562.0 57.9,563.2 57.5,565.2 C57.1,567.2 56.5,570.0 56.0,570.0 C55.5,570.0 54.9,567.2 54.5,565.2 C54.1,563.2 53.5,562.0 53.5,558.0 C53.5,554.0 54.1,545.9 54.5,541.2 C54.9,536.5 55.5,530.0 56.0,530.0Z" fill="#242424"/><path d="M170.0,528.0 C170.7,528.0 171.5,534.9 172.1,539.8 C172.7,544.7 173.5,553.2 173.5,557.4 C173.5,561.6 172.7,562.9 172.1,565.0 C171.5,567.1 170.7,570.0 170.0,570.0 C169.3,570.0 168.5,567.1 167.9,565.0 C167.3,562.9 166.5,561.6 166.5,557.4 C166.5,553.2 167.3,544.7 167.9,539.8 C168.5,534.9 169.3,528.0 170.0,528.0Z" fill="#303030"/><path d="M188.0,515.0 C188.9,515.0 189.9,524.0 190.7,530.4 C191.4,536.8 192.5,548.0 192.5,553.5 C192.5,559.0 191.4,560.6 190.7,563.4 C189.9,566.1 188.9,570.0 188.0,570.0 C187.1,570.0 186.1,566.1 185.3,563.4 C184.6,560.6 183.5,559.0 183.5,553.5 C183.5,548.0 184.6,536.8 185.3,530.4 C186.1,524.0 187.1,515.0 188.0,515.0Z" fill="#484848"/><path d="M214.0,522.0 C214.7,522.0 215.5,529.8 216.1,535.4 C216.7,541.0 217.5,550.8 217.5,555.6 C217.5,560.4 216.7,561.8 216.1,564.2 C215.5,566.6 214.7,570.0 214.0,570.0 C213.3,570.0 212.5,566.6 211.9,564.2 C211.3,561.8 210.5,560.4 210.5,555.6 C210.5,550.8 211.3,541.0 211.9,535.4 C212.5,529.8 213.3,522.0 214.0,522.0Z" fill="#363636"/><path d="M230.5,528.0 C231.0,528.0 231.6,534.9 232.0,539.8 C232.4,544.7 233.0,553.2 233.0,557.4 C233.0,561.6 232.4,562.9 232.0,565.0 C231.6,567.1 231.0,570.0 230.5,570.0 C230.0,570.0 229.4,567.1 229.0,565.0 C228.6,562.9 228.0,561.6 228.0,557.4 C228.0,553.2 228.6,544.7 229.0,539.8 C229.4,534.9 230.0,528.0 230.5,528.0Z" fill="#242424"/><path d="M250.0,510.0 C251.4,510.0 253.0,519.8 254.2,526.8 C255.4,533.8 257.0,546.0 257.0,552.0 C257.0,558.0 255.4,559.8 254.2,562.8 C253.0,565.8 251.4,570.0 250.0,570.0 C248.6,570.0 247.0,565.8 245.8,562.8 C244.6,559.8 243.0,558.0 243.0,552.0 C243.0,546.0 244.6,533.8 245.8,526.8 C247.0,519.8 248.6,510.0 250.0,510.0Z" fill="#595959"/><path d="M266.0,528.0 C266.5,528.0 267.1,534.9 267.5,539.8 C267.9,544.7 268.5,553.2 268.5,557.4 C268.5,561.6 267.9,562.9 267.5,565.0 C267.1,567.1 266.5,570.0 266.0,570.0 C265.5,570.0 264.9,567.1 264.5,565.0 C264.1,562.9 263.5,561.6 263.5,557.4 C263.5,553.2 264.1,544.7 264.5,539.8 C264.9,534.9 265.5,528.0 266.0,528.0Z" fill="#242424"/><path d="M273.0,522.0 C273.6,522.0 274.3,529.8 274.8,535.4 C275.3,541.0 276.0,550.8 276.0,555.6 C276.0,560.4 275.3,561.8 274.8,564.2 C274.3,566.6 273.6,570.0 273.0,570.0 C272.4,570.0 271.7,566.6 271.2,564.2 C270.7,561.8 270.0,560.4 270.0,555.6 C270.0,550.8 270.7,541.0 271.2,535.4 C271.7,529.8 272.4,522.0 273.0,522.0Z" fill="#363636"/><path d="M279.0,528.0 C279.6,528.0 280.3,534.9 280.8,539.8 C281.3,544.7 282.0,553.2 282.0,557.4 C282.0,561.6 281.3,562.9 280.8,565.0 C280.3,567.1 279.6,570.0 279.0,570.0 C278.4,570.0 277.7,567.1 277.2,565.0 C276.7,562.9 276.0,561.6 276.0,557.4 C276.0,553.2 276.7,544.7 277.2,539.8 C277.7,534.9 278.4,528.0 279.0,528.0Z" fill="#484848"/><path d="M84.0,532.0 C84.4,532.0 84.9,538.2 85.2,542.6 C85.5,547.1 86.0,554.8 86.0,558.6 C86.0,562.4 85.5,563.5 85.2,565.4 C84.9,567.3 84.4,570.0 84.0,570.0 C83.6,570.0 83.1,567.3 82.8,565.4 C82.5,563.5 82.0,562.4 82.0,558.6 C82.0,554.8 82.5,547.1 82.8,542.6 C83.1,538.2 83.6,532.0 84.0,532.0Z" fill="#1e1e1e"/><path d="M138.0,532.0 C138.4,532.0 138.9,538.2 139.2,542.6 C139.5,547.1 140.0,554.8 140.0,558.6 C140.0,562.4 139.5,563.5 139.2,565.4 C138.9,567.3 138.4,570.0 138.0,570.0 C137.6,570.0 137.1,567.3 136.8,565.4 C136.5,563.5 136.0,562.4 136.0,558.6 C136.0,554.8 136.5,547.1 136.8,542.6 C137.1,538.2 137.6,532.0 138.0,532.0Z" fill="#1e1e1e"/><path d="M200.0,532.0 C200.4,532.0 200.9,538.2 201.2,542.6 C201.5,547.1 202.0,554.8 202.0,558.6 C202.0,562.4 201.5,563.5 201.2,565.4 C200.9,567.3 200.4,570.0 200.0,570.0 C199.6,570.0 199.1,567.3 198.8,565.4 C198.5,563.5 198.0,562.4 198.0,558.6 C198.0,554.8 198.5,547.1 198.8,542.6 C199.1,538.2 199.6,532.0 200.0,532.0Z" fill="#1e1e1e"/><path d="M240.0,530.0 C240.4,530.0 240.9,536.5 241.2,541.2 C241.5,545.9 242.0,554.0 242.0,558.0 C242.0,562.0 241.5,563.2 241.2,565.2 C240.9,567.2 240.4,570.0 240.0,570.0 C239.6,570.0 239.1,567.2 238.8,565.2 C238.5,563.2 238.0,562.0 238.0,558.0 C238.0,554.0 238.5,545.9 238.8,541.2 C239.1,536.5 239.6,530.0 240.0,530.0Z" fill="#1e1e1e"/></g><g filter="url(#b1p5_3p3)" style="mix-blend-mode:lighten"><polygon points="73.9,464.6 76.8,467.5 78.6,472.5 79.2,481.9 78.0,490.0 74.5,494.7 71.0,491.2 69.6,480.7 70.4,470.2 72.2,465.5" fill="#3f3f3f"/><polygon points="146.1,469.6 153.4,470.3 156.3,475.4 155.5,484.2 151.9,491.5 146.8,494.7 143.1,488.6 141.4,479.8 142.4,472.5" fill="#3f3f3f"/><polygon points="184.0,470.3 187.7,474.0 189.1,481.3 187.7,488.6 184.7,492.2 181.8,488.6 179.6,481.3 180.4,474.0" fill="#3f3f3f"/></g><g filter="url(#b2_5p5)" style="mix-blend-mode:lighten"></g><g filter="url(#b3_4)" style="mix-blend-mode:lighten"></g></g><path d="M73.9,464.6 C74.7,464.9 76.0,466.2 76.8,467.5 C77.6,468.8 78.2,470.1 78.6,472.5 C79.0,474.9 79.3,479.0 79.2,481.9 C79.1,484.8 78.8,487.9 78.0,490.0 C77.2,492.1 75.7,494.5 74.5,494.7 C73.3,494.9 71.8,493.5 71.0,491.2 C70.2,488.9 69.7,484.2 69.6,480.7 C69.5,477.2 70.0,472.7 70.4,470.2 C70.8,467.7 71.6,466.4 72.2,465.5 C72.8,464.6 73.1,464.3 73.9,464.6Z" fill="none" stroke="#fff" stroke-width="1.7" stroke-linejoin="round"/><path d="M146.1,469.6 C147.9,469.2 151.7,469.3 153.4,470.3 C155.1,471.3 156.0,473.1 156.3,475.4 C156.7,477.7 156.2,481.5 155.5,484.2 C154.8,486.9 153.3,489.8 151.9,491.5 C150.5,493.2 148.3,495.2 146.8,494.7 C145.3,494.2 144.0,491.1 143.1,488.6 C142.2,486.1 141.5,482.5 141.4,479.8 C141.3,477.1 141.6,474.2 142.4,472.5 C143.2,470.8 144.3,470.0 146.1,469.6Z" fill="none" stroke="#fff" stroke-width="1.7" stroke-linejoin="round"/><path d="M184.0,470.3 C185.2,470.3 186.8,472.2 187.7,474.0 C188.5,475.8 189.1,478.9 189.1,481.3 C189.1,483.7 188.4,486.8 187.7,488.6 C187.0,490.4 185.7,492.2 184.7,492.2 C183.7,492.2 182.7,490.4 181.8,488.6 C181.0,486.8 179.8,483.7 179.6,481.3 C179.4,478.9 179.7,475.8 180.4,474.0 C181.1,472.2 182.8,470.3 184.0,470.3Z" fill="none" stroke="#fff" stroke-width="1.7" stroke-linejoin="round"/><path d="M113.0,546.5 C113.4,546.5 114.0,548.4 114.2,550.0 C114.4,551.6 114.6,555.0 114.2,556.0 C113.8,557.0 112.2,557.0 111.8,556.0 C111.4,555.0 111.6,551.6 111.8,550.0 C112.0,548.4 112.6,546.5 113.0,546.5Z" fill="none" stroke="#fff" stroke-width="1.1" stroke-linejoin="round"/><path d="M188.3,539.5 C189.0,539.5 190.0,542.2 190.5,545.0 C191.0,547.8 192.0,554.2 191.2,556.0 C190.4,557.8 186.6,557.8 185.8,556.0 C185.0,554.2 186.1,547.8 186.5,545.0 C186.9,542.2 187.6,539.5 188.3,539.5Z" fill="none" stroke="#fff" stroke-width="1.3" stroke-linejoin="round"/><path d="M251.7,536.2 C252.8,535.7 253.8,538.7 254.5,542.0 C255.2,545.3 257.6,553.7 256.0,556.0 C254.4,558.3 246.3,557.8 245.0,556.0 C243.7,554.2 246.9,548.3 248.0,545.0 C249.1,541.7 250.6,536.7 251.7,536.2Z" fill="none" stroke="#fff" stroke-width="1.3" stroke-linejoin="round"/><path d="M279.0,541.0 C279.8,540.7 281.1,542.5 281.5,545.0 C281.9,547.5 282.4,554.2 281.5,556.0 C280.6,557.8 277.1,557.5 276.3,556.0 C275.6,554.5 276.6,549.5 277.0,547.0 C277.4,544.5 278.2,541.3 279.0,541.0Z" fill="none" stroke="#fff" stroke-width="1.3" stroke-linejoin="round"/><path d="M55.8,501.1 C56.0,499.8 56.5,496.1 57.0,493.5 C57.5,490.9 58.0,487.4 58.8,485.4 C59.6,483.4 60.7,482.1 61.7,481.6 C62.7,481.1 63.6,482.2 64.6,482.4 C65.6,482.6 66.4,483.1 67.5,483.0 C68.6,482.9 69.8,482.5 71.0,482.1 C72.2,481.8 73.3,481.3 74.5,480.9 C75.7,480.5 76.9,480.8 78.0,479.8 C79.1,478.8 80.0,476.5 81.0,474.9 C82.0,473.3 83.4,471.1 83.9,470.4" fill="none" stroke="#000" stroke-width="2.0" stroke-linejoin="round" stroke-linecap="round"/><path d="M115.2,477.0 C115.5,476.1 116.4,473.1 117.2,471.4 C118.0,469.7 119.0,468.2 120.1,466.7 C121.2,465.2 123.2,463.3 123.8,462.6" fill="none" stroke="#000" stroke-width="2.0" stroke-linejoin="round" stroke-linecap="round"/><path d="M136.1,476.2 C137.0,476.9 139.8,479.2 141.7,480.5 C143.5,481.8 145.5,483.8 147.2,483.9 C148.9,484.0 150.3,482.2 151.9,481.3 C153.5,480.4 155.5,478.9 157.0,478.6 C158.5,478.4 159.5,478.8 160.7,479.8 C161.9,480.9 163.1,483.5 164.3,484.9 C165.5,486.3 166.7,488.4 168.0,488.3 C169.3,488.2 170.9,485.3 172.3,484.2 C173.8,483.1 175.0,482.1 176.7,481.6 C178.4,481.1 180.6,481.0 182.6,481.0 C184.6,481.0 186.9,481.7 188.4,481.6 C189.9,481.5 190.2,480.3 191.3,480.5 C192.4,480.7 193.7,481.9 195.0,482.7 C196.3,483.5 197.7,485.1 199.3,485.4 C200.9,485.7 202.7,484.7 204.5,484.5 C206.3,484.3 208.7,484.1 210.3,484.2 C211.9,484.3 212.7,485.1 213.9,484.9 C215.1,484.7 216.4,483.4 217.6,483.0 C218.8,482.6 220.6,482.4 221.2,482.3" fill="none" stroke="#000" stroke-width="2.0" stroke-linejoin="round" stroke-linecap="round"/><path d="M234.5,482.8 C234.8,482.4 235.7,481.0 236.4,480.3 C237.2,479.6 238.2,478.9 239.0,478.6 C239.8,478.4 240.5,478.5 241.2,478.8 C241.9,479.1 242.6,480.3 243.4,480.6 C244.2,480.9 245.1,480.4 246.0,480.6 C246.9,480.8 247.9,481.3 248.6,481.7 C249.3,482.1 250.1,482.9 250.4,483.2" fill="none" stroke="#000" stroke-width="2.0" stroke-linejoin="round" stroke-linecap="round"/><path d="M271.4,501.2 C271.8,500.8 273.1,499.5 273.6,498.5 C274.1,497.5 274.2,496.4 274.5,495.0 C274.8,493.6 275.0,491.5 275.4,489.8 C275.8,488.1 276.3,486.4 276.7,485.0 C277.1,483.6 277.8,482.1 278.0,481.5" fill="none" stroke="#000" stroke-width="2.0" stroke-linejoin="round" stroke-linecap="round"/></g><line x1="39.9" y1="28.0" x2="39.9" y2="182.4" stroke="#000" stroke-width="1.6"/><line x1="35.3" y1="34.80" x2="39.6" y2="34.80" stroke="#333" stroke-width="1.3"/><text x="31.8" y="39.60" font-family="Liberation Sans, sans-serif" font-size="12" fill="#222" text-anchor="end">48</text><line x1="35.3" y1="48.35" x2="39.6" y2="48.35" stroke="#333" stroke-width="1.3"/><text x="31.8" y="53.15" font-family="Liberation Sans, sans-serif" font-size="12" fill="#222" text-anchor="end">42</text><line x1="35.3" y1="64.00" x2="39.6" y2="64.00" stroke="#333" stroke-width="1.3"/><text x="31.8" y="68.80" font-family="Liberation Sans, sans-serif" font-size="12" fill="#222" text-anchor="end">36</text><line x1="35.3" y1="82.50" x2="39.6" y2="82.50" stroke="#333" stroke-width="1.3"/><text x="31.8" y="87.30" font-family="Liberation Sans, sans-serif" font-size="12" fill="#222" text-anchor="end">30</text><line x1="35.3" y1="105.15" x2="39.6" y2="105.15" stroke="#333" stroke-width="1.3"/><text x="31.8" y="109.95" font-family="Liberation Sans, sans-serif" font-size="12" fill="#222" text-anchor="end">24</text><line x1="35.3" y1="134.35" x2="39.6" y2="134.35" stroke="#333" stroke-width="1.3"/><text x="31.8" y="139.15" font-family="Liberation Sans, sans-serif" font-size="12" fill="#222" text-anchor="end">18</text><line x1="35.3" y1="175.50" x2="39.6" y2="175.50" stroke="#333" stroke-width="1.3"/><text x="31.8" y="180.30" font-family="Liberation Sans, sans-serif" font-size="12" fill="#222" text-anchor="end">12</text><line x1="39.9" y1="217.3" x2="39.9" y2="371.5" stroke="#000" stroke-width="1.6"/><line x1="35.3" y1="224.10" x2="39.6" y2="224.10" stroke="#333" stroke-width="1.3"/><text x="31.8" y="228.90" font-family="Liberation Sans, sans-serif" font-size="12" fill="#222" text-anchor="end">48</text><line x1="35.3" y1="237.65" x2="39.6" y2="237.65" stroke="#333" stroke-width="1.3"/><text x="31.8" y="242.45" font-family="Liberation Sans, sans-serif" font-size="12" fill="#222" text-anchor="end">42</text><line x1="35.3" y1="253.30" x2="39.6" y2="253.30" stroke="#333" stroke-width="1.3"/><text x="31.8" y="258.10" font-family="Liberation Sans, sans-serif" font-size="12" fill="#222" text-anchor="end">36</text><line x1="35.3" y1="271.80" x2="39.6" y2="271.80" stroke="#333" stroke-width="1.3"/><text x="31.8" y="276.60" font-family="Liberation Sans, sans-serif" font-size="12" fill="#222" text-anchor="end">30</text><line x1="35.3" y1="294.45" x2="39.6" y2="294.45" stroke="#333" stroke-width="1.3"/><text x="31.8" y="299.25" font-family="Liberation Sans, sans-serif" font-size="12" fill="#222" text-anchor="end">24</text><line x1="35.3" y1="323.65" x2="39.6" y2="323.65" stroke="#333" stroke-width="1.3"/><text x="31.8" y="328.45" font-family="Liberation Sans, sans-serif" font-size="12" fill="#222" text-anchor="end">18</text><line x1="35.3" y1="364.80" x2="39.6" y2="364.80" stroke="#333" stroke-width="1.3"/><text x="31.8" y="369.60" font-family="Liberation Sans, sans-serif" font-size="12" fill="#222" text-anchor="end">12</text><line x1="39.9" y1="406.5" x2="39.9" y2="561.85" stroke="#000" stroke-width="1.6"/><line x1="35.3" y1="413.40" x2="39.6" y2="413.40" stroke="#333" stroke-width="1.3"/><text x="31.8" y="418.20" font-family="Liberation Sans, sans-serif" font-size="12" fill="#222" text-anchor="end">48</text><line x1="35.3" y1="426.95" x2="39.6" y2="426.95" stroke="#333" stroke-width="1.3"/><text x="31.8" y="431.75" font-family="Liberation Sans, sans-serif" font-size="12" fill="#222" text-anchor="end">42</text><line x1="35.3" y1="442.60" x2="39.6" y2="442.60" stroke="#333" stroke-width="1.3"/><text x="31.8" y="447.40" font-family="Liberation Sans, sans-serif" font-size="12" fill="#222" text-anchor="end">36</text><line x1="35.3" y1="461.10" x2="39.6" y2="461.10" stroke="#333" stroke-width="1.3"/><text x="31.8" y="465.90" font-family="Liberation Sans, sans-serif" font-size="12" fill="#222" text-anchor="end">30</text><line x1="35.3" y1="483.75" x2="39.6" y2="483.75" stroke="#333" stroke-width="1.3"/><text x="31.8" y="488.55" font-family="Liberation Sans, sans-serif" font-size="12" fill="#222" text-anchor="end">24</text><line x1="35.3" y1="512.95" x2="39.6" y2="512.95" stroke="#333" stroke-width="1.3"/><text x="31.8" y="517.75" font-family="Liberation Sans, sans-serif" font-size="12" fill="#222" text-anchor="end">18</text><line x1="35.3" y1="554.10" x2="39.6" y2="554.10" stroke="#333" stroke-width="1.3"/><text x="31.8" y="558.90" font-family="Liberation Sans, sans-serif" font-size="12" fill="#222" text-anchor="end">12</text><line x1="39.1" y1="561.0" x2="357.8" y2="561.0" stroke="#000" stroke-width="1.6"/><line x1="54.00" y1="561.0" x2="54.00" y2="565.0" stroke="#333" stroke-width="1.3"/><text x="54.00" y="577.90" font-family="Liberation Sans, sans-serif" font-size="12" fill="#222" text-anchor="middle">0</text><line x1="93.10" y1="561.0" x2="93.10" y2="565.0" stroke="#333" stroke-width="1.3"/><text x="93.10" y="577.90" font-family="Liberation Sans, sans-serif" font-size="12" fill="#222" text-anchor="middle">10</text><line x1="132.20" y1="561.0" x2="132.20" y2="565.0" stroke="#333" stroke-width="1.3"/><text x="132.20" y="577.90" font-family="Liberation Sans, sans-serif" font-size="12" fill="#222" text-anchor="middle">20</text><line x1="171.30" y1="561.0" x2="171.30" y2="565.0" stroke="#333" stroke-width="1.3"/><text x="171.30" y="577.90" font-family="Liberation Sans, sans-serif" font-size="12" fill="#222" text-anchor="middle">30</text><line x1="210.40" y1="561.0" x2="210.40" y2="565.0" stroke="#333" stroke-width="1.3"/><text x="210.40" y="577.90" font-family="Liberation Sans, sans-serif" font-size="12" fill="#222" text-anchor="middle">40</text><line x1="249.50" y1="561.0" x2="249.50" y2="565.0" stroke="#333" stroke-width="1.3"/><text x="249.50" y="577.90" font-family="Liberation Sans, sans-serif" font-size="12" fill="#222" text-anchor="middle">50</text><line x1="288.60" y1="561.0" x2="288.60" y2="565.0" stroke="#333" stroke-width="1.3"/><text x="288.60" y="577.90" font-family="Liberation Sans, sans-serif" font-size="12" fill="#222" text-anchor="middle">60</text><line x1="327.70" y1="561.0" x2="327.70" y2="565.0" stroke="#333" stroke-width="1.3"/><text x="327.70" y="577.90" font-family="Liberation Sans, sans-serif" font-size="12" fill="#222" text-anchor="middle">70</text><line x1="365.4" y1="371.5" x2="684.2" y2="371.5" stroke="#000" stroke-width="1.6"/><line x1="380.50" y1="371.5" x2="380.50" y2="375.5" stroke="#333" stroke-width="1.3"/><text x="380.50" y="388.60" font-family="Liberation Sans, sans-serif" font-size="12" fill="#222" text-anchor="middle">0</text><line x1="419.60" y1="371.5" x2="419.60" y2="375.5" stroke="#333" stroke-width="1.3"/><text x="419.60" y="388.60" font-family="Liberation Sans, sans-serif" font-size="12" fill="#222" text-anchor="middle">10</text><line x1="458.70" y1="371.5" x2="458.70" y2="375.5" stroke="#333" stroke-width="1.3"/><text x="458.70" y="388.60" font-family="Liberation Sans, sans-serif" font-size="12" fill="#222" text-anchor="middle">20</text><line x1="497.80" y1="371.5" x2="497.80" y2="375.5" stroke="#333" stroke-width="1.3"/><text x="497.80" y="388.60" font-family="Liberation Sans, sans-serif" font-size="12" fill="#222" text-anchor="middle">30</text><line x1="536.90" y1="371.5" x2="536.90" y2="375.5" stroke="#333" stroke-width="1.3"/><text x="536.90" y="388.60" font-family="Liberation Sans, sans-serif" font-size="12" fill="#222" text-anchor="middle">40</text><line x1="576.00" y1="371.5" x2="576.00" y2="375.5" stroke="#333" stroke-width="1.3"/><text x="576.00" y="388.60" font-family="Liberation Sans, sans-serif" font-size="12" fill="#222" text-anchor="middle">50</text><line x1="615.10" y1="371.5" x2="615.10" y2="375.5" stroke="#333" stroke-width="1.3"/><text x="615.10" y="388.60" font-family="Liberation Sans, sans-serif" font-size="12" fill="#222" text-anchor="middle">60</text><line x1="654.20" y1="371.5" x2="654.20" y2="375.5" stroke="#333" stroke-width="1.3"/><text x="654.20" y="388.60" font-family="Liberation Sans, sans-serif" font-size="12" fill="#222" text-anchor="middle">70</text><text x="362" y="594" font-family="Liberation Sans, sans-serif" font-size="12.3" font-weight="bold" fill="#000" text-anchor="middle">Days after arrival</text><text transform="translate(11.2,294.2) rotate(-90)" x="0" y="0" font-family="Liberation Sans, sans-serif" font-size="12.3" font-weight="bold" fill="#000" text-anchor="middle">Period (h)</text><defs><linearGradient id="lg" x1="0" x2="1" y1="0" y2="0"><stop offset="0" stop-color="#3288BD"/><stop offset="0.1667" stop-color="#99D594"/><stop offset="0.3333" stop-color="#E6F598"/><stop offset="0.5" stop-color="#FFFFBF"/><stop offset="0.6667" stop-color="#FEE08B"/><stop offset="0.8333" stop-color="#FC8D59"/><stop offset="1" stop-color="#D53E4F"/></linearGradient></defs><rect x="481.5" y="461.0" width="133.10000000000002" height="26.399999999999977" fill="url(#lg)"/><line x1="481.50" y1="461.0" x2="481.50" y2="466.3" stroke="#fff" stroke-width="1"/><line x1="481.50" y1="482.09999999999997" x2="481.50" y2="487.4" stroke="#fff" stroke-width="1"/><text x="481.50" y="503.5" font-family="Liberation Sans, sans-serif" font-size="12" fill="#222" text-anchor="middle">0.0</text><line x1="512.63" y1="461.0" x2="512.63" y2="466.3" stroke="#fff" stroke-width="1"/><line x1="512.63" y1="482.09999999999997" x2="512.63" y2="487.4" stroke="#fff" stroke-width="1"/><text x="512.63" y="503.5" font-family="Liberation Sans, sans-serif" font-size="12" fill="#222" text-anchor="middle">0.2</text><line x1="543.77" y1="461.0" x2="543.77" y2="466.3" stroke="#fff" stroke-width="1"/><line x1="543.77" y1="482.09999999999997" x2="543.77" y2="487.4" stroke="#fff" stroke-width="1"/><text x="543.77" y="503.5" font-family="Liberation Sans, sans-serif" font-size="12" fill="#222" text-anchor="middle">0.4</text><line x1="574.90" y1="461.0" x2="574.90" y2="466.3" stroke="#fff" stroke-width="1"/><line x1="574.90" y1="482.09999999999997" x2="574.90" y2="487.4" stroke="#fff" stroke-width="1"/><text x="574.90" y="503.5" font-family="Liberation Sans, sans-serif" font-size="12" fill="#222" text-anchor="middle">0.6</text><line x1="606.04" y1="461.0" x2="606.04" y2="466.3" stroke="#fff" stroke-width="1"/><line x1="606.04" y1="482.09999999999997" x2="606.04" y2="487.4" stroke="#fff" stroke-width="1"/><text x="606.04" y="503.5" font-family="Liberation Sans, sans-serif" font-size="12" fill="#222" text-anchor="middle">0.8</text><text x="436.6" y="488.2" font-family="Liberation Sans, sans-serif" font-size="12.3" font-weight="bold" fill="#000">Power</text></svg></body></html>
